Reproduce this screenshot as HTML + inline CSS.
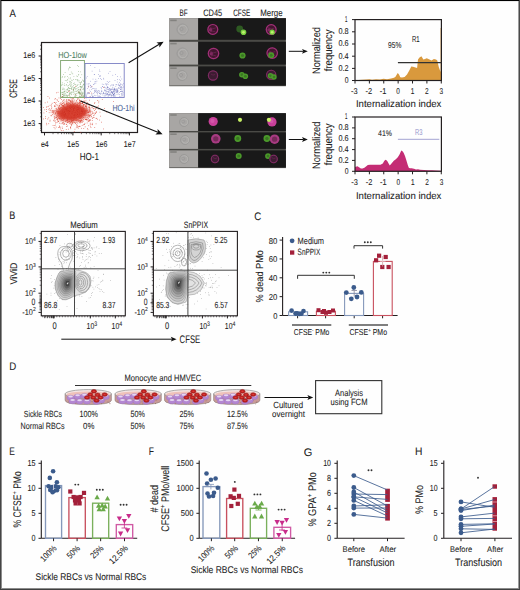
<!DOCTYPE html>
<html><head><meta charset="utf-8"><title>Figure</title>
<style>
html,body{margin:0;padding:0;background:#fefefe;}
body{width:520px;height:590px;overflow:hidden;}
svg{display:block;font-family:"Liberation Sans", sans-serif;text-rendering:geometricPrecision;}
text{stroke-width:0.07px;}
</style></head><body>
<svg width="520" height="590" viewBox="0 0 520 590">
<rect width="520" height="590" fill="#fefefe"/>
<text x="9.6" y="17.2" font-size="11" text-anchor="start" fill="#222" stroke="#222" textLength="6.4" lengthAdjust="spacingAndGlyphs">A</text>
<rect x="41.5" y="42.5" width="96" height="90" fill="none" stroke="#231f20" stroke-width="1.2"/>
<line x1="38.6" y1="56" x2="41.5" y2="56" stroke="#231f20" stroke-width="1"/>
<line x1="38.6" y1="78.5" x2="41.5" y2="78.5" stroke="#231f20" stroke-width="1"/>
<line x1="38.6" y1="101" x2="41.5" y2="101" stroke="#231f20" stroke-width="1"/>
<line x1="38.6" y1="123.6" x2="41.5" y2="123.6" stroke="#231f20" stroke-width="1"/>
<line x1="40.0" y1="71.76" x2="41.5" y2="71.76" stroke="#231f20" stroke-width="0.6"/>
<line x1="40.0" y1="67.79" x2="41.5" y2="67.79" stroke="#231f20" stroke-width="0.6"/>
<line x1="40.0" y1="64.97" x2="41.5" y2="64.97" stroke="#231f20" stroke-width="0.6"/>
<line x1="40.0" y1="62.79" x2="41.5" y2="62.79" stroke="#231f20" stroke-width="0.6"/>
<line x1="40.0" y1="61.0" x2="41.5" y2="61.0" stroke="#231f20" stroke-width="0.6"/>
<line x1="40.0" y1="59.49" x2="41.5" y2="59.49" stroke="#231f20" stroke-width="0.6"/>
<line x1="40.0" y1="58.19" x2="41.5" y2="58.19" stroke="#231f20" stroke-width="0.6"/>
<line x1="40.0" y1="57.03" x2="41.5" y2="57.03" stroke="#231f20" stroke-width="0.6"/>
<line x1="40.0" y1="94.26" x2="41.5" y2="94.26" stroke="#231f20" stroke-width="0.6"/>
<line x1="40.0" y1="90.29" x2="41.5" y2="90.29" stroke="#231f20" stroke-width="0.6"/>
<line x1="40.0" y1="87.47" x2="41.5" y2="87.47" stroke="#231f20" stroke-width="0.6"/>
<line x1="40.0" y1="85.29" x2="41.5" y2="85.29" stroke="#231f20" stroke-width="0.6"/>
<line x1="40.0" y1="83.5" x2="41.5" y2="83.5" stroke="#231f20" stroke-width="0.6"/>
<line x1="40.0" y1="81.99" x2="41.5" y2="81.99" stroke="#231f20" stroke-width="0.6"/>
<line x1="40.0" y1="80.69" x2="41.5" y2="80.69" stroke="#231f20" stroke-width="0.6"/>
<line x1="40.0" y1="79.53" x2="41.5" y2="79.53" stroke="#231f20" stroke-width="0.6"/>
<line x1="40.0" y1="116.76" x2="41.5" y2="116.76" stroke="#231f20" stroke-width="0.6"/>
<line x1="40.0" y1="112.79" x2="41.5" y2="112.79" stroke="#231f20" stroke-width="0.6"/>
<line x1="40.0" y1="109.97" x2="41.5" y2="109.97" stroke="#231f20" stroke-width="0.6"/>
<line x1="40.0" y1="107.79" x2="41.5" y2="107.79" stroke="#231f20" stroke-width="0.6"/>
<line x1="40.0" y1="106.0" x2="41.5" y2="106.0" stroke="#231f20" stroke-width="0.6"/>
<line x1="40.0" y1="104.49" x2="41.5" y2="104.49" stroke="#231f20" stroke-width="0.6"/>
<line x1="40.0" y1="103.19" x2="41.5" y2="103.19" stroke="#231f20" stroke-width="0.6"/>
<line x1="40.0" y1="102.03" x2="41.5" y2="102.03" stroke="#231f20" stroke-width="0.6"/>
<line x1="40.0" y1="130.39" x2="41.5" y2="130.39" stroke="#231f20" stroke-width="0.6"/>
<line x1="40.0" y1="128.6" x2="41.5" y2="128.6" stroke="#231f20" stroke-width="0.6"/>
<line x1="40.0" y1="127.09" x2="41.5" y2="127.09" stroke="#231f20" stroke-width="0.6"/>
<line x1="40.0" y1="125.79" x2="41.5" y2="125.79" stroke="#231f20" stroke-width="0.6"/>
<line x1="40.0" y1="124.63" x2="41.5" y2="124.63" stroke="#231f20" stroke-width="0.6"/>
<line x1="40.0" y1="49.21" x2="41.5" y2="49.21" stroke="#231f20" stroke-width="0.6"/>
<line x1="40.0" y1="45.24" x2="41.5" y2="45.24" stroke="#231f20" stroke-width="0.6"/>
<line x1="44.5" y1="132.5" x2="44.5" y2="135.4" stroke="#231f20" stroke-width="1"/>
<line x1="72.9" y1="132.5" x2="72.9" y2="135.4" stroke="#231f20" stroke-width="1"/>
<line x1="101.2" y1="132.5" x2="101.2" y2="135.4" stroke="#231f20" stroke-width="1"/>
<line x1="129.4" y1="132.5" x2="129.4" y2="135.4" stroke="#231f20" stroke-width="1"/>
<line x1="53.02" y1="132.5" x2="53.02" y2="134.2" stroke="#231f20" stroke-width="0.6"/>
<line x1="58.0" y1="132.5" x2="58.0" y2="134.2" stroke="#231f20" stroke-width="0.6"/>
<line x1="61.54" y1="132.5" x2="61.54" y2="134.2" stroke="#231f20" stroke-width="0.6"/>
<line x1="64.28" y1="132.5" x2="64.28" y2="134.2" stroke="#231f20" stroke-width="0.6"/>
<line x1="66.52" y1="132.5" x2="66.52" y2="134.2" stroke="#231f20" stroke-width="0.6"/>
<line x1="68.42" y1="132.5" x2="68.42" y2="134.2" stroke="#231f20" stroke-width="0.6"/>
<line x1="70.06" y1="132.5" x2="70.06" y2="134.2" stroke="#231f20" stroke-width="0.6"/>
<line x1="71.51" y1="132.5" x2="71.51" y2="134.2" stroke="#231f20" stroke-width="0.6"/>
<line x1="81.42" y1="132.5" x2="81.42" y2="134.2" stroke="#231f20" stroke-width="0.6"/>
<line x1="86.4" y1="132.5" x2="86.4" y2="134.2" stroke="#231f20" stroke-width="0.6"/>
<line x1="89.94" y1="132.5" x2="89.94" y2="134.2" stroke="#231f20" stroke-width="0.6"/>
<line x1="92.68" y1="132.5" x2="92.68" y2="134.2" stroke="#231f20" stroke-width="0.6"/>
<line x1="94.92" y1="132.5" x2="94.92" y2="134.2" stroke="#231f20" stroke-width="0.6"/>
<line x1="96.82" y1="132.5" x2="96.82" y2="134.2" stroke="#231f20" stroke-width="0.6"/>
<line x1="98.46" y1="132.5" x2="98.46" y2="134.2" stroke="#231f20" stroke-width="0.6"/>
<line x1="99.91" y1="132.5" x2="99.91" y2="134.2" stroke="#231f20" stroke-width="0.6"/>
<line x1="109.72" y1="132.5" x2="109.72" y2="134.2" stroke="#231f20" stroke-width="0.6"/>
<line x1="114.7" y1="132.5" x2="114.7" y2="134.2" stroke="#231f20" stroke-width="0.6"/>
<line x1="118.24" y1="132.5" x2="118.24" y2="134.2" stroke="#231f20" stroke-width="0.6"/>
<line x1="120.98" y1="132.5" x2="120.98" y2="134.2" stroke="#231f20" stroke-width="0.6"/>
<line x1="123.22" y1="132.5" x2="123.22" y2="134.2" stroke="#231f20" stroke-width="0.6"/>
<line x1="125.12" y1="132.5" x2="125.12" y2="134.2" stroke="#231f20" stroke-width="0.6"/>
<line x1="126.76" y1="132.5" x2="126.76" y2="134.2" stroke="#231f20" stroke-width="0.6"/>
<line x1="128.21" y1="132.5" x2="128.21" y2="134.2" stroke="#231f20" stroke-width="0.6"/>
<text x="35.3" y="58.4" font-size="8.51" text-anchor="end" fill="#222" stroke="#222" textLength="12.0" lengthAdjust="spacingAndGlyphs">1e6</text>
<text x="35.3" y="80.9" font-size="8.51" text-anchor="end" fill="#222" stroke="#222" textLength="12.0" lengthAdjust="spacingAndGlyphs">1e5</text>
<text x="35.3" y="103.4" font-size="8.51" text-anchor="end" fill="#222" stroke="#222" textLength="12.0" lengthAdjust="spacingAndGlyphs">1e4</text>
<text x="35.3" y="126.0" font-size="8.51" text-anchor="end" fill="#222" stroke="#222" textLength="12.0" lengthAdjust="spacingAndGlyphs">1e3</text>
<text x="44.8" y="146.9" font-size="8.51" text-anchor="middle" fill="#222" stroke="#222" textLength="7.8" lengthAdjust="spacingAndGlyphs">e4</text>
<text x="73.2" y="146.9" font-size="8.51" text-anchor="middle" fill="#222" stroke="#222" textLength="11.7" lengthAdjust="spacingAndGlyphs">1e5</text>
<text x="101.5" y="146.9" font-size="8.51" text-anchor="middle" fill="#222" stroke="#222" textLength="11.7" lengthAdjust="spacingAndGlyphs">1e6</text>
<text x="129.70000000000002" y="146.9" font-size="8.51" text-anchor="middle" fill="#222" stroke="#222" textLength="11.7" lengthAdjust="spacingAndGlyphs">1e7</text>
<text x="79.8" y="159.9" font-size="10.18" text-anchor="start" fill="#222" stroke="#222" textLength="19.2" lengthAdjust="spacingAndGlyphs">HO-1</text>
<text x="16.8" y="97.8" font-size="10.81" text-anchor="start" fill="#222" stroke="#222" textLength="18.6" lengthAdjust="spacingAndGlyphs" transform="rotate(-90 16.8 97.8)">CFSE</text>
<defs><filter id="bl1" x="-50%" y="-50%" width="200%" height="200%"><feGaussianBlur stdDeviation="1.6"/></filter><filter id="bl05"><feGaussianBlur stdDeviation="0.45"/></filter></defs>
<polygon points="52,113 60,105 71,100.5 82,103.5 92,111 86,118.5 73,123.5 60,121" fill="#e88a7c" opacity="0.5" filter="url(#bl1)"/>
<polygon points="56,113.5 63,107 71,103.5 80,105.5 88.5,111 84,116.5 73,120.5 62,119" fill="#d4382c" filter="url(#bl1)"/>
<polygon points="60,113 66,108 72,106 79,107.5 85,111.5 81,115.5 72,118.5 64,117.5" fill="#cc2e22" filter="url(#bl1)"/>
<g fill="#d84434">
<rect x="68.6" y="109.0" width=".7" height=".7"/>
<rect x="63.2" y="110.7" width=".7" height=".7"/>
<rect x="82.6" y="114.5" width=".7" height=".7"/>
<rect x="77.9" y="113.8" width=".7" height=".7"/>
<rect x="56.2" y="117.1" width=".7" height=".7"/>
<rect x="76.8" y="115.0" width=".7" height=".7"/>
<rect x="58.7" y="107.6" width=".7" height=".7"/>
<rect x="74.9" y="111.7" width=".7" height=".7"/>
<rect x="76.9" y="108.1" width=".7" height=".7"/>
<rect x="62.1" y="128.3" width=".7" height=".7"/>
<rect x="77.3" y="119.2" width=".7" height=".7"/>
<rect x="66.1" y="107.6" width=".7" height=".7"/>
<rect x="81.5" y="114.4" width=".7" height=".7"/>
<rect x="67.8" y="106.3" width=".7" height=".7"/>
<rect x="67.1" y="119.3" width=".7" height=".7"/>
<rect x="78.4" y="97.8" width=".7" height=".7"/>
<rect x="72.5" y="119.8" width=".7" height=".7"/>
<rect x="52.9" y="110.1" width=".7" height=".7"/>
<rect x="79.5" y="111.4" width=".7" height=".7"/>
<rect x="58.1" y="117.0" width=".7" height=".7"/>
<rect x="78.4" y="117.7" width=".7" height=".7"/>
<rect x="73.8" y="99.7" width=".7" height=".7"/>
<rect x="77.8" y="108.3" width=".7" height=".7"/>
<rect x="67.7" y="104.4" width=".7" height=".7"/>
<rect x="91.3" y="92.7" width=".7" height=".7"/>
<rect x="58.2" y="113.4" width=".7" height=".7"/>
<rect x="85.7" y="115.5" width=".7" height=".7"/>
<rect x="77.4" y="105.0" width=".7" height=".7"/>
<rect x="61.4" y="117.9" width=".7" height=".7"/>
<rect x="82.5" y="112.9" width=".7" height=".7"/>
<rect x="95.9" y="117.9" width=".7" height=".7"/>
<rect x="76.9" y="115.3" width=".7" height=".7"/>
<rect x="57.1" y="119.7" width=".7" height=".7"/>
<rect x="80.0" y="101.1" width=".7" height=".7"/>
<rect x="70.3" y="118.1" width=".7" height=".7"/>
<rect x="80.3" y="110.6" width=".7" height=".7"/>
<rect x="75.1" y="115.9" width=".7" height=".7"/>
<rect x="73.1" y="118.9" width=".7" height=".7"/>
<rect x="87.6" y="112.3" width=".7" height=".7"/>
<rect x="63.6" y="117.7" width=".7" height=".7"/>
<rect x="85.9" y="109.3" width=".7" height=".7"/>
<rect x="69.8" y="109.2" width=".7" height=".7"/>
<rect x="85.3" y="105.8" width=".7" height=".7"/>
<rect x="84.0" y="104.4" width=".7" height=".7"/>
<rect x="88.9" y="120.2" width=".7" height=".7"/>
<rect x="75.3" y="112.9" width=".7" height=".7"/>
<rect x="73.4" y="115.5" width=".7" height=".7"/>
<rect x="80.6" y="112.0" width=".7" height=".7"/>
<rect x="79.3" y="115.4" width=".7" height=".7"/>
<rect x="91.1" y="113.9" width=".7" height=".7"/>
<rect x="71.8" y="120.8" width=".7" height=".7"/>
<rect x="68.8" y="114.3" width=".7" height=".7"/>
<rect x="89.5" y="96.6" width=".7" height=".7"/>
<rect x="78.0" y="114.3" width=".7" height=".7"/>
<rect x="67.9" y="115.9" width=".7" height=".7"/>
<rect x="74.7" y="108.9" width=".7" height=".7"/>
<rect x="63.7" y="111.1" width=".7" height=".7"/>
<rect x="69.9" y="111.6" width=".7" height=".7"/>
<rect x="46.1" y="109.1" width=".7" height=".7"/>
<rect x="71.0" y="121.1" width=".7" height=".7"/>
<rect x="80.1" y="120.9" width=".7" height=".7"/>
<rect x="55.8" y="109.9" width=".7" height=".7"/>
<rect x="88.4" y="86.5" width=".7" height=".7"/>
<rect x="82.3" y="103.3" width=".7" height=".7"/>
<rect x="78.5" y="103.0" width=".7" height=".7"/>
<rect x="69.8" y="113.8" width=".7" height=".7"/>
<rect x="79.6" y="112.8" width=".7" height=".7"/>
<rect x="71.2" y="121.2" width=".7" height=".7"/>
<rect x="113.2" y="101.1" width=".7" height=".7"/>
<rect x="80.7" y="110.4" width=".7" height=".7"/>
<rect x="73.3" y="116.2" width=".7" height=".7"/>
<rect x="49.1" y="97.7" width=".7" height=".7"/>
<rect x="77.8" y="106.2" width=".7" height=".7"/>
<rect x="62.2" y="103.2" width=".7" height=".7"/>
<rect x="94.1" y="103.1" width=".7" height=".7"/>
<rect x="72.0" y="105.2" width=".7" height=".7"/>
<rect x="79.3" y="121.5" width=".7" height=".7"/>
<rect x="86.8" y="110.3" width=".7" height=".7"/>
<rect x="53.3" y="120.4" width=".7" height=".7"/>
<rect x="71.1" y="108.4" width=".7" height=".7"/>
<rect x="94.5" y="102.3" width=".7" height=".7"/>
<rect x="82.8" y="120.9" width=".7" height=".7"/>
<rect x="85.8" y="110.9" width=".7" height=".7"/>
<rect x="73.7" y="113.2" width=".7" height=".7"/>
<rect x="85.5" y="110.4" width=".7" height=".7"/>
<rect x="50.2" y="109.7" width=".7" height=".7"/>
<rect x="76.8" y="106.2" width=".7" height=".7"/>
<rect x="71.9" y="117.0" width=".7" height=".7"/>
<rect x="72.7" y="120.0" width=".7" height=".7"/>
<rect x="94.4" y="127.3" width=".7" height=".7"/>
<rect x="65.6" y="117.3" width=".7" height=".7"/>
<rect x="54.2" y="105.5" width=".7" height=".7"/>
<rect x="53.5" y="111.9" width=".7" height=".7"/>
<rect x="70.2" y="111.8" width=".7" height=".7"/>
<rect x="66.4" y="113.4" width=".7" height=".7"/>
<rect x="80.0" y="121.5" width=".7" height=".7"/>
<rect x="70.1" y="104.4" width=".7" height=".7"/>
<rect x="66.7" y="118.4" width=".7" height=".7"/>
<rect x="87.1" y="119.5" width=".7" height=".7"/>
<rect x="72.1" y="116.8" width=".7" height=".7"/>
<rect x="73.6" y="104.9" width=".7" height=".7"/>
<rect x="85.8" y="106.6" width=".7" height=".7"/>
<rect x="63.4" y="107.4" width=".7" height=".7"/>
<rect x="57.4" y="111.3" width=".7" height=".7"/>
<rect x="65.9" y="100.3" width=".7" height=".7"/>
<rect x="78.9" y="110.3" width=".7" height=".7"/>
<rect x="76.4" y="107.6" width=".7" height=".7"/>
<rect x="79.4" y="116.5" width=".7" height=".7"/>
<rect x="78.3" y="114.0" width=".7" height=".7"/>
<rect x="78.8" y="92.2" width=".7" height=".7"/>
<rect x="80.5" y="119.9" width=".7" height=".7"/>
<rect x="69.2" y="109.2" width=".7" height=".7"/>
<rect x="63.2" y="116.1" width=".7" height=".7"/>
<rect x="89.9" y="111.3" width=".7" height=".7"/>
<rect x="58.4" y="111.2" width=".7" height=".7"/>
<rect x="74.8" y="117.0" width=".7" height=".7"/>
<rect x="71.7" y="110.8" width=".7" height=".7"/>
<rect x="85.4" y="113.0" width=".7" height=".7"/>
<rect x="63.9" y="107.0" width=".7" height=".7"/>
<rect x="97.3" y="118.8" width=".7" height=".7"/>
<rect x="81.3" y="116.6" width=".7" height=".7"/>
<rect x="88.0" y="114.6" width=".7" height=".7"/>
<rect x="71.4" y="115.1" width=".7" height=".7"/>
<rect x="76.9" y="105.3" width=".7" height=".7"/>
<rect x="84.6" y="122.9" width=".7" height=".7"/>
<rect x="58.7" y="108.0" width=".7" height=".7"/>
<rect x="66.0" y="102.7" width=".7" height=".7"/>
<rect x="92.1" y="118.2" width=".7" height=".7"/>
<rect x="60.7" y="103.9" width=".7" height=".7"/>
<rect x="99.3" y="119.7" width=".7" height=".7"/>
<rect x="63.7" y="113.6" width=".7" height=".7"/>
<rect x="51.5" y="107.5" width=".7" height=".7"/>
<rect x="61.1" y="110.8" width=".7" height=".7"/>
<rect x="76.4" y="114.3" width=".7" height=".7"/>
<rect x="78.1" y="113.3" width=".7" height=".7"/>
<rect x="72.7" y="104.2" width=".7" height=".7"/>
<rect x="66.1" y="112.0" width=".7" height=".7"/>
<rect x="71.0" y="112.9" width=".7" height=".7"/>
<rect x="70.0" y="100.0" width=".7" height=".7"/>
<rect x="76.0" y="118.3" width=".7" height=".7"/>
<rect x="76.1" y="110.9" width=".7" height=".7"/>
<rect x="43.6" y="112.6" width=".7" height=".7"/>
<rect x="63.2" y="116.4" width=".7" height=".7"/>
<rect x="61.7" y="96.2" width=".7" height=".7"/>
<rect x="66.3" y="99.0" width=".7" height=".7"/>
<rect x="64.7" y="115.1" width=".7" height=".7"/>
<rect x="76.7" y="113.1" width=".7" height=".7"/>
<rect x="71.7" y="117.7" width=".7" height=".7"/>
<rect x="87.7" y="117.8" width=".7" height=".7"/>
<rect x="81.7" y="105.5" width=".7" height=".7"/>
<rect x="67.6" y="122.2" width=".7" height=".7"/>
<rect x="77.7" y="117.4" width=".7" height=".7"/>
<rect x="70.0" y="127.3" width=".7" height=".7"/>
<rect x="68.7" y="117.2" width=".7" height=".7"/>
<rect x="81.3" y="112.0" width=".7" height=".7"/>
<rect x="77.4" y="122.7" width=".7" height=".7"/>
<rect x="79.4" y="112.1" width=".7" height=".7"/>
<rect x="80.1" y="115.2" width=".7" height=".7"/>
<rect x="68.3" y="118.5" width=".7" height=".7"/>
<rect x="62.0" y="108.2" width=".7" height=".7"/>
<rect x="72.0" y="103.2" width=".7" height=".7"/>
<rect x="61.8" y="117.4" width=".7" height=".7"/>
<rect x="77.4" y="111.7" width=".7" height=".7"/>
<rect x="69.8" y="103.5" width=".7" height=".7"/>
<rect x="88.4" y="103.6" width=".7" height=".7"/>
<rect x="70.2" y="101.1" width=".7" height=".7"/>
<rect x="79.4" y="117.6" width=".7" height=".7"/>
<rect x="81.5" y="95.3" width=".7" height=".7"/>
<rect x="54.7" y="105.6" width=".7" height=".7"/>
<rect x="66.0" y="103.6" width=".7" height=".7"/>
<rect x="81.5" y="118.7" width=".7" height=".7"/>
<rect x="86.3" y="119.0" width=".7" height=".7"/>
<rect x="59.5" y="109.0" width=".7" height=".7"/>
<rect x="70.8" y="112.1" width=".7" height=".7"/>
<rect x="76.7" y="102.5" width=".7" height=".7"/>
<rect x="60.2" y="111.9" width=".7" height=".7"/>
<rect x="71.1" y="104.8" width=".7" height=".7"/>
<rect x="78.7" y="114.1" width=".7" height=".7"/>
<rect x="71.2" y="108.0" width=".7" height=".7"/>
<rect x="57.3" y="112.4" width=".7" height=".7"/>
<rect x="57.7" y="113.2" width=".7" height=".7"/>
<rect x="73.4" y="103.7" width=".7" height=".7"/>
<rect x="78.9" y="117.8" width=".7" height=".7"/>
<rect x="71.7" y="106.9" width=".7" height=".7"/>
<rect x="70.6" y="111.6" width=".7" height=".7"/>
<rect x="61.2" y="99.1" width=".7" height=".7"/>
<rect x="68.5" y="107.6" width=".7" height=".7"/>
<rect x="61.4" y="111.3" width=".7" height=".7"/>
<rect x="79.8" y="108.1" width=".7" height=".7"/>
<rect x="94.1" y="110.1" width=".7" height=".7"/>
<rect x="82.5" y="112.7" width=".7" height=".7"/>
<rect x="60.7" y="114.3" width=".7" height=".7"/>
<rect x="77.7" y="126.0" width=".7" height=".7"/>
<rect x="75.1" y="119.7" width=".7" height=".7"/>
<rect x="79.7" y="110.5" width=".7" height=".7"/>
<rect x="76.8" y="105.5" width=".7" height=".7"/>
<rect x="83.2" y="105.9" width=".7" height=".7"/>
<rect x="68.6" y="112.2" width=".7" height=".7"/>
<rect x="83.0" y="112.2" width=".7" height=".7"/>
<rect x="64.3" y="113.5" width=".7" height=".7"/>
<rect x="60.4" y="128.6" width=".7" height=".7"/>
<rect x="87.8" y="112.1" width=".7" height=".7"/>
<rect x="74.6" y="109.4" width=".7" height=".7"/>
<rect x="82.1" y="107.4" width=".7" height=".7"/>
<rect x="65.4" y="116.3" width=".7" height=".7"/>
<rect x="84.7" y="111.9" width=".7" height=".7"/>
<rect x="71.3" y="115.0" width=".7" height=".7"/>
<rect x="86.5" y="118.8" width=".7" height=".7"/>
<rect x="67.1" y="125.7" width=".7" height=".7"/>
<rect x="62.3" y="111.6" width=".7" height=".7"/>
<rect x="55.4" y="122.7" width=".7" height=".7"/>
<rect x="85.0" y="104.7" width=".7" height=".7"/>
<rect x="89.6" y="107.6" width=".7" height=".7"/>
<rect x="71.4" y="110.1" width=".7" height=".7"/>
<rect x="70.8" y="105.5" width=".7" height=".7"/>
<rect x="70.9" y="114.9" width=".7" height=".7"/>
<rect x="76.4" y="110.6" width=".7" height=".7"/>
<rect x="63.4" y="113.0" width=".7" height=".7"/>
<rect x="83.5" y="110.9" width=".7" height=".7"/>
<rect x="67.5" y="107.8" width=".7" height=".7"/>
<rect x="63.1" y="109.9" width=".7" height=".7"/>
<rect x="80.5" y="131.9" width=".7" height=".7"/>
<rect x="65.3" y="112.1" width=".7" height=".7"/>
<rect x="98.5" y="100.8" width=".7" height=".7"/>
<rect x="74.3" y="115.9" width=".7" height=".7"/>
<rect x="69.7" y="114.2" width=".7" height=".7"/>
<rect x="72.5" y="116.6" width=".7" height=".7"/>
<rect x="72.0" y="102.2" width=".7" height=".7"/>
<rect x="62.1" y="115.8" width=".7" height=".7"/>
<rect x="65.8" y="115.8" width=".7" height=".7"/>
<rect x="79.6" y="111.0" width=".7" height=".7"/>
<rect x="58.6" y="111.8" width=".7" height=".7"/>
<rect x="76.3" y="108.8" width=".7" height=".7"/>
<rect x="58.8" y="118.1" width=".7" height=".7"/>
<rect x="89.7" y="108.7" width=".7" height=".7"/>
<rect x="73.4" y="111.1" width=".7" height=".7"/>
<rect x="85.5" y="105.4" width=".7" height=".7"/>
<rect x="71.8" y="111.9" width=".7" height=".7"/>
<rect x="55.1" y="120.6" width=".7" height=".7"/>
<rect x="83.2" y="110.8" width=".7" height=".7"/>
<rect x="76.3" y="114.2" width=".7" height=".7"/>
<rect x="57.8" y="110.7" width=".7" height=".7"/>
<rect x="56.7" y="99.1" width=".7" height=".7"/>
<rect x="60.4" y="114.0" width=".7" height=".7"/>
<rect x="88.1" y="114.6" width=".7" height=".7"/>
<rect x="64.2" y="105.6" width=".7" height=".7"/>
<rect x="77.0" y="115.3" width=".7" height=".7"/>
<rect x="62.4" y="105.0" width=".7" height=".7"/>
<rect x="52.4" y="110.1" width=".7" height=".7"/>
<rect x="66.8" y="114.8" width=".7" height=".7"/>
<rect x="70.9" y="111.5" width=".7" height=".7"/>
<rect x="92.9" y="108.5" width=".7" height=".7"/>
<rect x="80.0" y="107.5" width=".7" height=".7"/>
<rect x="72.7" y="116.5" width=".7" height=".7"/>
<rect x="70.9" y="113.9" width=".7" height=".7"/>
<rect x="57.8" y="112.1" width=".7" height=".7"/>
<rect x="65.6" y="114.2" width=".7" height=".7"/>
<rect x="72.6" y="114.5" width=".7" height=".7"/>
<rect x="66.8" y="117.3" width=".7" height=".7"/>
<rect x="69.4" y="108.4" width=".7" height=".7"/>
<rect x="61.8" y="111.8" width=".7" height=".7"/>
<rect x="80.1" y="111.0" width=".7" height=".7"/>
<rect x="74.9" y="108.1" width=".7" height=".7"/>
<rect x="65.9" y="112.1" width=".7" height=".7"/>
<rect x="73.6" y="118.1" width=".7" height=".7"/>
<rect x="81.1" y="119.6" width=".7" height=".7"/>
<rect x="77.9" y="127.8" width=".7" height=".7"/>
<rect x="73.9" y="113.5" width=".7" height=".7"/>
<rect x="97.0" y="100.2" width=".7" height=".7"/>
<rect x="68.4" y="91.3" width=".7" height=".7"/>
<rect x="79.7" y="109.8" width=".7" height=".7"/>
<rect x="71.9" y="109.6" width=".7" height=".7"/>
<rect x="67.3" y="107.0" width=".7" height=".7"/>
<rect x="66.0" y="115.8" width=".7" height=".7"/>
<rect x="69.4" y="120.7" width=".7" height=".7"/>
<rect x="76.7" y="111.1" width=".7" height=".7"/>
<rect x="78.3" y="111.1" width=".7" height=".7"/>
<rect x="79.0" y="102.9" width=".7" height=".7"/>
<rect x="82.2" y="114.1" width=".7" height=".7"/>
<rect x="57.1" y="121.7" width=".7" height=".7"/>
<rect x="75.0" y="110.6" width=".7" height=".7"/>
<rect x="57.3" y="117.8" width=".7" height=".7"/>
<rect x="72.3" y="110.3" width=".7" height=".7"/>
<rect x="82.1" y="108.5" width=".7" height=".7"/>
<rect x="71.7" y="99.2" width=".7" height=".7"/>
<rect x="68.0" y="116.1" width=".7" height=".7"/>
<rect x="70.2" y="127.0" width=".7" height=".7"/>
<rect x="68.9" y="116.4" width=".7" height=".7"/>
<rect x="87.9" y="112.2" width=".7" height=".7"/>
<rect x="75.1" y="111.3" width=".7" height=".7"/>
<rect x="73.1" y="118.8" width=".7" height=".7"/>
<rect x="94.7" y="108.0" width=".7" height=".7"/>
<rect x="56.2" y="116.7" width=".7" height=".7"/>
<rect x="77.4" y="110.3" width=".7" height=".7"/>
<rect x="77.0" y="102.7" width=".7" height=".7"/>
<rect x="61.6" y="106.7" width=".7" height=".7"/>
<rect x="68.2" y="117.2" width=".7" height=".7"/>
<rect x="72.8" y="109.6" width=".7" height=".7"/>
<rect x="72.1" y="115.5" width=".7" height=".7"/>
<rect x="83.8" y="113.6" width=".7" height=".7"/>
<rect x="59.8" y="126.9" width=".7" height=".7"/>
<rect x="71.4" y="116.0" width=".7" height=".7"/>
<rect x="81.2" y="116.0" width=".7" height=".7"/>
<rect x="69.4" y="105.7" width=".7" height=".7"/>
<rect x="55.7" y="102.2" width=".7" height=".7"/>
<rect x="71.8" y="100.4" width=".7" height=".7"/>
<rect x="69.5" y="109.4" width=".7" height=".7"/>
<rect x="58.8" y="108.3" width=".7" height=".7"/>
<rect x="71.5" y="108.0" width=".7" height=".7"/>
<rect x="72.1" y="116.5" width=".7" height=".7"/>
<rect x="60.2" y="108.0" width=".7" height=".7"/>
<rect x="48.4" y="123.4" width=".7" height=".7"/>
<rect x="65.1" y="111.8" width=".7" height=".7"/>
<rect x="79.0" y="111.7" width=".7" height=".7"/>
<rect x="54.7" y="113.8" width=".7" height=".7"/>
<rect x="83.3" y="100.8" width=".7" height=".7"/>
<rect x="79.1" y="116.2" width=".7" height=".7"/>
<rect x="84.4" y="110.7" width=".7" height=".7"/>
<rect x="80.3" y="109.5" width=".7" height=".7"/>
<rect x="70.4" y="128.4" width=".7" height=".7"/>
<rect x="76.2" y="111.1" width=".7" height=".7"/>
<rect x="61.1" y="107.3" width=".7" height=".7"/>
<rect x="78.4" y="117.0" width=".7" height=".7"/>
<rect x="71.6" y="120.1" width=".7" height=".7"/>
<rect x="68.3" y="108.7" width=".7" height=".7"/>
<rect x="67.8" y="106.5" width=".7" height=".7"/>
<rect x="69.6" y="115.7" width=".7" height=".7"/>
<rect x="75.4" y="104.7" width=".7" height=".7"/>
<rect x="57.0" y="119.3" width=".7" height=".7"/>
<rect x="69.3" y="110.0" width=".7" height=".7"/>
<rect x="79.6" y="119.9" width=".7" height=".7"/>
<rect x="67.3" y="119.2" width=".7" height=".7"/>
<rect x="65.9" y="116.9" width=".7" height=".7"/>
<rect x="65.5" y="116.8" width=".7" height=".7"/>
<rect x="71.1" y="108.0" width=".7" height=".7"/>
<rect x="92.4" y="112.5" width=".7" height=".7"/>
<rect x="46.2" y="122.9" width=".7" height=".7"/>
<rect x="66.5" y="112.9" width=".7" height=".7"/>
<rect x="84.0" y="112.7" width=".7" height=".7"/>
<rect x="89.7" y="119.0" width=".7" height=".7"/>
<rect x="64.3" y="117.2" width=".7" height=".7"/>
<rect x="76.7" y="115.9" width=".7" height=".7"/>
<rect x="85.5" y="119.0" width=".7" height=".7"/>
<rect x="80.4" y="97.3" width=".7" height=".7"/>
<rect x="73.6" y="115.0" width=".7" height=".7"/>
<rect x="67.1" y="112.3" width=".7" height=".7"/>
<rect x="80.4" y="109.3" width=".7" height=".7"/>
<rect x="82.9" y="107.3" width=".7" height=".7"/>
<rect x="74.4" y="105.4" width=".7" height=".7"/>
<rect x="56.8" y="118.6" width=".7" height=".7"/>
<rect x="74.9" y="108.6" width=".7" height=".7"/>
<rect x="57.3" y="111.0" width=".7" height=".7"/>
<rect x="77.1" y="115.2" width=".7" height=".7"/>
<rect x="68.8" y="99.4" width=".7" height=".7"/>
<rect x="72.2" y="109.4" width=".7" height=".7"/>
<rect x="74.5" y="109.4" width=".7" height=".7"/>
<rect x="62.3" y="107.6" width=".7" height=".7"/>
<rect x="54.6" y="118.0" width=".7" height=".7"/>
<rect x="59.6" y="116.0" width=".7" height=".7"/>
<rect x="62.4" y="114.1" width=".7" height=".7"/>
<rect x="61.0" y="112.5" width=".7" height=".7"/>
<rect x="73.4" y="101.6" width=".7" height=".7"/>
<rect x="66.2" y="113.0" width=".7" height=".7"/>
<rect x="83.0" y="119.3" width=".7" height=".7"/>
<rect x="80.6" y="115.5" width=".7" height=".7"/>
<rect x="69.3" y="111.9" width=".7" height=".7"/>
<rect x="69.3" y="95.6" width=".7" height=".7"/>
<rect x="68.8" y="111.9" width=".7" height=".7"/>
<rect x="62.7" y="111.9" width=".7" height=".7"/>
<rect x="103.1" y="87.2" width=".7" height=".7"/>
<rect x="70.0" y="101.0" width=".7" height=".7"/>
<rect x="81.3" y="127.9" width=".7" height=".7"/>
<rect x="79.8" y="109.1" width=".7" height=".7"/>
<rect x="77.2" y="98.5" width=".7" height=".7"/>
<rect x="80.1" y="114.2" width=".7" height=".7"/>
<rect x="81.6" y="107.4" width=".7" height=".7"/>
<rect x="74.1" y="108.9" width=".7" height=".7"/>
<rect x="50.7" y="111.8" width=".7" height=".7"/>
<rect x="58.9" y="111.7" width=".7" height=".7"/>
<rect x="77.9" y="112.9" width=".7" height=".7"/>
<rect x="83.8" y="123.9" width=".7" height=".7"/>
<rect x="84.8" y="126.5" width=".7" height=".7"/>
<rect x="80.8" y="116.9" width=".7" height=".7"/>
<rect x="66.1" y="107.7" width=".7" height=".7"/>
<rect x="44.8" y="102.5" width=".7" height=".7"/>
<rect x="95.7" y="123.5" width=".7" height=".7"/>
<rect x="65.5" y="107.6" width=".7" height=".7"/>
<rect x="91.7" y="111.3" width=".7" height=".7"/>
<rect x="61.7" y="119.9" width=".7" height=".7"/>
<rect x="66.5" y="113.3" width=".7" height=".7"/>
<rect x="76.9" y="105.4" width=".7" height=".7"/>
<rect x="54.5" y="98.8" width=".7" height=".7"/>
<rect x="60.0" y="107.4" width=".7" height=".7"/>
<rect x="80.3" y="113.1" width=".7" height=".7"/>
<rect x="64.5" y="107.7" width=".7" height=".7"/>
<rect x="51.9" y="111.0" width=".7" height=".7"/>
<rect x="70.2" y="110.3" width=".7" height=".7"/>
<rect x="80.9" y="112.1" width=".7" height=".7"/>
<rect x="79.0" y="115.5" width=".7" height=".7"/>
<rect x="63.4" y="108.6" width=".7" height=".7"/>
<rect x="64.3" y="107.2" width=".7" height=".7"/>
<rect x="86.8" y="122.6" width=".7" height=".7"/>
<rect x="89.6" y="119.7" width=".7" height=".7"/>
<rect x="83.5" y="104.4" width=".7" height=".7"/>
<rect x="65.9" y="114.7" width=".7" height=".7"/>
<rect x="59.1" y="108.6" width=".7" height=".7"/>
<rect x="65.7" y="106.9" width=".7" height=".7"/>
<rect x="86.3" y="108.2" width=".7" height=".7"/>
<rect x="89.8" y="115.2" width=".7" height=".7"/>
<rect x="66.2" y="114.5" width=".7" height=".7"/>
<rect x="87.4" y="115.7" width=".7" height=".7"/>
<rect x="79.7" y="110.1" width=".7" height=".7"/>
<rect x="76.1" y="119.8" width=".7" height=".7"/>
<rect x="58.4" y="111.6" width=".7" height=".7"/>
<rect x="67.4" y="119.5" width=".7" height=".7"/>
<rect x="91.0" y="115.8" width=".7" height=".7"/>
<rect x="75.1" y="102.7" width=".7" height=".7"/>
<rect x="71.5" y="101.4" width=".7" height=".7"/>
<rect x="71.5" y="105.4" width=".7" height=".7"/>
<rect x="72.7" y="114.8" width=".7" height=".7"/>
<rect x="59.2" y="125.6" width=".7" height=".7"/>
<rect x="65.8" y="101.1" width=".7" height=".7"/>
<rect x="70.2" y="107.4" width=".7" height=".7"/>
<rect x="76.4" y="100.8" width=".7" height=".7"/>
<rect x="70.7" y="120.6" width=".7" height=".7"/>
<rect x="78.5" y="111.1" width=".7" height=".7"/>
<rect x="71.3" y="119.0" width=".7" height=".7"/>
<rect x="71.1" y="97.6" width=".7" height=".7"/>
<rect x="71.8" y="106.7" width=".7" height=".7"/>
<rect x="62.1" y="105.3" width=".7" height=".7"/>
<rect x="58.6" y="97.6" width=".7" height=".7"/>
<rect x="62.4" y="94.3" width=".7" height=".7"/>
<rect x="57.9" y="115.7" width=".7" height=".7"/>
<rect x="64.6" y="109.8" width=".7" height=".7"/>
<rect x="101.1" y="121.8" width=".7" height=".7"/>
<rect x="73.4" y="113.1" width=".7" height=".7"/>
<rect x="89.1" y="120.6" width=".7" height=".7"/>
<rect x="76.3" y="112.5" width=".7" height=".7"/>
<rect x="67.2" y="104.0" width=".7" height=".7"/>
<rect x="66.9" y="102.7" width=".7" height=".7"/>
<rect x="53.9" y="125.3" width=".7" height=".7"/>
<rect x="80.5" y="100.5" width=".7" height=".7"/>
<rect x="89.5" y="116.9" width=".7" height=".7"/>
<rect x="80.0" y="116.0" width=".7" height=".7"/>
<rect x="73.9" y="113.0" width=".7" height=".7"/>
<rect x="82.0" y="103.0" width=".7" height=".7"/>
<rect x="63.6" y="106.2" width=".7" height=".7"/>
<rect x="75.5" y="113.6" width=".7" height=".7"/>
<rect x="72.3" y="107.9" width=".7" height=".7"/>
<rect x="83.5" y="113.0" width=".7" height=".7"/>
<rect x="68.9" y="121.3" width=".7" height=".7"/>
<rect x="66.4" y="115.9" width=".7" height=".7"/>
<rect x="84.4" y="101.4" width=".7" height=".7"/>
<rect x="81.6" y="113.2" width=".7" height=".7"/>
<rect x="56.9" y="116.0" width=".7" height=".7"/>
<rect x="61.8" y="110.4" width=".7" height=".7"/>
<rect x="74.7" y="110.0" width=".7" height=".7"/>
<rect x="74.5" y="108.7" width=".7" height=".7"/>
<rect x="75.2" y="85.9" width=".7" height=".7"/>
<rect x="83.0" y="112.2" width=".7" height=".7"/>
<rect x="55.1" y="112.6" width=".7" height=".7"/>
<rect x="55.8" y="126.7" width=".7" height=".7"/>
<rect x="70.5" y="126.4" width=".7" height=".7"/>
<rect x="70.6" y="116.1" width=".7" height=".7"/>
<rect x="88.4" y="120.6" width=".7" height=".7"/>
<rect x="86.6" y="117.1" width=".7" height=".7"/>
<rect x="66.6" y="102.0" width=".7" height=".7"/>
<rect x="59.8" y="117.5" width=".7" height=".7"/>
<rect x="75.1" y="110.4" width=".7" height=".7"/>
<rect x="73.6" y="111.1" width=".7" height=".7"/>
<rect x="86.4" y="105.5" width=".7" height=".7"/>
<rect x="57.7" y="120.6" width=".7" height=".7"/>
<rect x="73.1" y="118.6" width=".7" height=".7"/>
<rect x="72.4" y="98.3" width=".7" height=".7"/>
<rect x="67.1" y="116.3" width=".7" height=".7"/>
<rect x="82.2" y="121.6" width=".7" height=".7"/>
<rect x="79.8" y="120.9" width=".7" height=".7"/>
<rect x="73.8" y="104.2" width=".7" height=".7"/>
<rect x="79.4" y="116.8" width=".7" height=".7"/>
<rect x="76.6" y="119.5" width=".7" height=".7"/>
<rect x="66.7" y="100.9" width=".7" height=".7"/>
<rect x="75.1" y="114.9" width=".7" height=".7"/>
<rect x="63.2" y="111.2" width=".7" height=".7"/>
<rect x="69.1" y="115.4" width=".7" height=".7"/>
<rect x="87.2" y="110.5" width=".7" height=".7"/>
<rect x="83.9" y="117.6" width=".7" height=".7"/>
<rect x="88.8" y="110.9" width=".7" height=".7"/>
<rect x="70.9" y="105.6" width=".7" height=".7"/>
<rect x="80.0" y="116.0" width=".7" height=".7"/>
<rect x="70.1" y="113.0" width=".7" height=".7"/>
<rect x="58.5" y="118.3" width=".7" height=".7"/>
<rect x="60.7" y="104.2" width=".7" height=".7"/>
<rect x="80.1" y="118.3" width=".7" height=".7"/>
<rect x="59.1" y="117.6" width=".7" height=".7"/>
<rect x="49.7" y="104.9" width=".7" height=".7"/>
<rect x="66.0" y="114.1" width=".7" height=".7"/>
<rect x="68.6" y="99.8" width=".7" height=".7"/>
<rect x="85.6" y="100.5" width=".7" height=".7"/>
<rect x="65.4" y="106.9" width=".7" height=".7"/>
<rect x="66.8" y="119.8" width=".7" height=".7"/>
<rect x="76.8" y="97.3" width=".7" height=".7"/>
<rect x="67.1" y="108.7" width=".7" height=".7"/>
<rect x="62.7" y="115.1" width=".7" height=".7"/>
<rect x="56.3" y="92.5" width=".7" height=".7"/>
<rect x="77.7" y="120.0" width=".7" height=".7"/>
<rect x="73.7" y="106.1" width=".7" height=".7"/>
<rect x="90.2" y="114.8" width=".7" height=".7"/>
<rect x="80.8" y="120.9" width=".7" height=".7"/>
<rect x="82.7" y="109.4" width=".7" height=".7"/>
<rect x="48.9" y="108.1" width=".7" height=".7"/>
<rect x="58.5" y="111.3" width=".7" height=".7"/>
<rect x="77.5" y="105.6" width=".7" height=".7"/>
<rect x="77.7" y="126.0" width=".7" height=".7"/>
<rect x="59.4" y="118.4" width=".7" height=".7"/>
<rect x="91.7" y="124.0" width=".7" height=".7"/>
<rect x="69.7" y="121.5" width=".7" height=".7"/>
<rect x="81.9" y="112.5" width=".7" height=".7"/>
<rect x="59.1" y="116.4" width=".7" height=".7"/>
<rect x="75.9" y="127.4" width=".7" height=".7"/>
<rect x="82.8" y="109.3" width=".7" height=".7"/>
<rect x="75.3" y="122.6" width=".7" height=".7"/>
<rect x="89.9" y="123.9" width=".7" height=".7"/>
<rect x="76.9" y="104.1" width=".7" height=".7"/>
<rect x="60.0" y="113.5" width=".7" height=".7"/>
<rect x="59.1" y="122.8" width=".7" height=".7"/>
<rect x="79.3" y="102.0" width=".7" height=".7"/>
<rect x="64.2" y="113.0" width=".7" height=".7"/>
<rect x="79.1" y="104.3" width=".7" height=".7"/>
<rect x="76.4" y="108.2" width=".7" height=".7"/>
<rect x="66.8" y="115.2" width=".7" height=".7"/>
<rect x="96.0" y="112.3" width=".7" height=".7"/>
<rect x="70.6" y="116.4" width=".7" height=".7"/>
<rect x="68.5" y="118.5" width=".7" height=".7"/>
<rect x="64.3" y="104.4" width=".7" height=".7"/>
<rect x="88.8" y="106.9" width=".7" height=".7"/>
<rect x="88.7" y="115.9" width=".7" height=".7"/>
<rect x="90.0" y="125.8" width=".7" height=".7"/>
<rect x="70.9" y="111.2" width=".7" height=".7"/>
<rect x="95.3" y="113.1" width=".7" height=".7"/>
<rect x="78.7" y="115.1" width=".7" height=".7"/>
<rect x="73.7" y="122.3" width=".7" height=".7"/>
<rect x="68.9" y="114.8" width=".7" height=".7"/>
<rect x="87.6" y="129.4" width=".7" height=".7"/>
<rect x="59.1" y="105.4" width=".7" height=".7"/>
<rect x="62.1" y="100.9" width=".7" height=".7"/>
<rect x="79.5" y="125.8" width=".7" height=".7"/>
<rect x="56.7" y="110.1" width=".7" height=".7"/>
<rect x="53.8" y="116.7" width=".7" height=".7"/>
<rect x="72.8" y="117.2" width=".7" height=".7"/>
<rect x="68.7" y="112.1" width=".7" height=".7"/>
<rect x="66.8" y="112.7" width=".7" height=".7"/>
<rect x="43.0" y="107.3" width=".7" height=".7"/>
<rect x="90.2" y="112.5" width=".7" height=".7"/>
<rect x="60.0" y="113.5" width=".7" height=".7"/>
<rect x="61.0" y="119.0" width=".7" height=".7"/>
<rect x="75.6" y="111.4" width=".7" height=".7"/>
<rect x="63.2" y="105.5" width=".7" height=".7"/>
<rect x="57.7" y="91.9" width=".7" height=".7"/>
<rect x="59.0" y="126.9" width=".7" height=".7"/>
<rect x="61.1" y="111.5" width=".7" height=".7"/>
<rect x="67.8" y="99.0" width=".7" height=".7"/>
<rect x="62.0" y="122.1" width=".7" height=".7"/>
<rect x="64.8" y="117.1" width=".7" height=".7"/>
<rect x="75.9" y="121.8" width=".7" height=".7"/>
<rect x="61.3" y="115.6" width=".7" height=".7"/>
<rect x="75.7" y="107.6" width=".7" height=".7"/>
<rect x="60.1" y="111.8" width=".7" height=".7"/>
<rect x="46.2" y="111.3" width=".7" height=".7"/>
<rect x="62.5" y="103.2" width=".7" height=".7"/>
<rect x="65.9" y="124.0" width=".7" height=".7"/>
<rect x="61.0" y="104.1" width=".7" height=".7"/>
<rect x="86.7" y="114.4" width=".7" height=".7"/>
<rect x="84.1" y="114.5" width=".7" height=".7"/>
<rect x="78.2" y="112.2" width=".7" height=".7"/>
<rect x="83.5" y="108.1" width=".7" height=".7"/>
<rect x="89.4" y="105.0" width=".7" height=".7"/>
<rect x="62.1" y="106.4" width=".7" height=".7"/>
<rect x="67.8" y="104.4" width=".7" height=".7"/>
<rect x="63.7" y="102.9" width=".7" height=".7"/>
<rect x="72.3" y="109.2" width=".7" height=".7"/>
<rect x="73.1" y="113.5" width=".7" height=".7"/>
<rect x="64.0" y="104.4" width=".7" height=".7"/>
<rect x="79.4" y="102.5" width=".7" height=".7"/>
<rect x="65.2" y="110.2" width=".7" height=".7"/>
<rect x="65.4" y="121.2" width=".7" height=".7"/>
<rect x="58.1" y="101.1" width=".7" height=".7"/>
<rect x="83.6" y="114.6" width=".7" height=".7"/>
<rect x="79.3" y="100.4" width=".7" height=".7"/>
<rect x="81.0" y="108.8" width=".7" height=".7"/>
<rect x="81.4" y="112.5" width=".7" height=".7"/>
<rect x="88.9" y="110.7" width=".7" height=".7"/>
<rect x="68.2" y="113.5" width=".7" height=".7"/>
<rect x="68.0" y="108.7" width=".7" height=".7"/>
<rect x="94.8" y="112.4" width=".7" height=".7"/>
<rect x="89.9" y="122.8" width=".7" height=".7"/>
<rect x="88.3" y="118.4" width=".7" height=".7"/>
<rect x="69.9" y="105.1" width=".7" height=".7"/>
<rect x="71.4" y="108.2" width=".7" height=".7"/>
<rect x="87.6" y="115.2" width=".7" height=".7"/>
<rect x="71.2" y="108.0" width=".7" height=".7"/>
<rect x="61.7" y="105.2" width=".7" height=".7"/>
<rect x="50.6" y="115.4" width=".7" height=".7"/>
<rect x="71.5" y="110.6" width=".7" height=".7"/>
<rect x="85.7" y="112.8" width=".7" height=".7"/>
<rect x="73.6" y="109.8" width=".7" height=".7"/>
<rect x="87.0" y="128.3" width=".7" height=".7"/>
<rect x="68.7" y="112.2" width=".7" height=".7"/>
<rect x="63.6" y="117.8" width=".7" height=".7"/>
<rect x="88.4" y="125.4" width=".7" height=".7"/>
<rect x="63.1" y="118.5" width=".7" height=".7"/>
<rect x="65.2" y="107.5" width=".7" height=".7"/>
<rect x="96.7" y="106.4" width=".7" height=".7"/>
<rect x="64.8" y="110.0" width=".7" height=".7"/>
<rect x="95.8" y="118.0" width=".7" height=".7"/>
<rect x="61.9" y="123.3" width=".7" height=".7"/>
<rect x="89.7" y="110.4" width=".7" height=".7"/>
<rect x="65.4" y="108.9" width=".7" height=".7"/>
<rect x="55.7" y="122.1" width=".7" height=".7"/>
<rect x="55.8" y="104.4" width=".7" height=".7"/>
<rect x="74.7" y="107.4" width=".7" height=".7"/>
<rect x="54.4" y="117.9" width=".7" height=".7"/>
<rect x="80.0" y="100.5" width=".7" height=".7"/>
<rect x="89.3" y="115.0" width=".7" height=".7"/>
<rect x="61.2" y="108.7" width=".7" height=".7"/>
<rect x="82.2" y="103.2" width=".7" height=".7"/>
<rect x="63.6" y="99.8" width=".7" height=".7"/>
<rect x="46.7" y="106.4" width=".7" height=".7"/>
<rect x="76.8" y="121.5" width=".7" height=".7"/>
<rect x="78.3" y="110.2" width=".7" height=".7"/>
<rect x="62.0" y="113.4" width=".7" height=".7"/>
<rect x="71.5" y="122.0" width=".7" height=".7"/>
<rect x="74.7" y="105.6" width=".7" height=".7"/>
<rect x="73.5" y="105.1" width=".7" height=".7"/>
<rect x="54.2" y="105.9" width=".7" height=".7"/>
<rect x="80.7" y="107.2" width=".7" height=".7"/>
<rect x="75.7" y="117.8" width=".7" height=".7"/>
<rect x="78.2" y="120.5" width=".7" height=".7"/>
<rect x="64.0" y="117.9" width=".7" height=".7"/>
<rect x="74.7" y="114.3" width=".7" height=".7"/>
<rect x="81.2" y="111.9" width=".7" height=".7"/>
<rect x="82.6" y="117.3" width=".7" height=".7"/>
<rect x="60.7" y="107.0" width=".7" height=".7"/>
<rect x="70.1" y="111.9" width=".7" height=".7"/>
<rect x="100.3" y="115.8" width=".7" height=".7"/>
<rect x="61.3" y="109.0" width=".7" height=".7"/>
<rect x="73.8" y="105.8" width=".7" height=".7"/>
<rect x="87.3" y="108.6" width=".7" height=".7"/>
<rect x="71.9" y="114.6" width=".7" height=".7"/>
<rect x="73.8" y="115.6" width=".7" height=".7"/>
<rect x="74.7" y="113.0" width=".7" height=".7"/>
<rect x="74.9" y="110.8" width=".7" height=".7"/>
<rect x="64.2" y="108.5" width=".7" height=".7"/>
<rect x="71.1" y="124.2" width=".7" height=".7"/>
<rect x="56.9" y="100.4" width=".7" height=".7"/>
<rect x="67.4" y="106.8" width=".7" height=".7"/>
<rect x="117.4" y="105.7" width=".7" height=".7"/>
<rect x="72.5" y="113.7" width=".7" height=".7"/>
<rect x="71.7" y="117.6" width=".7" height=".7"/>
<rect x="74.4" y="109.5" width=".7" height=".7"/>
<rect x="75.4" y="102.8" width=".7" height=".7"/>
<rect x="55.3" y="98.1" width=".7" height=".7"/>
<rect x="73.1" y="89.5" width=".7" height=".7"/>
<rect x="68.5" y="107.5" width=".7" height=".7"/>
<rect x="58.6" y="106.5" width=".7" height=".7"/>
<rect x="71.7" y="116.9" width=".7" height=".7"/>
<rect x="66.3" y="112.4" width=".7" height=".7"/>
<rect x="72.4" y="115.3" width=".7" height=".7"/>
<rect x="70.0" y="105.9" width=".7" height=".7"/>
<rect x="93.2" y="115.1" width=".7" height=".7"/>
<rect x="76.1" y="125.7" width=".7" height=".7"/>
<rect x="82.4" y="120.0" width=".7" height=".7"/>
<rect x="89.9" y="119.9" width=".7" height=".7"/>
<rect x="79.3" y="104.9" width=".7" height=".7"/>
<rect x="79.6" y="102.3" width=".7" height=".7"/>
<rect x="68.3" y="109.6" width=".7" height=".7"/>
<rect x="72.6" y="114.0" width=".7" height=".7"/>
<rect x="90.6" y="127.2" width=".7" height=".7"/>
<rect x="71.0" y="118.1" width=".7" height=".7"/>
<rect x="76.2" y="116.0" width=".7" height=".7"/>
<rect x="80.6" y="121.6" width=".7" height=".7"/>
<rect x="63.5" y="123.8" width=".7" height=".7"/>
<rect x="91.9" y="122.9" width=".7" height=".7"/>
<rect x="66.9" y="106.3" width=".7" height=".7"/>
<rect x="64.3" y="112.7" width=".7" height=".7"/>
<rect x="71.7" y="116.0" width=".7" height=".7"/>
<rect x="106.1" y="111.7" width=".7" height=".7"/>
<rect x="78.4" y="114.9" width=".7" height=".7"/>
<rect x="74.6" y="110.7" width=".7" height=".7"/>
<rect x="74.7" y="111.8" width=".7" height=".7"/>
<rect x="75.0" y="106.9" width=".7" height=".7"/>
<rect x="72.4" y="112.3" width=".7" height=".7"/>
<rect x="78.3" y="121.3" width=".7" height=".7"/>
<rect x="77.7" y="109.8" width=".7" height=".7"/>
<rect x="67.3" y="110.6" width=".7" height=".7"/>
<rect x="69.6" y="105.9" width=".7" height=".7"/>
<rect x="75.6" y="113.2" width=".7" height=".7"/>
<rect x="63.4" y="107.6" width=".7" height=".7"/>
<rect x="54.1" y="102.3" width=".7" height=".7"/>
<rect x="76.7" y="104.7" width=".7" height=".7"/>
<rect x="73.0" y="114.1" width=".7" height=".7"/>
<rect x="71.1" y="108.8" width=".7" height=".7"/>
<rect x="75.2" y="107.0" width=".7" height=".7"/>
<rect x="82.4" y="101.9" width=".7" height=".7"/>
<rect x="86.4" y="106.2" width=".7" height=".7"/>
<rect x="77.2" y="108.6" width=".7" height=".7"/>
<rect x="79.0" y="122.4" width=".7" height=".7"/>
<rect x="58.1" y="121.2" width=".7" height=".7"/>
<rect x="83.5" y="112.2" width=".7" height=".7"/>
<rect x="61.2" y="114.4" width=".7" height=".7"/>
<rect x="84.2" y="94.6" width=".7" height=".7"/>
<rect x="65.5" y="120.5" width=".7" height=".7"/>
<rect x="60.4" y="118.8" width=".7" height=".7"/>
<rect x="88.8" y="108.8" width=".7" height=".7"/>
<rect x="60.4" y="111.4" width=".7" height=".7"/>
<rect x="70.1" y="111.7" width=".7" height=".7"/>
<rect x="74.9" y="116.0" width=".7" height=".7"/>
<rect x="71.9" y="123.1" width=".7" height=".7"/>
<rect x="76.2" y="112.5" width=".7" height=".7"/>
<rect x="92.2" y="113.4" width=".7" height=".7"/>
<rect x="61.8" y="108.6" width=".7" height=".7"/>
<rect x="70.7" y="109.3" width=".7" height=".7"/>
<rect x="79.4" y="113.4" width=".7" height=".7"/>
<rect x="60.8" y="112.3" width=".7" height=".7"/>
<rect x="71.1" y="115.0" width=".7" height=".7"/>
<rect x="47.0" y="101.7" width=".7" height=".7"/>
<rect x="79.5" y="118.2" width=".7" height=".7"/>
<rect x="71.9" y="108.4" width=".7" height=".7"/>
<rect x="60.0" y="118.4" width=".7" height=".7"/>
<rect x="78.2" y="105.8" width=".7" height=".7"/>
<rect x="54.1" y="120.7" width=".7" height=".7"/>
<rect x="72.8" y="120.6" width=".7" height=".7"/>
<rect x="47.4" y="118.7" width=".7" height=".7"/>
<rect x="79.0" y="99.5" width=".7" height=".7"/>
<rect x="89.1" y="115.8" width=".7" height=".7"/>
<rect x="93.4" y="108.3" width=".7" height=".7"/>
<rect x="72.0" y="118.3" width=".7" height=".7"/>
<rect x="66.4" y="111.3" width=".7" height=".7"/>
<rect x="61.7" y="114.9" width=".7" height=".7"/>
<rect x="77.2" y="112.4" width=".7" height=".7"/>
<rect x="91.6" y="106.8" width=".7" height=".7"/>
<rect x="79.2" y="100.4" width=".7" height=".7"/>
<rect x="73.9" y="110.9" width=".7" height=".7"/>
<rect x="66.8" y="105.2" width=".7" height=".7"/>
<rect x="51.2" y="108.4" width=".7" height=".7"/>
<rect x="66.8" y="108.9" width=".7" height=".7"/>
<rect x="83.8" y="109.6" width=".7" height=".7"/>
<rect x="67.3" y="120.1" width=".7" height=".7"/>
<rect x="81.3" y="117.5" width=".7" height=".7"/>
<rect x="70.1" y="122.6" width=".7" height=".7"/>
<rect x="66.7" y="111.3" width=".7" height=".7"/>
<rect x="75.6" y="114.2" width=".7" height=".7"/>
<rect x="69.3" y="118.9" width=".7" height=".7"/>
<rect x="82.2" y="116.0" width=".7" height=".7"/>
<rect x="79.0" y="105.0" width=".7" height=".7"/>
<rect x="79.1" y="126.3" width=".7" height=".7"/>
<rect x="60.4" y="113.8" width=".7" height=".7"/>
<rect x="63.9" y="107.6" width=".7" height=".7"/>
<rect x="75.2" y="123.2" width=".7" height=".7"/>
<rect x="62.6" y="117.3" width=".7" height=".7"/>
<rect x="80.8" y="112.4" width=".7" height=".7"/>
<rect x="55.7" y="108.2" width=".7" height=".7"/>
<rect x="65.9" y="129.3" width=".7" height=".7"/>
<rect x="67.4" y="121.9" width=".7" height=".7"/>
<rect x="83.2" y="104.6" width=".7" height=".7"/>
<rect x="80.7" y="114.3" width=".7" height=".7"/>
<rect x="57.6" y="115.6" width=".7" height=".7"/>
<rect x="95.8" y="108.1" width=".7" height=".7"/>
<rect x="76.9" y="116.5" width=".7" height=".7"/>
<rect x="63.4" y="119.2" width=".7" height=".7"/>
<rect x="79.8" y="101.7" width=".7" height=".7"/>
<rect x="70.9" y="102.1" width=".7" height=".7"/>
<rect x="72.7" y="105.2" width=".7" height=".7"/>
<rect x="78.7" y="109.5" width=".7" height=".7"/>
<rect x="72.6" y="111.6" width=".7" height=".7"/>
<rect x="73.2" y="104.1" width=".7" height=".7"/>
<rect x="58.0" y="107.7" width=".7" height=".7"/>
<rect x="76.1" y="100.1" width=".7" height=".7"/>
<rect x="64.7" y="108.3" width=".7" height=".7"/>
<rect x="69.9" y="104.2" width=".7" height=".7"/>
<rect x="62.6" y="116.8" width=".7" height=".7"/>
<rect x="65.7" y="115.5" width=".7" height=".7"/>
<rect x="55.7" y="112.0" width=".7" height=".7"/>
<rect x="75.2" y="116.7" width=".7" height=".7"/>
<rect x="79.6" y="118.2" width=".7" height=".7"/>
<rect x="83.6" y="108.0" width=".7" height=".7"/>
<rect x="82.0" y="102.5" width=".7" height=".7"/>
<rect x="78.2" y="111.0" width=".7" height=".7"/>
<rect x="76.7" y="112.2" width=".7" height=".7"/>
<rect x="61.8" y="109.2" width=".7" height=".7"/>
<rect x="86.4" y="107.0" width=".7" height=".7"/>
<rect x="54.0" y="110.7" width=".7" height=".7"/>
<rect x="68.3" y="106.5" width=".7" height=".7"/>
<rect x="64.0" y="118.3" width=".7" height=".7"/>
<rect x="63.8" y="101.6" width=".7" height=".7"/>
<rect x="79.5" y="115.4" width=".7" height=".7"/>
<rect x="62.1" y="116.5" width=".7" height=".7"/>
<rect x="88.9" y="109.6" width=".7" height=".7"/>
<rect x="59.6" y="115.1" width=".7" height=".7"/>
<rect x="80.7" y="111.9" width=".7" height=".7"/>
<rect x="78.3" y="119.3" width=".7" height=".7"/>
<rect x="89.6" y="110.5" width=".7" height=".7"/>
<rect x="67.4" y="111.8" width=".7" height=".7"/>
<rect x="91.6" y="85.9" width=".7" height=".7"/>
<rect x="79.6" y="107.9" width=".7" height=".7"/>
<rect x="76.4" y="116.1" width=".7" height=".7"/>
<rect x="75.6" y="117.6" width=".7" height=".7"/>
<rect x="63.2" y="106.1" width=".7" height=".7"/>
<rect x="53.7" y="127.2" width=".7" height=".7"/>
<rect x="49.6" y="120.8" width=".7" height=".7"/>
<rect x="66.9" y="120.6" width=".7" height=".7"/>
<rect x="80.1" y="112.1" width=".7" height=".7"/>
<rect x="67.1" y="106.5" width=".7" height=".7"/>
<rect x="59.9" y="112.1" width=".7" height=".7"/>
<rect x="70.6" y="120.6" width=".7" height=".7"/>
<rect x="58.2" y="107.6" width=".7" height=".7"/>
<rect x="76.0" y="114.4" width=".7" height=".7"/>
<rect x="72.3" y="109.2" width=".7" height=".7"/>
<rect x="44.4" y="109.5" width=".7" height=".7"/>
<rect x="58.9" y="104.9" width=".7" height=".7"/>
<rect x="73.4" y="112.4" width=".7" height=".7"/>
<rect x="69.0" y="103.3" width=".7" height=".7"/>
<rect x="75.6" y="116.1" width=".7" height=".7"/>
<rect x="88.7" y="119.6" width=".7" height=".7"/>
<rect x="57.9" y="114.9" width=".7" height=".7"/>
<rect x="90.8" y="116.3" width=".7" height=".7"/>
<rect x="51.1" y="104.5" width=".7" height=".7"/>
<rect x="72.0" y="114.8" width=".7" height=".7"/>
<rect x="88.9" y="107.0" width=".7" height=".7"/>
<rect x="63.9" y="123.8" width=".7" height=".7"/>
<rect x="48.8" y="112.4" width=".7" height=".7"/>
<rect x="72.4" y="118.0" width=".7" height=".7"/>
<rect x="60.9" y="130.1" width=".7" height=".7"/>
<rect x="55.2" y="113.0" width=".7" height=".7"/>
<rect x="72.2" y="115.7" width=".7" height=".7"/>
<rect x="84.2" y="110.6" width=".7" height=".7"/>
<rect x="67.7" y="110.9" width=".7" height=".7"/>
<rect x="62.8" y="110.8" width=".7" height=".7"/>
<rect x="92.0" y="124.4" width=".7" height=".7"/>
<rect x="67.8" y="115.6" width=".7" height=".7"/>
<rect x="74.8" y="116.6" width=".7" height=".7"/>
<rect x="65.0" y="104.5" width=".7" height=".7"/>
<rect x="80.3" y="119.8" width=".7" height=".7"/>
<rect x="78.3" y="114.6" width=".7" height=".7"/>
<rect x="45.3" y="118.3" width=".7" height=".7"/>
<rect x="73.9" y="108.7" width=".7" height=".7"/>
<rect x="62.8" y="119.7" width=".7" height=".7"/>
<rect x="65.2" y="111.9" width=".7" height=".7"/>
<rect x="67.2" y="112.9" width=".7" height=".7"/>
<rect x="88.1" y="104.5" width=".7" height=".7"/>
<rect x="67.2" y="115.3" width=".7" height=".7"/>
<rect x="66.9" y="109.4" width=".7" height=".7"/>
<rect x="53.3" y="111.0" width=".7" height=".7"/>
<rect x="69.9" y="122.2" width=".7" height=".7"/>
<rect x="61.6" y="117.8" width=".7" height=".7"/>
<rect x="67.1" y="114.6" width=".7" height=".7"/>
<rect x="80.2" y="122.5" width=".7" height=".7"/>
<rect x="66.0" y="120.0" width=".7" height=".7"/>
<rect x="60.6" y="120.6" width=".7" height=".7"/>
<rect x="71.0" y="114.1" width=".7" height=".7"/>
<rect x="69.4" y="116.0" width=".7" height=".7"/>
<rect x="68.9" y="121.5" width=".7" height=".7"/>
<rect x="85.8" y="106.4" width=".7" height=".7"/>
<rect x="86.0" y="104.0" width=".7" height=".7"/>
<rect x="94.2" y="114.6" width=".7" height=".7"/>
<rect x="67.4" y="107.2" width=".7" height=".7"/>
<rect x="60.1" y="116.6" width=".7" height=".7"/>
<rect x="80.0" y="104.7" width=".7" height=".7"/>
<rect x="67.8" y="109.2" width=".7" height=".7"/>
<rect x="87.7" y="120.8" width=".7" height=".7"/>
<rect x="76.1" y="112.7" width=".7" height=".7"/>
<rect x="75.3" y="115.4" width=".7" height=".7"/>
<rect x="69.0" y="117.6" width=".7" height=".7"/>
<rect x="65.9" y="107.4" width=".7" height=".7"/>
<rect x="78.6" y="105.4" width=".7" height=".7"/>
<rect x="70.5" y="107.5" width=".7" height=".7"/>
<rect x="71.6" y="112.3" width=".7" height=".7"/>
<rect x="80.3" y="103.0" width=".7" height=".7"/>
<rect x="71.4" y="113.7" width=".7" height=".7"/>
<rect x="82.7" y="114.1" width=".7" height=".7"/>
<rect x="84.9" y="118.8" width=".7" height=".7"/>
<rect x="77.2" y="124.9" width=".7" height=".7"/>
<rect x="66.9" y="103.1" width=".7" height=".7"/>
<rect x="71.7" y="100.7" width=".7" height=".7"/>
<rect x="71.2" y="114.6" width=".7" height=".7"/>
<rect x="92.8" y="105.8" width=".7" height=".7"/>
<rect x="70.7" y="100.7" width=".7" height=".7"/>
<rect x="64.8" y="107.3" width=".7" height=".7"/>
<rect x="55.8" y="117.0" width=".7" height=".7"/>
<rect x="76.5" y="110.6" width=".7" height=".7"/>
<rect x="72.2" y="110.2" width=".7" height=".7"/>
<rect x="70.7" y="123.9" width=".7" height=".7"/>
<rect x="85.3" y="110.4" width=".7" height=".7"/>
<rect x="65.1" y="110.8" width=".7" height=".7"/>
<rect x="63.5" y="115.4" width=".7" height=".7"/>
<rect x="70.1" y="115.0" width=".7" height=".7"/>
<rect x="68.2" y="103.4" width=".7" height=".7"/>
<rect x="55.8" y="111.0" width=".7" height=".7"/>
<rect x="80.1" y="109.8" width=".7" height=".7"/>
<rect x="66.0" y="123.9" width=".7" height=".7"/>
<rect x="58.2" y="127.1" width=".7" height=".7"/>
<rect x="56.7" y="109.0" width=".7" height=".7"/>
<rect x="78.8" y="119.8" width=".7" height=".7"/>
<rect x="74.9" y="94.2" width=".7" height=".7"/>
<rect x="77.9" y="115.3" width=".7" height=".7"/>
<rect x="67.9" y="115.1" width=".7" height=".7"/>
<rect x="79.6" y="126.0" width=".7" height=".7"/>
<rect x="67.6" y="112.9" width=".7" height=".7"/>
<rect x="67.2" y="118.0" width=".7" height=".7"/>
<rect x="74.0" y="112.6" width=".7" height=".7"/>
<rect x="87.8" y="111.5" width=".7" height=".7"/>
<rect x="85.0" y="116.8" width=".7" height=".7"/>
<rect x="85.5" y="119.0" width=".7" height=".7"/>
<rect x="66.4" y="113.6" width=".7" height=".7"/>
<rect x="70.8" y="111.8" width=".7" height=".7"/>
<rect x="47.6" y="96.0" width=".7" height=".7"/>
<rect x="67.8" y="108.3" width=".7" height=".7"/>
<rect x="72.1" y="115.3" width=".7" height=".7"/>
<rect x="78.7" y="105.3" width=".7" height=".7"/>
<rect x="77.3" y="119.9" width=".7" height=".7"/>
<rect x="84.3" y="100.7" width=".7" height=".7"/>
<rect x="84.0" y="98.3" width=".7" height=".7"/>
<rect x="69.2" y="115.4" width=".7" height=".7"/>
<rect x="75.8" y="107.3" width=".7" height=".7"/>
<rect x="52.7" y="125.1" width=".7" height=".7"/>
<rect x="72.2" y="113.7" width=".7" height=".7"/>
<rect x="59.8" y="108.6" width=".7" height=".7"/>
<rect x="101.9" y="99.2" width=".7" height=".7"/>
<rect x="60.8" y="112.2" width=".7" height=".7"/>
<rect x="76.4" y="116.2" width=".7" height=".7"/>
<rect x="68.6" y="106.7" width=".7" height=".7"/>
<rect x="48.4" y="117.5" width=".7" height=".7"/>
<rect x="74.3" y="112.9" width=".7" height=".7"/>
<rect x="71.8" y="111.3" width=".7" height=".7"/>
<rect x="82.1" y="102.1" width=".7" height=".7"/>
<rect x="74.3" y="105.9" width=".7" height=".7"/>
<rect x="56.4" y="111.1" width=".7" height=".7"/>
<rect x="66.6" y="117.5" width=".7" height=".7"/>
<rect x="63.1" y="102.3" width=".7" height=".7"/>
<rect x="67.4" y="121.9" width=".7" height=".7"/>
<rect x="63.9" y="109.8" width=".7" height=".7"/>
<rect x="73.3" y="114.4" width=".7" height=".7"/>
<rect x="104.3" y="108.3" width=".7" height=".7"/>
<rect x="89.1" y="99.8" width=".7" height=".7"/>
<rect x="84.8" y="110.0" width=".7" height=".7"/>
<rect x="62.8" y="100.3" width=".7" height=".7"/>
<rect x="68.4" y="119.5" width=".7" height=".7"/>
<rect x="82.4" y="110.0" width=".7" height=".7"/>
<rect x="54.7" y="128.5" width=".7" height=".7"/>
<rect x="78.1" y="112.7" width=".7" height=".7"/>
<rect x="67.5" y="106.1" width=".7" height=".7"/>
<rect x="58.3" y="121.0" width=".7" height=".7"/>
<rect x="61.9" y="115.7" width=".7" height=".7"/>
<rect x="63.2" y="109.6" width=".7" height=".7"/>
<rect x="86.6" y="104.4" width=".7" height=".7"/>
<rect x="86.4" y="119.7" width=".7" height=".7"/>
<rect x="71.9" y="114.7" width=".7" height=".7"/>
<rect x="53.0" y="112.8" width=".7" height=".7"/>
<rect x="73.8" y="119.7" width=".7" height=".7"/>
<rect x="80.6" y="116.7" width=".7" height=".7"/>
<rect x="67.1" y="114.0" width=".7" height=".7"/>
<rect x="54.4" y="116.4" width=".7" height=".7"/>
<rect x="57.7" y="109.0" width=".7" height=".7"/>
<rect x="95.9" y="111.1" width=".7" height=".7"/>
<rect x="86.3" y="118.8" width=".7" height=".7"/>
<rect x="67.5" y="114.3" width=".7" height=".7"/>
<rect x="73.3" y="106.9" width=".7" height=".7"/>
<rect x="72.5" y="110.0" width=".7" height=".7"/>
<rect x="72.8" y="117.8" width=".7" height=".7"/>
<rect x="74.9" y="119.8" width=".7" height=".7"/>
<rect x="69.4" y="105.9" width=".7" height=".7"/>
<rect x="82.1" y="106.6" width=".7" height=".7"/>
<rect x="98.4" y="102.5" width=".7" height=".7"/>
<rect x="79.7" y="120.6" width=".7" height=".7"/>
<rect x="63.2" y="120.6" width=".7" height=".7"/>
<rect x="82.4" y="118.4" width=".7" height=".7"/>
<rect x="70.2" y="97.5" width=".7" height=".7"/>
<rect x="71.5" y="110.2" width=".7" height=".7"/>
<rect x="46.2" y="106.8" width=".7" height=".7"/>
<rect x="88.4" y="120.9" width=".7" height=".7"/>
<rect x="68.7" y="107.9" width=".7" height=".7"/>
<rect x="82.4" y="101.3" width=".7" height=".7"/>
<rect x="73.5" y="112.8" width=".7" height=".7"/>
<rect x="85.1" y="118.9" width=".7" height=".7"/>
<rect x="66.3" y="126.0" width=".7" height=".7"/>
<rect x="68.1" y="114.3" width=".7" height=".7"/>
<rect x="80.4" y="106.7" width=".7" height=".7"/>
<rect x="74.4" y="111.5" width=".7" height=".7"/>
<rect x="69.0" y="114.9" width=".7" height=".7"/>
<rect x="52.7" y="111.9" width=".7" height=".7"/>
<rect x="83.4" y="128.0" width=".7" height=".7"/>
<rect x="67.9" y="106.6" width=".7" height=".7"/>
<rect x="66.5" y="112.5" width=".7" height=".7"/>
<rect x="86.4" y="102.7" width=".7" height=".7"/>
<rect x="79.5" y="114.5" width=".7" height=".7"/>
<rect x="76.2" y="124.4" width=".7" height=".7"/>
<rect x="78.9" y="119.9" width=".7" height=".7"/>
<rect x="59.8" y="113.6" width=".7" height=".7"/>
<rect x="65.2" y="115.6" width=".7" height=".7"/>
<rect x="70.5" y="113.7" width=".7" height=".7"/>
<rect x="45.0" y="116.4" width=".7" height=".7"/>
<rect x="77.1" y="112.9" width=".7" height=".7"/>
<rect x="69.4" y="123.1" width=".7" height=".7"/>
<rect x="71.1" y="119.8" width=".7" height=".7"/>
<rect x="48.5" y="109.4" width=".7" height=".7"/>
<rect x="48.1" y="105.9" width=".7" height=".7"/>
<rect x="83.4" y="104.6" width=".7" height=".7"/>
<rect x="63.0" y="105.7" width=".7" height=".7"/>
<rect x="80.6" y="93.5" width=".7" height=".7"/>
<rect x="85.3" y="108.6" width=".7" height=".7"/>
<rect x="66.6" y="121.6" width=".7" height=".7"/>
<rect x="62.8" y="105.4" width=".7" height=".7"/>
<rect x="62.8" y="110.1" width=".7" height=".7"/>
<rect x="80.0" y="114.0" width=".7" height=".7"/>
<rect x="57.7" y="113.1" width=".7" height=".7"/>
<rect x="72.3" y="116.4" width=".7" height=".7"/>
<rect x="69.0" y="114.6" width=".7" height=".7"/>
<rect x="56.4" y="115.0" width=".7" height=".7"/>
<rect x="64.7" y="109.9" width=".7" height=".7"/>
<rect x="73.7" y="113.9" width=".7" height=".7"/>
<rect x="69.2" y="100.1" width=".7" height=".7"/>
<rect x="80.0" y="109.9" width=".7" height=".7"/>
<rect x="83.1" y="108.2" width=".7" height=".7"/>
<rect x="61.8" y="120.1" width=".7" height=".7"/>
<rect x="54.8" y="117.3" width=".7" height=".7"/>
<rect x="81.7" y="107.5" width=".7" height=".7"/>
<rect x="71.9" y="113.3" width=".7" height=".7"/>
<rect x="75.8" y="116.1" width=".7" height=".7"/>
<rect x="63.9" y="115.7" width=".7" height=".7"/>
<rect x="56.9" y="104.8" width=".7" height=".7"/>
<rect x="68.2" y="108.8" width=".7" height=".7"/>
<rect x="67.1" y="109.7" width=".7" height=".7"/>
<rect x="79.1" y="100.6" width=".7" height=".7"/>
<rect x="69.2" y="114.7" width=".7" height=".7"/>
<rect x="87.2" y="102.4" width=".7" height=".7"/>
<rect x="77.8" y="110.1" width=".7" height=".7"/>
<rect x="64.7" y="120.8" width=".7" height=".7"/>
<rect x="66.1" y="104.2" width=".7" height=".7"/>
<rect x="81.2" y="114.2" width=".7" height=".7"/>
<rect x="84.8" y="114.4" width=".7" height=".7"/>
<rect x="62.6" y="107.8" width=".7" height=".7"/>
<rect x="70.5" y="112.2" width=".7" height=".7"/>
<rect x="82.9" y="108.5" width=".7" height=".7"/>
<rect x="53.8" y="102.0" width=".7" height=".7"/>
<rect x="70.0" y="114.3" width=".7" height=".7"/>
<rect x="74.9" y="114.8" width=".7" height=".7"/>
<rect x="78.2" y="102.8" width=".7" height=".7"/>
<rect x="59.7" y="110.1" width=".7" height=".7"/>
<rect x="58.9" y="109.0" width=".7" height=".7"/>
<rect x="71.4" y="104.7" width=".7" height=".7"/>
<rect x="68.1" y="102.1" width=".7" height=".7"/>
<rect x="73.3" y="106.9" width=".7" height=".7"/>
<rect x="60.4" y="114.2" width=".7" height=".7"/>
<rect x="49.6" y="109.9" width=".7" height=".7"/>
<rect x="72.9" y="112.6" width=".7" height=".7"/>
<rect x="74.2" y="103.1" width=".7" height=".7"/>
<rect x="78.8" y="111.7" width=".7" height=".7"/>
<rect x="72.2" y="109.4" width=".7" height=".7"/>
<rect x="88.5" y="116.1" width=".7" height=".7"/>
<rect x="66.3" y="110.7" width=".7" height=".7"/>
<rect x="80.4" y="109.9" width=".7" height=".7"/>
<rect x="69.4" y="90.6" width=".7" height=".7"/>
<rect x="73.2" y="113.2" width=".7" height=".7"/>
<rect x="73.2" y="107.6" width=".7" height=".7"/>
<rect x="63.0" y="105.4" width=".7" height=".7"/>
<rect x="75.3" y="105.7" width=".7" height=".7"/>
<rect x="62.8" y="123.6" width=".7" height=".7"/>
<rect x="91.8" y="117.5" width=".7" height=".7"/>
<rect x="56.5" y="118.9" width=".7" height=".7"/>
<rect x="83.4" y="114.8" width=".7" height=".7"/>
<rect x="91.8" y="107.5" width=".7" height=".7"/>
<rect x="73.2" y="116.5" width=".7" height=".7"/>
<rect x="71.2" y="118.4" width=".7" height=".7"/>
<rect x="73.2" y="98.4" width=".7" height=".7"/>
<rect x="62.8" y="130.4" width=".7" height=".7"/>
<rect x="74.6" y="119.6" width=".7" height=".7"/>
<rect x="80.1" y="106.5" width=".7" height=".7"/>
<rect x="72.2" y="100.8" width=".7" height=".7"/>
<rect x="70.3" y="117.3" width=".7" height=".7"/>
<rect x="84.0" y="124.2" width=".7" height=".7"/>
<rect x="63.5" y="108.2" width=".7" height=".7"/>
<rect x="54.7" y="106.1" width=".7" height=".7"/>
<rect x="55.3" y="124.7" width=".7" height=".7"/>
<rect x="75.9" y="109.1" width=".7" height=".7"/>
<rect x="92.2" y="97.3" width=".7" height=".7"/>
<rect x="103.0" y="128.6" width=".7" height=".7"/>
<rect x="92.9" y="112.8" width=".7" height=".7"/>
<rect x="81.1" y="120.0" width=".7" height=".7"/>
<rect x="69.3" y="108.2" width=".7" height=".7"/>
<rect x="60.7" y="123.4" width=".7" height=".7"/>
<rect x="67.9" y="99.9" width=".7" height=".7"/>
<rect x="74.6" y="128.8" width=".7" height=".7"/>
<rect x="71.0" y="110.5" width=".7" height=".7"/>
<rect x="65.1" y="111.9" width=".7" height=".7"/>
<rect x="117.6" y="115.6" width=".7" height=".7"/>
<rect x="64.1" y="123.3" width=".7" height=".7"/>
<rect x="80.0" y="116.8" width=".7" height=".7"/>
<rect x="81.8" y="125.0" width=".7" height=".7"/>
<rect x="81.3" y="119.9" width=".7" height=".7"/>
<rect x="67.4" y="112.0" width=".7" height=".7"/>
<rect x="84.1" y="107.7" width=".7" height=".7"/>
<rect x="77.4" y="127.3" width=".7" height=".7"/>
<rect x="83.4" y="105.5" width=".7" height=".7"/>
<rect x="71.5" y="115.6" width=".7" height=".7"/>
<rect x="82.9" y="113.9" width=".7" height=".7"/>
<rect x="61.8" y="116.2" width=".7" height=".7"/>
<rect x="63.7" y="99.2" width=".7" height=".7"/>
<rect x="60.5" y="109.9" width=".7" height=".7"/>
<rect x="62.1" y="96.1" width=".7" height=".7"/>
<rect x="61.4" y="116.9" width=".7" height=".7"/>
<rect x="49.7" y="119.8" width=".7" height=".7"/>
<rect x="64.9" y="115.9" width=".7" height=".7"/>
<rect x="73.5" y="112.0" width=".7" height=".7"/>
<rect x="55.1" y="103.4" width=".7" height=".7"/>
<rect x="71.6" y="120.2" width=".7" height=".7"/>
<rect x="74.4" y="116.5" width=".7" height=".7"/>
<rect x="81.2" y="103.2" width=".7" height=".7"/>
<rect x="74.5" y="111.0" width=".7" height=".7"/>
<rect x="60.5" y="102.5" width=".7" height=".7"/>
<rect x="61.8" y="126.7" width=".7" height=".7"/>
<rect x="87.7" y="112.1" width=".7" height=".7"/>
<rect x="73.3" y="120.4" width=".7" height=".7"/>
<rect x="71.6" y="106.1" width=".7" height=".7"/>
<rect x="51.6" y="109.9" width=".7" height=".7"/>
<rect x="68.3" y="107.3" width=".7" height=".7"/>
<rect x="63.8" y="106.6" width=".7" height=".7"/>
<rect x="57.0" y="113.6" width=".7" height=".7"/>
<rect x="61.3" y="111.1" width=".7" height=".7"/>
<rect x="88.5" y="106.9" width=".7" height=".7"/>
<rect x="60.5" y="110.9" width=".7" height=".7"/>
<rect x="74.7" y="107.9" width=".7" height=".7"/>
<rect x="51.2" y="115.4" width=".7" height=".7"/>
<rect x="81.4" y="100.8" width=".7" height=".7"/>
<rect x="73.9" y="110.7" width=".7" height=".7"/>
<rect x="75.2" y="107.6" width=".7" height=".7"/>
<rect x="76.1" y="115.8" width=".7" height=".7"/>
<rect x="79.1" y="115.4" width=".7" height=".7"/>
<rect x="65.8" y="113.2" width=".7" height=".7"/>
<rect x="46.4" y="124.5" width=".7" height=".7"/>
<rect x="68.5" y="105.8" width=".7" height=".7"/>
<rect x="72.5" y="106.6" width=".7" height=".7"/>
<rect x="68.1" y="106.8" width=".7" height=".7"/>
<rect x="65.1" y="111.4" width=".7" height=".7"/>
<rect x="69.9" y="113.2" width=".7" height=".7"/>
<rect x="75.8" y="119.4" width=".7" height=".7"/>
<rect x="77.6" y="113.3" width=".7" height=".7"/>
<rect x="67.0" y="118.3" width=".7" height=".7"/>
<rect x="74.1" y="109.7" width=".7" height=".7"/>
<rect x="59.7" y="103.0" width=".7" height=".7"/>
<rect x="77.5" y="99.3" width=".7" height=".7"/>
<rect x="70.0" y="113.3" width=".7" height=".7"/>
<rect x="63.5" y="114.0" width=".7" height=".7"/>
<rect x="53.8" y="119.5" width=".7" height=".7"/>
<rect x="75.3" y="106.8" width=".7" height=".7"/>
<rect x="62.6" y="117.2" width=".7" height=".7"/>
<rect x="95.3" y="109.3" width=".7" height=".7"/>
<rect x="62.2" y="118.4" width=".7" height=".7"/>
<rect x="70.3" y="114.0" width=".7" height=".7"/>
<rect x="54.7" y="110.2" width=".7" height=".7"/>
<rect x="85.0" y="106.1" width=".7" height=".7"/>
<rect x="84.6" y="113.3" width=".7" height=".7"/>
<rect x="80.3" y="103.7" width=".7" height=".7"/>
<rect x="52.3" y="114.1" width=".7" height=".7"/>
<rect x="61.7" y="114.6" width=".7" height=".7"/>
<rect x="60.2" y="98.3" width=".7" height=".7"/>
<rect x="69.8" y="113.0" width=".7" height=".7"/>
<rect x="66.9" y="105.1" width=".7" height=".7"/>
<rect x="79.8" y="116.5" width=".7" height=".7"/>
<rect x="87.5" y="117.2" width=".7" height=".7"/>
<rect x="75.3" y="113.5" width=".7" height=".7"/>
<rect x="93.3" y="116.9" width=".7" height=".7"/>
<rect x="69.4" y="105.3" width=".7" height=".7"/>
<rect x="85.7" y="115.1" width=".7" height=".7"/>
<rect x="99.6" y="111.8" width=".7" height=".7"/>
<rect x="75.7" y="109.6" width=".7" height=".7"/>
<rect x="66.2" y="118.3" width=".7" height=".7"/>
<rect x="70.2" y="119.3" width=".7" height=".7"/>
<rect x="69.2" y="116.2" width=".7" height=".7"/>
<rect x="79.6" y="106.1" width=".7" height=".7"/>
<rect x="84.1" y="114.6" width=".7" height=".7"/>
<rect x="83.4" y="104.0" width=".7" height=".7"/>
<rect x="76.5" y="108.4" width=".7" height=".7"/>
<rect x="57.9" y="109.9" width=".7" height=".7"/>
<rect x="61.3" y="113.5" width=".7" height=".7"/>
<rect x="64.2" y="109.1" width=".7" height=".7"/>
<rect x="88.7" y="106.1" width=".7" height=".7"/>
<rect x="79.8" y="113.6" width=".7" height=".7"/>
<rect x="62.5" y="110.7" width=".7" height=".7"/>
<rect x="68.1" y="128.8" width=".7" height=".7"/>
<rect x="68.1" y="121.1" width=".7" height=".7"/>
<rect x="76.1" y="104.4" width=".7" height=".7"/>
<rect x="43.1" y="118.6" width=".7" height=".7"/>
<rect x="81.5" y="114.3" width=".7" height=".7"/>
<rect x="70.1" y="110.5" width=".7" height=".7"/>
<rect x="64.2" y="108.6" width=".7" height=".7"/>
<rect x="82.8" y="108.4" width=".7" height=".7"/>
<rect x="75.5" y="105.3" width=".7" height=".7"/>
<rect x="69.1" y="118.3" width=".7" height=".7"/>
<rect x="74.8" y="109.1" width=".7" height=".7"/>
<rect x="77.6" y="110.0" width=".7" height=".7"/>
<rect x="79.9" y="89.2" width=".7" height=".7"/>
<rect x="60.0" y="116.5" width=".7" height=".7"/>
<rect x="71.0" y="125.0" width=".7" height=".7"/>
<rect x="93.7" y="117.1" width=".7" height=".7"/>
<rect x="89.5" y="115.0" width=".7" height=".7"/>
<rect x="70.1" y="116.2" width=".7" height=".7"/>
<rect x="63.9" y="110.0" width=".7" height=".7"/>
<rect x="79.2" y="109.2" width=".7" height=".7"/>
<rect x="75.0" y="109.1" width=".7" height=".7"/>
<rect x="69.0" y="113.5" width=".7" height=".7"/>
<rect x="62.1" y="117.9" width=".7" height=".7"/>
<rect x="74.0" y="119.4" width=".7" height=".7"/>
<rect x="69.8" y="102.0" width=".7" height=".7"/>
<rect x="70.0" y="109.3" width=".7" height=".7"/>
<rect x="74.3" y="109.3" width=".7" height=".7"/>
<rect x="89.0" y="107.7" width=".7" height=".7"/>
<rect x="69.8" y="117.4" width=".7" height=".7"/>
<rect x="72.0" y="105.0" width=".7" height=".7"/>
<rect x="62.3" y="107.7" width=".7" height=".7"/>
<rect x="76.4" y="113.7" width=".7" height=".7"/>
<rect x="78.1" y="106.4" width=".7" height=".7"/>
<rect x="74.2" y="111.3" width=".7" height=".7"/>
<rect x="51.8" y="102.9" width=".7" height=".7"/>
<rect x="69.3" y="109.5" width=".7" height=".7"/>
<rect x="66.8" y="117.7" width=".7" height=".7"/>
<rect x="72.3" y="121.9" width=".7" height=".7"/>
<rect x="70.3" y="115.4" width=".7" height=".7"/>
<rect x="68.0" y="111.0" width=".7" height=".7"/>
<rect x="56.1" y="108.6" width=".7" height=".7"/>
<rect x="89.6" y="114.4" width=".7" height=".7"/>
<rect x="83.2" y="117.0" width=".7" height=".7"/>
<rect x="80.4" y="117.8" width=".7" height=".7"/>
<rect x="67.3" y="107.1" width=".7" height=".7"/>
<rect x="82.9" y="124.5" width=".7" height=".7"/>
<rect x="63.0" y="122.0" width=".7" height=".7"/>
<rect x="76.0" y="115.4" width=".7" height=".7"/>
<rect x="75.4" y="109.9" width=".7" height=".7"/>
<rect x="60.2" y="112.2" width=".7" height=".7"/>
<rect x="81.6" y="122.1" width=".7" height=".7"/>
<rect x="62.9" y="111.8" width=".7" height=".7"/>
<rect x="75.1" y="117.8" width=".7" height=".7"/>
<rect x="73.9" y="131.2" width=".7" height=".7"/>
<rect x="52.0" y="111.9" width=".7" height=".7"/>
<rect x="94.7" y="113.4" width=".7" height=".7"/>
<rect x="51.3" y="105.8" width=".7" height=".7"/>
<rect x="74.1" y="121.9" width=".7" height=".7"/>
<rect x="76.2" y="115.9" width=".7" height=".7"/>
<rect x="59.6" y="111.1" width=".7" height=".7"/>
<rect x="75.1" y="110.4" width=".7" height=".7"/>
<rect x="65.9" y="109.9" width=".7" height=".7"/>
<rect x="70.7" y="108.7" width=".7" height=".7"/>
<rect x="72.3" y="120.1" width=".7" height=".7"/>
<rect x="74.7" y="111.8" width=".7" height=".7"/>
<rect x="77.4" y="104.0" width=".7" height=".7"/>
<rect x="75.9" y="105.8" width=".7" height=".7"/>
<rect x="73.2" y="111.6" width=".7" height=".7"/>
<rect x="66.6" y="114.2" width=".7" height=".7"/>
<rect x="72.5" y="121.8" width=".7" height=".7"/>
<rect x="69.6" y="108.9" width=".7" height=".7"/>
<rect x="75.4" y="118.3" width=".7" height=".7"/>
<rect x="59.4" y="126.3" width=".7" height=".7"/>
<rect x="88.8" y="111.8" width=".7" height=".7"/>
<rect x="78.0" y="91.6" width=".7" height=".7"/>
<rect x="72.1" y="103.5" width=".7" height=".7"/>
<rect x="76.2" y="120.0" width=".7" height=".7"/>
<rect x="91.9" y="120.3" width=".7" height=".7"/>
<rect x="68.7" y="114.9" width=".7" height=".7"/>
<rect x="85.9" y="110.1" width=".7" height=".7"/>
<rect x="88.7" y="92.3" width=".7" height=".7"/>
<rect x="85.0" y="106.4" width=".7" height=".7"/>
<rect x="80.5" y="102.6" width=".7" height=".7"/>
<rect x="84.0" y="97.2" width=".7" height=".7"/>
<rect x="77.5" y="108.3" width=".7" height=".7"/>
<rect x="83.4" y="110.2" width=".7" height=".7"/>
<rect x="97.9" y="108.7" width=".7" height=".7"/>
<rect x="71.8" y="123.5" width=".7" height=".7"/>
<rect x="72.7" y="116.0" width=".7" height=".7"/>
<rect x="66.1" y="103.3" width=".7" height=".7"/>
<rect x="59.1" y="118.6" width=".7" height=".7"/>
<rect x="98.2" y="105.6" width=".7" height=".7"/>
<rect x="68.6" y="113.4" width=".7" height=".7"/>
<rect x="61.6" y="102.7" width=".7" height=".7"/>
<rect x="85.7" y="97.6" width=".7" height=".7"/>
<rect x="83.0" y="112.2" width=".7" height=".7"/>
<rect x="76.6" y="112.3" width=".7" height=".7"/>
<rect x="58.9" y="105.6" width=".7" height=".7"/>
</g>
<g fill="#6a9a58">
<rect x="68.7" y="94.5" width="0.6" height="0.6"/>
<rect x="80.4" y="86.1" width="0.6" height="0.6"/>
<rect x="75.2" y="95.7" width="0.6" height="0.6"/>
<rect x="67.2" y="92.0" width="0.6" height="0.6"/>
<rect x="77.1" y="80.5" width="0.6" height="0.6"/>
<rect x="79.6" y="90.7" width="0.6" height="0.6"/>
<rect x="63.8" y="95.6" width="0.6" height="0.6"/>
<rect x="79.9" y="93.8" width="0.6" height="0.6"/>
<rect x="65.2" y="92.9" width="0.6" height="0.6"/>
<rect x="69.3" y="67.1" width="0.6" height="0.6"/>
<rect x="66.2" y="84.3" width="0.6" height="0.6"/>
<rect x="81.6" y="86.5" width="0.6" height="0.6"/>
<rect x="70.1" y="67.0" width="0.6" height="0.6"/>
<rect x="72.7" y="96.9" width="0.6" height="0.6"/>
<rect x="83.7" y="88.6" width="0.6" height="0.6"/>
<rect x="64.7" y="76.0" width="0.6" height="0.6"/>
<rect x="73.1" y="89.5" width="0.6" height="0.6"/>
<rect x="82.7" y="97.0" width="0.6" height="0.6"/>
<rect x="71.5" y="93.7" width="0.6" height="0.6"/>
<rect x="69.1" y="88.5" width="0.6" height="0.6"/>
<rect x="63.3" y="74.4" width="0.6" height="0.6"/>
<rect x="72.8" y="89.2" width="0.6" height="0.6"/>
<rect x="69.7" y="74.1" width="0.6" height="0.6"/>
<rect x="76.3" y="86.0" width="0.6" height="0.6"/>
<rect x="62.7" y="87.7" width="0.6" height="0.6"/>
<rect x="83.0" y="87.9" width="0.6" height="0.6"/>
<rect x="69.3" y="88.0" width="0.6" height="0.6"/>
<rect x="69.6" y="82.6" width="0.6" height="0.6"/>
<rect x="73.0" y="85.3" width="0.6" height="0.6"/>
<rect x="72.5" y="73.6" width="0.6" height="0.6"/>
<rect x="69.4" y="92.9" width="0.6" height="0.6"/>
<rect x="80.2" y="96.4" width="0.6" height="0.6"/>
<rect x="76.7" y="84.8" width="0.6" height="0.6"/>
<rect x="78.3" y="92.4" width="0.6" height="0.6"/>
<rect x="81.5" y="94.4" width="0.6" height="0.6"/>
<rect x="61.8" y="77.2" width="0.6" height="0.6"/>
<rect x="68.5" y="77.7" width="0.6" height="0.6"/>
<rect x="81.5" y="74.5" width="0.6" height="0.6"/>
<rect x="64.3" y="83.6" width="0.6" height="0.6"/>
<rect x="62.1" y="88.8" width="0.6" height="0.6"/>
<rect x="70.0" y="96.7" width="0.6" height="0.6"/>
<rect x="67.5" y="79.8" width="0.6" height="0.6"/>
<rect x="78.5" y="93.2" width="0.6" height="0.6"/>
<rect x="70.7" y="82.5" width="0.6" height="0.6"/>
<rect x="83.5" y="84.1" width="0.6" height="0.6"/>
<rect x="76.6" y="79.5" width="0.6" height="0.6"/>
<rect x="69.8" y="78.6" width="0.6" height="0.6"/>
<rect x="76.9" y="92.7" width="0.6" height="0.6"/>
<rect x="67.4" y="88.7" width="0.6" height="0.6"/>
<rect x="80.0" y="83.6" width="0.6" height="0.6"/>
<rect x="79.3" y="93.2" width="0.6" height="0.6"/>
<rect x="72.9" y="91.6" width="0.6" height="0.6"/>
<rect x="81.2" y="86.7" width="0.6" height="0.6"/>
<rect x="64.9" y="80.3" width="0.6" height="0.6"/>
<rect x="68.2" y="87.5" width="0.6" height="0.6"/>
<rect x="69.8" y="93.7" width="0.6" height="0.6"/>
<rect x="83.2" y="89.5" width="0.6" height="0.6"/>
<rect x="68.1" y="95.2" width="0.6" height="0.6"/>
<rect x="82.7" y="93.6" width="0.6" height="0.6"/>
<rect x="71.1" y="87.0" width="0.6" height="0.6"/>
<rect x="63.5" y="96.2" width="0.6" height="0.6"/>
<rect x="69.9" y="85.0" width="0.6" height="0.6"/>
<rect x="83.2" y="96.1" width="0.6" height="0.6"/>
<rect x="81.9" y="88.9" width="0.6" height="0.6"/>
<rect x="71.4" y="88.1" width="0.6" height="0.6"/>
<rect x="78.9" y="82.4" width="0.6" height="0.6"/>
<rect x="68.2" y="85.3" width="0.6" height="0.6"/>
<rect x="71.8" y="80.5" width="0.6" height="0.6"/>
<rect x="73.9" y="87.4" width="0.6" height="0.6"/>
<rect x="67.3" y="79.4" width="0.6" height="0.6"/>
<rect x="69.3" y="84.2" width="0.6" height="0.6"/>
<rect x="67.6" y="89.7" width="0.6" height="0.6"/>
<rect x="75.5" y="95.7" width="0.6" height="0.6"/>
<rect x="62.0" y="76.4" width="0.6" height="0.6"/>
<rect x="80.0" y="86.8" width="0.6" height="0.6"/>
<rect x="82.6" y="92.5" width="0.6" height="0.6"/>
<rect x="67.1" y="96.8" width="0.6" height="0.6"/>
<rect x="73.6" y="92.4" width="0.6" height="0.6"/>
<rect x="78.3" y="91.6" width="0.6" height="0.6"/>
<rect x="79.6" y="85.9" width="0.6" height="0.6"/>
<rect x="63.6" y="91.0" width="0.6" height="0.6"/>
<rect x="83.2" y="80.8" width="0.6" height="0.6"/>
<rect x="75.6" y="89.6" width="0.6" height="0.6"/>
<rect x="70.1" y="77.6" width="0.6" height="0.6"/>
<rect x="82.6" y="96.5" width="0.6" height="0.6"/>
<rect x="70.0" y="86.0" width="0.6" height="0.6"/>
<rect x="79.5" y="92.5" width="0.6" height="0.6"/>
<rect x="81.0" y="90.8" width="0.6" height="0.6"/>
<rect x="73.2" y="79.3" width="0.6" height="0.6"/>
<rect x="81.7" y="94.6" width="0.6" height="0.6"/>
<rect x="64.1" y="94.7" width="0.6" height="0.6"/>
<rect x="70.5" y="93.2" width="0.6" height="0.6"/>
<rect x="72.5" y="86.4" width="0.6" height="0.6"/>
<rect x="74.3" y="82.7" width="0.6" height="0.6"/>
<rect x="70.3" y="88.4" width="0.6" height="0.6"/>
<rect x="80.4" y="92.7" width="0.6" height="0.6"/>
<rect x="79.1" y="93.4" width="0.6" height="0.6"/>
<rect x="76.4" y="91.2" width="0.6" height="0.6"/>
<rect x="78.3" y="71.3" width="0.6" height="0.6"/>
<rect x="81.7" y="96.9" width="0.6" height="0.6"/>
<rect x="78.1" y="89.5" width="0.6" height="0.6"/>
<rect x="81.2" y="81.3" width="0.6" height="0.6"/>
<rect x="64.0" y="91.7" width="0.6" height="0.6"/>
<rect x="75.1" y="79.1" width="0.6" height="0.6"/>
<rect x="67.3" y="82.1" width="0.6" height="0.6"/>
<rect x="80.0" y="90.3" width="0.6" height="0.6"/>
<rect x="67.3" y="95.0" width="0.6" height="0.6"/>
<rect x="63.2" y="88.7" width="0.6" height="0.6"/>
<rect x="76.5" y="75.7" width="0.6" height="0.6"/>
<rect x="69.3" y="93.6" width="0.6" height="0.6"/>
<rect x="77.1" y="76.4" width="0.6" height="0.6"/>
<rect x="68.5" y="87.0" width="0.6" height="0.6"/>
<rect x="61.1" y="92.5" width="0.6" height="0.6"/>
<rect x="67.3" y="92.2" width="0.6" height="0.6"/>
<rect x="62.4" y="82.6" width="0.6" height="0.6"/>
<rect x="79.6" y="91.9" width="0.6" height="0.6"/>
<rect x="61.9" y="94.3" width="0.6" height="0.6"/>
<rect x="66.2" y="91.9" width="0.6" height="0.6"/>
<rect x="75.5" y="91.2" width="0.6" height="0.6"/>
<rect x="74.1" y="87.9" width="0.6" height="0.6"/>
<rect x="66.0" y="94.8" width="0.6" height="0.6"/>
<rect x="80.3" y="89.1" width="0.6" height="0.6"/>
<rect x="79.6" y="94.1" width="0.6" height="0.6"/>
<rect x="78.9" y="96.3" width="0.6" height="0.6"/>
<rect x="61.7" y="84.4" width="0.6" height="0.6"/>
<rect x="62.5" y="96.6" width="0.6" height="0.6"/>
<rect x="75.5" y="94.5" width="0.6" height="0.6"/>
<rect x="70.2" y="81.3" width="0.6" height="0.6"/>
<rect x="72.8" y="89.7" width="0.6" height="0.6"/>
<rect x="81.0" y="92.5" width="0.6" height="0.6"/>
<rect x="83.9" y="86.8" width="0.6" height="0.6"/>
<rect x="68.6" y="68.1" width="0.6" height="0.6"/>
<rect x="83.7" y="84.7" width="0.6" height="0.6"/>
<rect x="64.1" y="91.1" width="0.6" height="0.6"/>
<rect x="71.4" y="89.3" width="0.6" height="0.6"/>
<rect x="71.5" y="79.8" width="0.6" height="0.6"/>
<rect x="68.9" y="92.5" width="0.6" height="0.6"/>
<rect x="67.5" y="85.7" width="0.6" height="0.6"/>
<rect x="65.5" y="95.7" width="0.6" height="0.6"/>
<rect x="71.1" y="82.6" width="0.6" height="0.6"/>
<rect x="65.5" y="94.7" width="0.6" height="0.6"/>
<rect x="67.1" y="89.4" width="0.6" height="0.6"/>
<rect x="73.9" y="87.3" width="0.6" height="0.6"/>
<rect x="78.2" y="66.2" width="0.6" height="0.6"/>
<rect x="82.8" y="80.2" width="0.6" height="0.6"/>
<rect x="77.5" y="87.7" width="0.6" height="0.6"/>
<rect x="62.4" y="96.5" width="0.6" height="0.6"/>
<rect x="80.9" y="95.1" width="0.6" height="0.6"/>
<rect x="77.6" y="90.6" width="0.6" height="0.6"/>
<rect x="69.2" y="90.1" width="0.6" height="0.6"/>
<rect x="64.8" y="72.0" width="0.6" height="0.6"/>
<rect x="68.0" y="69.6" width="0.6" height="0.6"/>
<rect x="62.0" y="91.9" width="0.6" height="0.6"/>
<rect x="81.7" y="87.0" width="0.6" height="0.6"/>
<rect x="79.5" y="91.6" width="0.6" height="0.6"/>
<rect x="63.5" y="95.4" width="0.6" height="0.6"/>
<rect x="64.5" y="94.7" width="0.6" height="0.6"/>
<rect x="83.8" y="83.7" width="0.6" height="0.6"/>
<rect x="82.0" y="93.2" width="0.6" height="0.6"/>
<rect x="79.9" y="83.9" width="0.6" height="0.6"/>
<rect x="64.0" y="85.0" width="0.6" height="0.6"/>
<rect x="72.7" y="87.2" width="0.6" height="0.6"/>
<rect x="65.8" y="97.0" width="0.6" height="0.6"/>
<rect x="81.9" y="94.5" width="0.6" height="0.6"/>
<rect x="77.3" y="65.3" width="0.6" height="0.6"/>
<rect x="71.0" y="85.7" width="0.6" height="0.6"/>
<rect x="77.8" y="80.6" width="0.6" height="0.6"/>
<rect x="80.4" y="82.4" width="0.6" height="0.6"/>
<rect x="64.1" y="88.7" width="0.6" height="0.6"/>
<rect x="74.5" y="96.3" width="0.6" height="0.6"/>
<rect x="69.7" y="74.4" width="0.6" height="0.6"/>
<rect x="79.1" y="95.7" width="0.6" height="0.6"/>
<rect x="71.7" y="72.8" width="0.6" height="0.6"/>
<rect x="73.3" y="90.2" width="0.6" height="0.6"/>
<rect x="62.6" y="89.5" width="0.6" height="0.6"/>
<rect x="81.4" y="82.0" width="0.6" height="0.6"/>
<rect x="72.1" y="91.8" width="0.6" height="0.6"/>
<rect x="66.6" y="90.7" width="0.6" height="0.6"/>
<rect x="81.8" y="92.8" width="0.6" height="0.6"/>
<rect x="74.6" y="93.2" width="0.6" height="0.6"/>
<rect x="63.9" y="92.9" width="0.6" height="0.6"/>
<rect x="74.5" y="84.4" width="0.6" height="0.6"/>
<rect x="75.6" y="93.6" width="0.6" height="0.6"/>
<rect x="62.6" y="84.6" width="0.6" height="0.6"/>
<rect x="77.7" y="84.2" width="0.6" height="0.6"/>
<rect x="70.2" y="92.5" width="0.6" height="0.6"/>
<rect x="76.5" y="95.0" width="0.6" height="0.6"/>
<rect x="75.9" y="88.3" width="0.6" height="0.6"/>
<rect x="76.9" y="90.5" width="0.6" height="0.6"/>
<rect x="81.9" y="95.8" width="0.6" height="0.6"/>
<rect x="74.8" y="88.8" width="0.6" height="0.6"/>
<rect x="83.7" y="93.6" width="0.6" height="0.6"/>
<rect x="66.3" y="80.5" width="0.6" height="0.6"/>
<rect x="79.9" y="83.8" width="0.6" height="0.6"/>
<rect x="75.6" y="96.8" width="0.6" height="0.6"/>
<rect x="63.2" y="93.7" width="0.6" height="0.6"/>
<rect x="83.5" y="95.9" width="0.6" height="0.6"/>
<rect x="62.1" y="93.8" width="0.6" height="0.6"/>
<rect x="66.5" y="89.3" width="0.6" height="0.6"/>
<rect x="76.5" y="93.4" width="0.6" height="0.6"/>
<rect x="82.4" y="79.7" width="0.6" height="0.6"/>
<rect x="67.0" y="76.4" width="0.6" height="0.6"/>
<rect x="64.5" y="76.9" width="0.6" height="0.6"/>
<rect x="63.4" y="94.7" width="0.6" height="0.6"/>
<rect x="83.4" y="95.1" width="0.6" height="0.6"/>
<rect x="79.6" y="89.5" width="0.6" height="0.6"/>
<rect x="64.7" y="91.3" width="0.6" height="0.6"/>
<rect x="79.1" y="96.6" width="0.6" height="0.6"/>
<rect x="81.5" y="96.3" width="0.6" height="0.6"/>
<rect x="80.6" y="96.6" width="0.6" height="0.6"/>
<rect x="73.8" y="90.9" width="0.6" height="0.6"/>
<rect x="75.3" y="84.2" width="0.6" height="0.6"/>
<rect x="74.7" y="95.5" width="0.6" height="0.6"/>
<rect x="62.2" y="92.4" width="0.6" height="0.6"/>
<rect x="73.5" y="93.9" width="0.6" height="0.6"/>
<rect x="61.2" y="85.3" width="0.6" height="0.6"/>
<rect x="78.1" y="74.7" width="0.6" height="0.6"/>
<rect x="79.7" y="93.6" width="0.6" height="0.6"/>
<rect x="71.5" y="84.5" width="0.6" height="0.6"/>
<rect x="65.8" y="84.9" width="0.6" height="0.6"/>
<rect x="70.9" y="71.7" width="0.6" height="0.6"/>
<rect x="73.6" y="76.0" width="0.6" height="0.6"/>
<rect x="69.1" y="80.9" width="0.6" height="0.6"/>
<rect x="80.5" y="86.2" width="0.6" height="0.6"/>
<rect x="80.5" y="87.8" width="0.6" height="0.6"/>
<rect x="68.0" y="90.2" width="0.6" height="0.6"/>
<rect x="78.5" y="87.2" width="0.6" height="0.6"/>
<rect x="83.5" y="83.9" width="0.6" height="0.6"/>
<rect x="78.7" y="92.3" width="0.6" height="0.6"/>
<rect x="63.6" y="96.8" width="0.6" height="0.6"/>
<rect x="76.9" y="85.2" width="0.6" height="0.6"/>
<rect x="71.5" y="88.5" width="0.6" height="0.6"/>
<rect x="70.4" y="83.7" width="0.6" height="0.6"/>
<rect x="82.1" y="85.9" width="0.6" height="0.6"/>
<rect x="77.9" y="89.4" width="0.6" height="0.6"/>
<rect x="80.3" y="71.6" width="0.6" height="0.6"/>
<rect x="77.5" y="79.2" width="0.6" height="0.6"/>
<rect x="80.5" y="93.5" width="0.6" height="0.6"/>
<rect x="70.9" y="91.6" width="0.6" height="0.6"/>
<rect x="82.7" y="91.8" width="0.6" height="0.6"/>
<rect x="71.2" y="94.5" width="0.6" height="0.6"/>
<rect x="67.9" y="88.2" width="0.6" height="0.6"/>
<rect x="69.0" y="94.6" width="0.6" height="0.6"/>
<rect x="71.2" y="92.2" width="0.6" height="0.6"/>
<rect x="83.6" y="81.2" width="0.6" height="0.6"/>
<rect x="78.5" y="74.1" width="0.6" height="0.6"/>
<rect x="80.2" y="77.0" width="0.6" height="0.6"/>
<rect x="67.3" y="96.3" width="0.6" height="0.6"/>
<rect x="66.7" y="94.9" width="0.6" height="0.6"/>
<rect x="66.3" y="95.7" width="0.6" height="0.6"/>
<rect x="81.4" y="87.6" width="0.6" height="0.6"/>
<rect x="78.7" y="91.9" width="0.6" height="0.6"/>
<rect x="78.8" y="80.6" width="0.6" height="0.6"/>
<rect x="73.2" y="83.4" width="0.6" height="0.6"/>
<rect x="63.4" y="92.2" width="0.6" height="0.6"/>
<rect x="75.4" y="87.7" width="0.6" height="0.6"/>
<rect x="69.4" y="66.7" width="0.6" height="0.6"/>
<rect x="64.7" y="89.8" width="0.6" height="0.6"/>
<rect x="73.2" y="88.2" width="0.6" height="0.6"/>
<rect x="82.6" y="84.9" width="0.6" height="0.6"/>
</g>
<g fill="#6266b8">
<rect x="99.0" y="95.9" width="0.6" height="0.6"/>
<rect x="111.5" y="91.5" width="0.6" height="0.6"/>
<rect x="111.4" y="91.8" width="0.6" height="0.6"/>
<rect x="119.5" y="86.6" width="0.6" height="0.6"/>
<rect x="117.4" y="91.3" width="0.6" height="0.6"/>
<rect x="112.5" y="88.9" width="0.6" height="0.6"/>
<rect x="111.7" y="85.4" width="0.6" height="0.6"/>
<rect x="111.6" y="89.5" width="0.6" height="0.6"/>
<rect x="111.7" y="84.3" width="0.6" height="0.6"/>
<rect x="95.2" y="96.9" width="0.6" height="0.6"/>
<rect x="113.7" y="90.0" width="0.6" height="0.6"/>
<rect x="95.6" y="88.7" width="0.6" height="0.6"/>
<rect x="121.8" y="89.7" width="0.6" height="0.6"/>
<rect x="107.9" y="87.2" width="0.6" height="0.6"/>
<rect x="104.1" y="89.8" width="0.6" height="0.6"/>
<rect x="88.4" y="86.6" width="0.6" height="0.6"/>
<rect x="113.1" y="91.3" width="0.6" height="0.6"/>
<rect x="99.4" y="93.0" width="0.6" height="0.6"/>
<rect x="114.7" y="80.4" width="0.6" height="0.6"/>
<rect x="111.4" y="95.6" width="0.6" height="0.6"/>
<rect x="92.6" y="88.1" width="0.6" height="0.6"/>
<rect x="115.5" y="85.9" width="0.6" height="0.6"/>
<rect x="102.5" y="86.2" width="0.6" height="0.6"/>
<rect x="111.6" y="89.2" width="0.6" height="0.6"/>
<rect x="120.5" y="83.5" width="0.6" height="0.6"/>
<rect x="94.4" y="92.3" width="0.6" height="0.6"/>
<rect x="119.7" y="85.3" width="0.6" height="0.6"/>
<rect x="110.8" y="96.7" width="0.6" height="0.6"/>
<rect x="113.0" y="94.2" width="0.6" height="0.6"/>
<rect x="91.8" y="70.8" width="0.6" height="0.6"/>
<rect x="107.0" y="86.5" width="0.6" height="0.6"/>
<rect x="110.5" y="93.9" width="0.6" height="0.6"/>
<rect x="100.2" y="75.8" width="0.6" height="0.6"/>
<rect x="106.8" y="86.8" width="0.6" height="0.6"/>
<rect x="94.3" y="94.9" width="0.6" height="0.6"/>
<rect x="112.5" y="92.3" width="0.6" height="0.6"/>
<rect x="121.6" y="91.5" width="0.6" height="0.6"/>
<rect x="104.7" y="95.8" width="0.6" height="0.6"/>
<rect x="91.1" y="94.7" width="0.6" height="0.6"/>
<rect x="106.8" y="87.8" width="0.6" height="0.6"/>
<rect x="90.1" y="85.2" width="0.6" height="0.6"/>
<rect x="96.6" y="80.8" width="0.6" height="0.6"/>
<rect x="120.1" y="91.4" width="0.6" height="0.6"/>
<rect x="94.1" y="88.6" width="0.6" height="0.6"/>
<rect x="107.0" y="93.5" width="0.6" height="0.6"/>
<rect x="109.7" y="71.2" width="0.6" height="0.6"/>
<rect x="114.5" y="96.6" width="0.6" height="0.6"/>
<rect x="116.9" y="91.0" width="0.6" height="0.6"/>
<rect x="112.2" y="92.0" width="0.6" height="0.6"/>
<rect x="102.2" y="86.2" width="0.6" height="0.6"/>
<rect x="117.2" y="90.6" width="0.6" height="0.6"/>
<rect x="90.4" y="91.4" width="0.6" height="0.6"/>
<rect x="107.7" y="91.3" width="0.6" height="0.6"/>
<rect x="94.5" y="90.9" width="0.6" height="0.6"/>
<rect x="113.3" y="94.4" width="0.6" height="0.6"/>
<rect x="103.4" y="91.9" width="0.6" height="0.6"/>
<rect x="120.2" y="89.0" width="0.6" height="0.6"/>
<rect x="88.6" y="93.3" width="0.6" height="0.6"/>
<rect x="123.4" y="83.5" width="0.6" height="0.6"/>
<rect x="121.6" y="86.9" width="0.6" height="0.6"/>
<rect x="114.1" y="89.5" width="0.6" height="0.6"/>
<rect x="120.9" y="87.5" width="0.6" height="0.6"/>
<rect x="111.2" y="94.8" width="0.6" height="0.6"/>
<rect x="93.9" y="74.2" width="0.6" height="0.6"/>
<rect x="116.8" y="92.6" width="0.6" height="0.6"/>
<rect x="120.2" y="76.6" width="0.6" height="0.6"/>
<rect x="114.8" y="94.9" width="0.6" height="0.6"/>
<rect x="97.8" y="90.6" width="0.6" height="0.6"/>
<rect x="114.9" y="96.7" width="0.6" height="0.6"/>
<rect x="99.4" y="69.7" width="0.6" height="0.6"/>
<rect x="86.4" y="96.1" width="0.6" height="0.6"/>
<rect x="107.2" y="87.1" width="0.6" height="0.6"/>
<rect x="86.9" y="76.0" width="0.6" height="0.6"/>
<rect x="114.1" y="88.2" width="0.6" height="0.6"/>
<rect x="104.5" y="94.8" width="0.6" height="0.6"/>
<rect x="104.0" y="87.4" width="0.6" height="0.6"/>
<rect x="91.4" y="86.6" width="0.6" height="0.6"/>
<rect x="96.1" y="90.5" width="0.6" height="0.6"/>
<rect x="99.6" y="71.4" width="0.6" height="0.6"/>
<rect x="115.6" y="89.5" width="0.6" height="0.6"/>
<rect x="94.4" y="74.1" width="0.6" height="0.6"/>
<rect x="103.3" y="93.4" width="0.6" height="0.6"/>
<rect x="87.3" y="92.5" width="0.6" height="0.6"/>
<rect x="108.4" y="91.8" width="0.6" height="0.6"/>
<rect x="93.1" y="96.9" width="0.6" height="0.6"/>
<rect x="102.7" y="94.8" width="0.6" height="0.6"/>
<rect x="111.1" y="92.1" width="0.6" height="0.6"/>
<rect x="94.6" y="81.6" width="0.6" height="0.6"/>
<rect x="113.2" y="95.4" width="0.6" height="0.6"/>
<rect x="122.7" y="92.2" width="0.6" height="0.6"/>
<rect x="108.5" y="89.1" width="0.6" height="0.6"/>
<rect x="116.9" y="81.7" width="0.6" height="0.6"/>
<rect x="121.6" y="94.5" width="0.6" height="0.6"/>
<rect x="108.9" y="94.7" width="0.6" height="0.6"/>
<rect x="98.7" y="95.6" width="0.6" height="0.6"/>
<rect x="110.7" y="89.3" width="0.6" height="0.6"/>
<rect x="116.6" y="91.5" width="0.6" height="0.6"/>
<rect x="121.6" y="91.0" width="0.6" height="0.6"/>
<rect x="95.5" y="81.0" width="0.6" height="0.6"/>
<rect x="114.6" y="90.5" width="0.6" height="0.6"/>
<rect x="94.9" y="90.1" width="0.6" height="0.6"/>
<rect x="91.5" y="86.7" width="0.6" height="0.6"/>
<rect x="118.5" y="83.7" width="0.6" height="0.6"/>
<rect x="88.1" y="83.7" width="0.6" height="0.6"/>
<rect x="112.4" y="93.4" width="0.6" height="0.6"/>
<rect x="107.7" y="84.3" width="0.6" height="0.6"/>
<rect x="114.1" y="95.5" width="0.6" height="0.6"/>
<rect x="117.8" y="84.6" width="0.6" height="0.6"/>
<rect x="117.3" y="90.2" width="0.6" height="0.6"/>
<rect x="120.9" y="93.5" width="0.6" height="0.6"/>
<rect x="113.2" y="92.6" width="0.6" height="0.6"/>
<rect x="86.6" y="93.9" width="0.6" height="0.6"/>
<rect x="110.6" y="94.2" width="0.6" height="0.6"/>
<rect x="121.8" y="87.7" width="0.6" height="0.6"/>
<rect x="106.7" y="83.4" width="0.6" height="0.6"/>
<rect x="115.9" y="92.4" width="0.6" height="0.6"/>
<rect x="107.2" y="87.1" width="0.6" height="0.6"/>
<rect x="90.3" y="96.3" width="0.6" height="0.6"/>
<rect x="122.2" y="84.8" width="0.6" height="0.6"/>
<rect x="119.3" y="84.9" width="0.6" height="0.6"/>
<rect x="116.5" y="90.4" width="0.6" height="0.6"/>
<rect x="88.8" y="83.5" width="0.6" height="0.6"/>
<rect x="106.5" y="93.6" width="0.6" height="0.6"/>
<rect x="95.5" y="78.9" width="0.6" height="0.6"/>
<rect x="112.6" y="94.8" width="0.6" height="0.6"/>
<rect x="105.4" y="94.8" width="0.6" height="0.6"/>
<rect x="109.5" y="90.7" width="0.6" height="0.6"/>
<rect x="103.5" y="78.8" width="0.6" height="0.6"/>
<rect x="106.1" y="84.7" width="0.6" height="0.6"/>
<rect x="86.4" y="77.7" width="0.6" height="0.6"/>
<rect x="113.6" y="89.5" width="0.6" height="0.6"/>
<rect x="92.7" y="78.8" width="0.6" height="0.6"/>
<rect x="94.6" y="67.3" width="0.6" height="0.6"/>
<rect x="119.4" y="92.1" width="0.6" height="0.6"/>
<rect x="121.6" y="84.1" width="0.6" height="0.6"/>
<rect x="116.1" y="89.3" width="0.6" height="0.6"/>
<rect x="113.2" y="84.8" width="0.6" height="0.6"/>
<rect x="120.0" y="91.2" width="0.6" height="0.6"/>
<rect x="94.2" y="90.2" width="0.6" height="0.6"/>
<rect x="113.2" y="94.1" width="0.6" height="0.6"/>
<rect x="87.3" y="88.3" width="0.6" height="0.6"/>
<rect x="117.4" y="89.6" width="0.6" height="0.6"/>
<rect x="107.5" y="94.5" width="0.6" height="0.6"/>
<rect x="120.6" y="89.1" width="0.6" height="0.6"/>
<rect x="99.2" y="93.1" width="0.6" height="0.6"/>
<rect x="104.8" y="93.1" width="0.6" height="0.6"/>
<rect x="86.7" y="83.7" width="0.6" height="0.6"/>
<rect x="110.1" y="88.9" width="0.6" height="0.6"/>
<rect x="99.7" y="75.4" width="0.6" height="0.6"/>
<rect x="109.2" y="93.9" width="0.6" height="0.6"/>
<rect x="109.5" y="81.0" width="0.6" height="0.6"/>
<rect x="106.9" y="81.0" width="0.6" height="0.6"/>
<rect x="93.3" y="95.9" width="0.6" height="0.6"/>
<rect x="106.1" y="90.7" width="0.6" height="0.6"/>
<rect x="108.2" y="72.9" width="0.6" height="0.6"/>
<rect x="120.4" y="84.4" width="0.6" height="0.6"/>
<rect x="107.8" y="96.3" width="0.6" height="0.6"/>
<rect x="113.2" y="84.7" width="0.6" height="0.6"/>
<rect x="96.1" y="92.5" width="0.6" height="0.6"/>
<rect x="112.6" y="91.2" width="0.6" height="0.6"/>
<rect x="92.4" y="96.6" width="0.6" height="0.6"/>
<rect x="111.4" y="91.4" width="0.6" height="0.6"/>
<rect x="112.3" y="86.9" width="0.6" height="0.6"/>
<rect x="113.4" y="90.9" width="0.6" height="0.6"/>
<rect x="90.2" y="65.4" width="0.6" height="0.6"/>
<rect x="104.6" y="93.2" width="0.6" height="0.6"/>
<rect x="105.3" y="87.6" width="0.6" height="0.6"/>
<rect x="108.9" y="94.8" width="0.6" height="0.6"/>
<rect x="103.7" y="96.8" width="0.6" height="0.6"/>
<rect x="114.4" y="93.1" width="0.6" height="0.6"/>
<rect x="89.4" y="93.1" width="0.6" height="0.6"/>
<rect x="104.3" y="86.7" width="0.6" height="0.6"/>
<rect x="95.7" y="91.6" width="0.6" height="0.6"/>
<rect x="101.1" y="88.5" width="0.6" height="0.6"/>
<rect x="93.0" y="84.3" width="0.6" height="0.6"/>
<rect x="120.1" y="88.8" width="0.6" height="0.6"/>
<rect x="87.9" y="85.7" width="0.6" height="0.6"/>
<rect x="120.9" y="86.2" width="0.6" height="0.6"/>
<rect x="94.5" y="83.4" width="0.6" height="0.6"/>
<rect x="115.7" y="84.1" width="0.6" height="0.6"/>
<rect x="89.5" y="89.7" width="0.6" height="0.6"/>
<rect x="109.6" y="89.1" width="0.6" height="0.6"/>
<rect x="115.3" y="74.4" width="0.6" height="0.6"/>
<rect x="112.4" y="92.8" width="0.6" height="0.6"/>
<rect x="110.5" y="90.5" width="0.6" height="0.6"/>
<rect x="110.5" y="92.9" width="0.6" height="0.6"/>
<rect x="90.0" y="80.9" width="0.6" height="0.6"/>
<rect x="108.5" y="88.8" width="0.6" height="0.6"/>
<rect x="95.6" y="82.8" width="0.6" height="0.6"/>
<rect x="116.0" y="90.8" width="0.6" height="0.6"/>
<rect x="112.8" y="93.8" width="0.6" height="0.6"/>
<rect x="113.1" y="94.3" width="0.6" height="0.6"/>
<rect x="109.7" y="90.5" width="0.6" height="0.6"/>
<rect x="103.0" y="93.2" width="0.6" height="0.6"/>
<rect x="97.5" y="91.9" width="0.6" height="0.6"/>
<rect x="109.2" y="88.3" width="0.6" height="0.6"/>
<rect x="91.8" y="93.7" width="0.6" height="0.6"/>
<rect x="121.5" y="78.7" width="0.6" height="0.6"/>
<rect x="113.7" y="87.7" width="0.6" height="0.6"/>
<rect x="97.7" y="96.2" width="0.6" height="0.6"/>
<rect x="109.7" y="89.7" width="0.6" height="0.6"/>
<rect x="87.8" y="93.4" width="0.6" height="0.6"/>
<rect x="108.0" y="90.8" width="0.6" height="0.6"/>
<rect x="120.5" y="86.6" width="0.6" height="0.6"/>
<rect x="106.6" y="91.7" width="0.6" height="0.6"/>
<rect x="104.8" y="90.8" width="0.6" height="0.6"/>
<rect x="105.4" y="90.5" width="0.6" height="0.6"/>
<rect x="112.5" y="74.9" width="0.6" height="0.6"/>
<rect x="109.8" y="92.2" width="0.6" height="0.6"/>
<rect x="100.3" y="93.9" width="0.6" height="0.6"/>
<rect x="106.7" y="91.3" width="0.6" height="0.6"/>
<rect x="110.7" y="95.0" width="0.6" height="0.6"/>
<rect x="118.0" y="84.8" width="0.6" height="0.6"/>
<rect x="114.5" y="94.0" width="0.6" height="0.6"/>
<rect x="106.7" y="94.1" width="0.6" height="0.6"/>
<rect x="120.3" y="80.5" width="0.6" height="0.6"/>
<rect x="108.1" y="94.5" width="0.6" height="0.6"/>
<rect x="109.6" y="88.2" width="0.6" height="0.6"/>
<rect x="111.7" y="92.1" width="0.6" height="0.6"/>
<rect x="122.3" y="91.2" width="0.6" height="0.6"/>
<rect x="110.0" y="85.6" width="0.6" height="0.6"/>
<rect x="97.1" y="93.2" width="0.6" height="0.6"/>
<rect x="122.6" y="93.8" width="0.6" height="0.6"/>
<rect x="114.5" y="91.9" width="0.6" height="0.6"/>
<rect x="113.1" y="89.6" width="0.6" height="0.6"/>
<rect x="121.7" y="93.4" width="0.6" height="0.6"/>
<rect x="117.5" y="92.0" width="0.6" height="0.6"/>
<rect x="114.4" y="92.9" width="0.6" height="0.6"/>
<rect x="114.5" y="93.2" width="0.6" height="0.6"/>
<rect x="105.7" y="93.7" width="0.6" height="0.6"/>
<rect x="114.1" y="88.9" width="0.6" height="0.6"/>
<rect x="92.4" y="95.7" width="0.6" height="0.6"/>
<rect x="104.7" y="89.9" width="0.6" height="0.6"/>
<rect x="95.0" y="91.3" width="0.6" height="0.6"/>
<rect x="115.4" y="90.6" width="0.6" height="0.6"/>
<rect x="95.6" y="95.4" width="0.6" height="0.6"/>
<rect x="97.3" y="94.7" width="0.6" height="0.6"/>
<rect x="121.4" y="88.7" width="0.6" height="0.6"/>
<rect x="107.4" y="89.0" width="0.6" height="0.6"/>
<rect x="103.2" y="92.5" width="0.6" height="0.6"/>
<rect x="100.9" y="92.8" width="0.6" height="0.6"/>
<rect x="121.5" y="90.8" width="0.6" height="0.6"/>
<rect x="122.0" y="95.6" width="0.6" height="0.6"/>
<rect x="98.5" y="96.9" width="0.6" height="0.6"/>
<rect x="117.4" y="79.0" width="0.6" height="0.6"/>
<rect x="91.5" y="89.4" width="0.6" height="0.6"/>
<rect x="115.8" y="88.2" width="0.6" height="0.6"/>
<rect x="92.4" y="96.6" width="0.6" height="0.6"/>
<rect x="105.6" y="92.6" width="0.6" height="0.6"/>
<rect x="116.4" y="84.5" width="0.6" height="0.6"/>
<rect x="118.0" y="87.0" width="0.6" height="0.6"/>
<rect x="86.4" y="95.5" width="0.6" height="0.6"/>
<rect x="98.1" y="78.1" width="0.6" height="0.6"/>
<rect x="119.5" y="85.0" width="0.6" height="0.6"/>
<rect x="95.8" y="88.6" width="0.6" height="0.6"/>
<rect x="117.1" y="88.7" width="0.6" height="0.6"/>
<rect x="90.1" y="86.9" width="0.6" height="0.6"/>
<rect x="101.2" y="79.1" width="0.6" height="0.6"/>
<rect x="101.0" y="91.1" width="0.6" height="0.6"/>
<rect x="120.0" y="87.3" width="0.6" height="0.6"/>
<rect x="119.1" y="79.5" width="0.6" height="0.6"/>
<rect x="112.9" y="96.3" width="0.6" height="0.6"/>
<rect x="99.2" y="90.9" width="0.6" height="0.6"/>
<rect x="100.1" y="78.0" width="0.6" height="0.6"/>
<rect x="114.0" y="89.2" width="0.6" height="0.6"/>
<rect x="105.9" y="84.5" width="0.6" height="0.6"/>
<rect x="123.1" y="86.7" width="0.6" height="0.6"/>
<rect x="117.4" y="76.3" width="0.6" height="0.6"/>
<rect x="114.8" y="89.5" width="0.6" height="0.6"/>
<rect x="120.7" y="96.3" width="0.6" height="0.6"/>
<rect x="101.5" y="90.3" width="0.6" height="0.6"/>
<rect x="118.2" y="93.7" width="0.6" height="0.6"/>
<rect x="104.6" y="89.7" width="0.6" height="0.6"/>
<rect x="98.6" y="92.3" width="0.6" height="0.6"/>
<rect x="100.0" y="92.9" width="0.6" height="0.6"/>
<rect x="98.6" y="90.4" width="0.6" height="0.6"/>
<rect x="112.0" y="92.8" width="0.6" height="0.6"/>
<rect x="98.1" y="74.1" width="0.6" height="0.6"/>
<rect x="114.0" y="91.2" width="0.6" height="0.6"/>
<rect x="88.5" y="92.1" width="0.6" height="0.6"/>
<rect x="111.7" y="88.3" width="0.6" height="0.6"/>
<rect x="103.1" y="77.9" width="0.6" height="0.6"/>
<rect x="119.3" y="94.3" width="0.6" height="0.6"/>
<rect x="109.4" y="93.8" width="0.6" height="0.6"/>
<rect x="118.2" y="88.2" width="0.6" height="0.6"/>
<rect x="119.3" y="95.9" width="0.6" height="0.6"/>
<rect x="106.0" y="94.7" width="0.6" height="0.6"/>
<rect x="89.9" y="84.9" width="0.6" height="0.6"/>
<rect x="100.8" y="87.1" width="0.6" height="0.6"/>
<rect x="105.2" y="83.6" width="0.6" height="0.6"/>
<rect x="112.7" y="95.3" width="0.6" height="0.6"/>
<rect x="93.7" y="83.9" width="0.6" height="0.6"/>
<rect x="107.7" y="93.9" width="0.6" height="0.6"/>
<rect x="121.5" y="94.8" width="0.6" height="0.6"/>
<rect x="108.6" y="91.9" width="0.6" height="0.6"/>
<rect x="107.9" y="95.2" width="0.6" height="0.6"/>
<rect x="101.9" y="93.6" width="0.6" height="0.6"/>
<rect x="101.9" y="83.8" width="0.6" height="0.6"/>
<rect x="116.7" y="94.0" width="0.6" height="0.6"/>
<rect x="99.2" y="76.3" width="0.6" height="0.6"/>
<rect x="115.7" y="91.8" width="0.6" height="0.6"/>
<rect x="100.1" y="96.3" width="0.6" height="0.6"/>
<rect x="108.0" y="82.1" width="0.6" height="0.6"/>
<rect x="93.5" y="93.3" width="0.6" height="0.6"/>
<rect x="117.9" y="90.7" width="0.6" height="0.6"/>
<rect x="106.2" y="88.7" width="0.6" height="0.6"/>
<rect x="101.6" y="91.0" width="0.6" height="0.6"/>
<rect x="103.5" y="84.4" width="0.6" height="0.6"/>
<rect x="92.8" y="88.3" width="0.6" height="0.6"/>
<rect x="119.5" y="88.3" width="0.6" height="0.6"/>
<rect x="114.1" y="88.7" width="0.6" height="0.6"/>
<rect x="107.1" y="93.4" width="0.6" height="0.6"/>
<rect x="86.9" y="92.9" width="0.6" height="0.6"/>
<rect x="97.0" y="90.9" width="0.6" height="0.6"/>
<rect x="119.3" y="82.1" width="0.6" height="0.6"/>
</g>
<rect x="60.6" y="60.5" width="23.8" height="37" fill="none" stroke="#7da36c" stroke-width="0.9"/>
<rect x="85.0" y="63.5" width="39.2" height="34" fill="none" stroke="#7b7fc4" stroke-width="0.9"/>
<text x="58.3" y="57.8" font-size="8.74" text-anchor="start" fill="#4e7e64" stroke="#4e7e64" textLength="28.6" lengthAdjust="spacingAndGlyphs">HO-1low</text>
<text x="112.4" y="111.3" font-size="8.74" text-anchor="start" fill="#4d6a9c" stroke="#4d6a9c" textLength="22.2" lengthAdjust="spacingAndGlyphs">HO-1hi</text>
<line x1="128.6" y1="62.7" x2="159.23" y2="44.32" stroke="#111" stroke-width="1.1"/>
<polygon points="163.60,41.70 159.43,47.58 159.23,44.32 156.45,42.61" fill="#111"/>
<line x1="80.6" y1="101.0" x2="157.87" y2="132.29" stroke="#111" stroke-width="1.1"/>
<polygon points="162.60,134.20 155.39,134.41 157.87,132.29 157.57,129.04" fill="#111"/>
<defs>
<radialGradient id="gm" cx="50%" cy="50%" r="50%"><stop offset="0" stop-color="#b0306c" stop-opacity="0.55"/><stop offset="0.7" stop-color="#c8388a" stop-opacity="0.8"/><stop offset="1" stop-color="#c8388a" stop-opacity="0"/></radialGradient>
<radialGradient id="gmb" cx="50%" cy="50%" r="50%"><stop offset="0" stop-color="#e048a0"/><stop offset="0.75" stop-color="#d03c92"/><stop offset="1" stop-color="#d03c92" stop-opacity="0"/></radialGradient>
<radialGradient id="gg" cx="50%" cy="50%" r="50%"><stop offset="0" stop-color="#b8f060"/><stop offset="0.6" stop-color="#6cc030"/><stop offset="1" stop-color="#4a9020" stop-opacity="0"/></radialGradient>
<radialGradient id="ggd" cx="50%" cy="50%" r="50%"><stop offset="0" stop-color="#4a8a28" stop-opacity="0.8"/><stop offset="1" stop-color="#3a7020" stop-opacity="0"/></radialGradient>
<radialGradient id="bf" cx="50%" cy="50%" r="50%"><stop offset="0" stop-color="#b4b4b2"/><stop offset="0.75" stop-color="#b8b8b6"/><stop offset="0.85" stop-color="#8a8a88"/><stop offset="1" stop-color="#a9a9a6" stop-opacity="0"/></radialGradient>
<radialGradient id="gray1" cx="50%" cy="50%" r="50%"><stop offset="0" stop-color="#1a1a1a"/><stop offset="0.35" stop-color="#3a3a3a"/><stop offset="0.7" stop-color="#7a7a7a"/><stop offset="1" stop-color="#b0b0b0" stop-opacity="0.3"/></radialGradient>
</defs>
<defs><filter id="soft" x="-50%" y="-50%" width="200%" height="200%"><feGaussianBlur stdDeviation="0.5"/></filter><filter id="soft2" x="-50%" y="-50%" width="200%" height="200%"><feGaussianBlur stdDeviation="0.9"/></filter></defs>
<rect x="169.2" y="18.2" width="116.69999999999999" height="68.0" fill="#4a4a46"/>
<rect x="169.2" y="18.2" width="29.0" height="21.599999999999998" fill="#a8a6a4"/>
<rect x="198.2" y="18.2" width="87.69999999999999" height="21.599999999999998" fill="#191919"/>
<rect x="169.2" y="41.8" width="29.0" height="22.799999999999997" fill="#a8a6a4"/>
<rect x="198.2" y="41.8" width="87.69999999999999" height="22.799999999999997" fill="#191919"/>
<rect x="169.2" y="66.4" width="29.0" height="19.099999999999994" fill="#a8a6a4"/>
<rect x="198.2" y="66.4" width="87.69999999999999" height="19.099999999999994" fill="#191919"/>
<rect x="170.2" y="19.6" width="6.5" height="1.6" fill="#6a6a68" opacity="0.6"/><rect x="170.2" y="42.8" width="6.5" height="1.6" fill="#6a6a68" opacity="0.6"/><rect x="170.2" y="67.4" width="6.5" height="1.6" fill="#6a6a68" opacity="0.6"/><g filter="url(#soft)"><circle cx="182.5" cy="29.5" r="5.5" fill="none" stroke="#929290" stroke-width="0.6"/><circle cx="183.0" cy="29.5" r="4.3" fill="none" stroke="#bcbcba" stroke-width="0.6"/><circle cx="181.5" cy="29.0" r="1.6" fill="none" stroke="#909090" stroke-width="0.5"/></g><circle cx="212.8" cy="29.4" r="5.6" fill="#43192f" filter="url(#soft)"/><circle cx="212.8" cy="29.4" r="4.90" fill="none" stroke="#a03078" stroke-width="1.2" filter="url(#soft)"/><circle cx="210.60000000000002" cy="29.7" r="1.7" fill="#9a3074" opacity="0.7" filter="url(#soft)"/><path d="M209.8 27.4 q3 2.5 6 0.5 M210.3 31.9 q2.5 -1.5 5 0" fill="none" stroke="#7a2860" stroke-width="0.6" filter="url(#soft)"/><circle cx="239.7" cy="29" r="3.4" fill="#2e5a22" filter="url(#soft)"/><circle cx="243.5" cy="32.3" r="2.8" fill="#7ad040" filter="url(#soft)"/><circle cx="243.5" cy="32.3" r="1.40" fill="#c0f070" filter="url(#soft)"/><circle cx="271.2" cy="29.6" r="5.6" fill="#43192f" filter="url(#soft)"/><circle cx="271.2" cy="29.6" r="4.90" fill="none" stroke="#a03078" stroke-width="1.2" filter="url(#soft)"/><circle cx="269.0" cy="29.900000000000002" r="1.7" fill="#9a3074" opacity="0.7" filter="url(#soft)"/><path d="M268.2 27.6 q3 2.5 6 0.5 M268.7 32.1 q2.5 -1.5 5 0" fill="none" stroke="#7a2860" stroke-width="0.6" filter="url(#soft)"/><circle cx="272.2" cy="32.2" r="2.6" fill="#7ad040" filter="url(#soft)"/><circle cx="272.2" cy="32.2" r="1.30" fill="#c0f070" filter="url(#soft)"/><g filter="url(#soft)"><circle cx="182.5" cy="53.5" r="5.5" fill="none" stroke="#929290" stroke-width="0.6"/><circle cx="183.0" cy="53.5" r="4.3" fill="none" stroke="#bcbcba" stroke-width="0.6"/><circle cx="181.5" cy="53.0" r="1.6" fill="none" stroke="#909090" stroke-width="0.5"/></g><circle cx="213.5" cy="53.5" r="5.9" fill="#43192f" filter="url(#soft)"/><circle cx="213.5" cy="53.5" r="5.20" fill="none" stroke="#a03078" stroke-width="1.2" filter="url(#soft)"/><circle cx="211.3" cy="53.8" r="1.7" fill="#9a3074" opacity="0.7" filter="url(#soft)"/><path d="M210.5 51.5 q3 2.5 6 0.5 M211.0 56.0 q2.5 -1.5 5 0" fill="none" stroke="#7a2860" stroke-width="0.6" filter="url(#soft)"/><circle cx="242.5" cy="55.5" r="3.1" fill="#4c9a2c" filter="url(#soft)"/><circle cx="242.5" cy="55.5" r="1.55" fill="#3a7622" filter="url(#soft)"/><circle cx="272.2" cy="53.1" r="5.9" fill="#43192f" filter="url(#soft)"/><circle cx="272.2" cy="53.1" r="5.20" fill="none" stroke="#a03078" stroke-width="1.2" filter="url(#soft)"/><circle cx="270.0" cy="53.4" r="1.7" fill="#9a3074" opacity="0.7" filter="url(#soft)"/><path d="M269.2 51.1 q3 2.5 6 0.5 M269.7 55.6 q2.5 -1.5 5 0" fill="none" stroke="#7a2860" stroke-width="0.6" filter="url(#soft)"/><circle cx="271.2" cy="55.3" r="3.0" fill="#4c9a2c" filter="url(#soft)"/><circle cx="271.2" cy="55.3" r="1.50" fill="#3a7622" filter="url(#soft)"/><g filter="url(#soft)"><circle cx="182" cy="75.5" r="5" fill="none" stroke="#929290" stroke-width="0.6"/><circle cx="182.5" cy="75.5" r="3.8" fill="none" stroke="#bcbcba" stroke-width="0.6"/><circle cx="181" cy="75.0" r="1.6" fill="none" stroke="#909090" stroke-width="0.5"/></g><circle cx="213" cy="75.5" r="5.3" fill="#3c1a30" filter="url(#soft)"/><circle cx="213" cy="75.5" r="4.60" fill="none" stroke="#7e2c62" stroke-width="1.1" filter="url(#soft)"/><path d="M211 74.0 q2 2 4 0.5" fill="none" stroke="#6a2452" stroke-width="0.7"/><circle cx="241.9" cy="74.7" r="2.8" fill="#4c9a2c" filter="url(#soft)"/><circle cx="241.9" cy="74.7" r="1.40" fill="#3a7622" filter="url(#soft)"/><circle cx="245.3" cy="76.3" r="2.8" fill="#4c9a2c" filter="url(#soft)"/><circle cx="245.3" cy="76.3" r="1.40" fill="#3a7622" filter="url(#soft)"/><circle cx="271.2" cy="74.8" r="5.3" fill="#3c1a30" filter="url(#soft)"/><circle cx="271.2" cy="74.8" r="4.60" fill="none" stroke="#7e2c62" stroke-width="1.1" filter="url(#soft)"/><path d="M269.2 73.3 q2 2 4 0.5" fill="none" stroke="#6a2452" stroke-width="0.7"/><circle cx="270.5" cy="75.8" r="2.7" fill="#4c9a2c" filter="url(#soft)"/><circle cx="270.5" cy="75.8" r="1.35" fill="#3a7622" filter="url(#soft)"/><circle cx="274" cy="77" r="2.7" fill="#4c9a2c" filter="url(#soft)"/><circle cx="274" cy="77" r="1.35" fill="#3a7622" filter="url(#soft)"/>
<rect x="169.2" y="113.2" width="116.69999999999999" height="54.900000000000006" fill="#4a4a46"/>
<rect x="169.2" y="113.2" width="29.0" height="17.799999999999997" fill="#a8a6a4"/>
<rect x="198.2" y="113.2" width="87.69999999999999" height="17.799999999999997" fill="#191919"/>
<rect x="169.2" y="132.4" width="29.0" height="16.5" fill="#a8a6a4"/>
<rect x="198.2" y="132.4" width="87.69999999999999" height="16.5" fill="#191919"/>
<rect x="169.2" y="150.4" width="29.0" height="17.0" fill="#a8a6a4"/>
<rect x="198.2" y="150.4" width="87.69999999999999" height="17.0" fill="#191919"/>
<rect x="170.2" y="114.2" width="6.5" height="1.6" fill="#6a6a68" opacity="0.6"/><rect x="170.2" y="133.4" width="6.5" height="1.6" fill="#6a6a68" opacity="0.6"/><rect x="170.2" y="151.2" width="6.5" height="1.6" fill="#6a6a68" opacity="0.6"/><g filter="url(#soft)"><circle cx="184" cy="122" r="4.5" fill="none" stroke="#929290" stroke-width="0.6"/><circle cx="184.5" cy="122" r="3.3" fill="none" stroke="#bcbcba" stroke-width="0.6"/><circle cx="183" cy="121.5" r="1.6" fill="none" stroke="#909090" stroke-width="0.5"/></g><circle cx="213.2" cy="121.5" r="4.6" fill="#c8409a" filter="url(#soft)"/><circle cx="212.39999999999998" cy="120.9" r="2.07" fill="#d860b0" opacity="0.7" filter="url(#soft)"/><circle cx="240" cy="119.8" r="2.1" fill="#c8f060" filter="url(#soft)"/><circle cx="240" cy="119.8" r="1.05" fill="#c0f070" filter="url(#soft)"/><circle cx="272" cy="121.9" r="4.6" fill="#c8409a" filter="url(#soft)"/><circle cx="271.2" cy="121.30000000000001" r="2.07" fill="#d860b0" opacity="0.7" filter="url(#soft)"/><circle cx="268.9" cy="119.8" r="2.1" fill="#c8f060" filter="url(#soft)"/><circle cx="268.9" cy="119.8" r="1.05" fill="#c0f070" filter="url(#soft)"/><g filter="url(#soft)"><circle cx="185" cy="140" r="4.5" fill="none" stroke="#929290" stroke-width="0.6"/><circle cx="185.5" cy="140" r="3.3" fill="none" stroke="#bcbcba" stroke-width="0.6"/><circle cx="184" cy="139.5" r="1.6" fill="none" stroke="#909090" stroke-width="0.5"/></g><circle cx="215.8" cy="138.8" r="4.8" fill="#a83a82" filter="url(#soft)"/><circle cx="215.8" cy="138.8" r="2.64" fill="#6a2650" opacity="0.8" filter="url(#soft)"/><circle cx="237.8" cy="138.5" r="3.4" fill="#4c9a2c" filter="url(#soft)"/><circle cx="237.8" cy="138.5" r="1.70" fill="#3a7622" filter="url(#soft)"/><circle cx="266.9" cy="138.5" r="3.4" fill="#4c9a2c" filter="url(#soft)"/><circle cx="266.9" cy="138.5" r="1.70" fill="#3a7622" filter="url(#soft)"/><circle cx="274.6" cy="139.2" r="4.8" fill="#a83a82" filter="url(#soft)"/><circle cx="274.6" cy="139.2" r="2.64" fill="#6a2650" opacity="0.8" filter="url(#soft)"/><g filter="url(#soft)"><circle cx="184" cy="159" r="4.5" fill="none" stroke="#929290" stroke-width="0.6"/><circle cx="184.5" cy="159" r="3.3" fill="none" stroke="#bcbcba" stroke-width="0.6"/><circle cx="183" cy="158.5" r="1.6" fill="none" stroke="#909090" stroke-width="0.5"/></g><circle cx="215" cy="159" r="4.4" fill="#3c1a30" filter="url(#soft)"/><circle cx="215" cy="159" r="3.70" fill="none" stroke="#7e2c62" stroke-width="1.1" filter="url(#soft)"/><path d="M213 157.5 q2 2 4 0.5" fill="none" stroke="#6a2452" stroke-width="0.7"/><circle cx="238.7" cy="156.1" r="3.0" fill="#4c9a2c" filter="url(#soft)"/><circle cx="238.7" cy="156.1" r="1.50" fill="#3a7622" filter="url(#soft)"/><circle cx="268" cy="156.1" r="2.9" fill="#4c9a2c" filter="url(#soft)"/><circle cx="268" cy="156.1" r="1.45" fill="#3a7622" filter="url(#soft)"/><circle cx="273.6" cy="159" r="4.4" fill="#3c1a30" filter="url(#soft)"/><circle cx="273.6" cy="159" r="3.70" fill="none" stroke="#7e2c62" stroke-width="1.1" filter="url(#soft)"/><path d="M271.6 157.5 q2 2 4 0.5" fill="none" stroke="#6a2452" stroke-width="0.7"/>
<text x="179.5" y="15.7" font-size="9.33" text-anchor="start" fill="#222" stroke="#222" textLength="8.1" lengthAdjust="spacingAndGlyphs">BF</text>
<text x="203.2" y="15.7" font-size="9.33" text-anchor="start" fill="#222" stroke="#222" textLength="19.0" lengthAdjust="spacingAndGlyphs">CD45</text>
<text x="233.2" y="15.7" font-size="9.33" text-anchor="start" fill="#222" stroke="#222" textLength="17.0" lengthAdjust="spacingAndGlyphs">CFSE</text>
<text x="260.2" y="15.7" font-size="9.33" text-anchor="start" fill="#222" stroke="#222" textLength="22.4" lengthAdjust="spacingAndGlyphs">Merge</text>
<polygon fill="#d9993d" points="355,80.2 362,79.8 366,79.6 369.5,79.2 372,79.7 376,79.3 380,79.6 383.5,78.8 387,79.3 391,78.6 394,77.8 395.5,76.7 397.7,72.9 399,74.5 400.3,77.2 402,77.4 404.6,77 407,74.5 409,71 411.3,66.6 413,66.8 414.7,67.3 417.1,68 418,59.4 419.5,57.5 421.4,56.3 423.4,59.4 425,59 426.7,58.3 429,59.3 431.5,60.4 433.9,58.9 436,59.5 437.3,60.4 438.75,67 440.2,71 440.6,72 440.6,28 441.3,28 441.3,80.5 355,80.5"/>
<rect x="355.0" y="19.6" width="86.39999999999998" height="60.9" fill="none" stroke="#231f20" stroke-width="1.2"/>
<line x1="352.0" y1="19.6" x2="355.0" y2="19.6" stroke="#231f20" stroke-width="1"/>
<text x="347.40000000000003" y="21.9" font-size="8.51" text-anchor="end" fill="#222" stroke="#222" textLength="2.4" lengthAdjust="spacingAndGlyphs">1</text>
<line x1="352.0" y1="31.8" x2="355.0" y2="31.8" stroke="#231f20" stroke-width="1"/>
<text x="348.6" y="34.1" font-size="8.51" text-anchor="end" fill="#222" stroke="#222" textLength="10.2" lengthAdjust="spacingAndGlyphs">0.8</text>
<line x1="352.0" y1="44.0" x2="355.0" y2="44.0" stroke="#231f20" stroke-width="1"/>
<text x="348.6" y="46.3" font-size="8.51" text-anchor="end" fill="#222" stroke="#222" textLength="10.2" lengthAdjust="spacingAndGlyphs">0.6</text>
<line x1="352.0" y1="56.2" x2="355.0" y2="56.2" stroke="#231f20" stroke-width="1"/>
<text x="348.6" y="58.5" font-size="8.51" text-anchor="end" fill="#222" stroke="#222" textLength="10.2" lengthAdjust="spacingAndGlyphs">0.4</text>
<line x1="352.0" y1="68.4" x2="355.0" y2="68.4" stroke="#231f20" stroke-width="1"/>
<text x="348.6" y="70.7" font-size="8.51" text-anchor="end" fill="#222" stroke="#222" textLength="10.2" lengthAdjust="spacingAndGlyphs">0.2</text>
<line x1="352.0" y1="80.5" x2="355.0" y2="80.5" stroke="#231f20" stroke-width="1"/>
<text x="348.6" y="82.8" font-size="8.51" text-anchor="end" fill="#222" stroke="#222" textLength="3.8" lengthAdjust="spacingAndGlyphs">0</text>
<line x1="355.0" y1="80.5" x2="355.0" y2="83.5" stroke="#231f20" stroke-width="1"/>
<line x1="369.38" y1="80.5" x2="369.38" y2="83.5" stroke="#231f20" stroke-width="1"/>
<line x1="383.76" y1="80.5" x2="383.76" y2="83.5" stroke="#231f20" stroke-width="1"/>
<line x1="398.14" y1="80.5" x2="398.14" y2="83.5" stroke="#231f20" stroke-width="1"/>
<line x1="412.52" y1="80.5" x2="412.52" y2="83.5" stroke="#231f20" stroke-width="1"/>
<line x1="426.9" y1="80.5" x2="426.9" y2="83.5" stroke="#231f20" stroke-width="1"/>
<line x1="441.28" y1="80.5" x2="441.28" y2="83.5" stroke="#231f20" stroke-width="1"/>
<line x1="397.9" y1="62.6" x2="441.4" y2="62.6" stroke="#333" stroke-width="1.1"/>
<text x="388" y="47.8" font-size="8.51" text-anchor="start" fill="#222" stroke="#222" textLength="13.4" lengthAdjust="spacingAndGlyphs">95%</text>
<text x="412" y="41.8" font-size="8.51" text-anchor="start" fill="#222" stroke="#222" textLength="7.6" lengthAdjust="spacingAndGlyphs">R1</text>
<text x="354.4" y="94.4" font-size="8.51" text-anchor="middle" fill="#222" stroke="#222" textLength="6.6" lengthAdjust="spacingAndGlyphs">-3</text>
<text x="368.78" y="94.4" font-size="8.51" text-anchor="middle" fill="#222" stroke="#222" textLength="6.6" lengthAdjust="spacingAndGlyphs">-2</text>
<text x="383.16" y="94.4" font-size="8.51" text-anchor="middle" fill="#222" stroke="#222" textLength="6.6" lengthAdjust="spacingAndGlyphs">-1</text>
<text x="398.14" y="94.4" font-size="8.51" text-anchor="middle" fill="#222" stroke="#222" textLength="3.6" lengthAdjust="spacingAndGlyphs">0</text>
<text x="412.52" y="94.4" font-size="8.51" text-anchor="middle" fill="#222" stroke="#222" textLength="3.6" lengthAdjust="spacingAndGlyphs">1</text>
<text x="426.9" y="94.4" font-size="8.51" text-anchor="middle" fill="#222" stroke="#222" textLength="3.6" lengthAdjust="spacingAndGlyphs">2</text>
<text x="441.28" y="94.4" font-size="8.51" text-anchor="middle" fill="#222" stroke="#222" textLength="3.6" lengthAdjust="spacingAndGlyphs">3</text>
<text x="355.9" y="107.1" font-size="9.86" text-anchor="start" fill="#222" stroke="#222" textLength="85.5" lengthAdjust="spacingAndGlyphs">Internalization index</text>
<text x="319.9" y="74.0" font-size="10.8" text-anchor="start" fill="#222" stroke="#222" textLength="47.0" lengthAdjust="spacingAndGlyphs" transform="rotate(-90 319.9 74.0)">Normalized</text>
<text x="332.0" y="71.2" font-size="10.8" text-anchor="start" fill="#222" stroke="#222" textLength="41.8" lengthAdjust="spacingAndGlyphs" transform="rotate(-90 332.0 71.2)">frequency</text>
<line x1="288.8" y1="51.3" x2="303.3" y2="51.3" stroke="#111" stroke-width="1.0"/>
<polygon points="307.80,51.30 302.00,53.70 303.30,51.30 302.00,48.90" fill="#111"/>
<polygon fill="#c42c74" points="355,167.1 357.5,166.3 359,167.2 360.9,168.6 362.5,168.4 364.4,167.7 366,166.4 367.8,165.1 370,164.8 375,164.8 380.5,164.8 382.8,163.6 384.2,161 385.4,159.8 386.5,160.2 387.4,161.3 388.6,163.6 389.8,165.4 391.5,163.6 393.8,160.8 395.8,159.2 397.8,157.3 399.5,154.5 401.3,150.6 402.5,151.2 403.6,152.7 405,156 406.5,160.8 407.7,164.8 408.8,167.7 410,168.2 411.7,168.3 414,168.8 416,169.4 418,169.2 420,169.8 424,170.1 428,170.3 432,170.2 436,170.5 441,170.7 441,171.3 355,171.3"/>
<rect x="355.0" y="117.0" width="86.39999999999998" height="54.30000000000001" fill="none" stroke="#231f20" stroke-width="1.2"/>
<line x1="352.0" y1="117" x2="355.0" y2="117" stroke="#231f20" stroke-width="1"/>
<text x="347.40000000000003" y="119.3" font-size="8.51" text-anchor="end" fill="#222" stroke="#222" textLength="2.4" lengthAdjust="spacingAndGlyphs">1</text>
<line x1="352.0" y1="127.9" x2="355.0" y2="127.9" stroke="#231f20" stroke-width="1"/>
<text x="348.6" y="130.2" font-size="8.51" text-anchor="end" fill="#222" stroke="#222" textLength="10.2" lengthAdjust="spacingAndGlyphs">0.8</text>
<line x1="352.0" y1="138.7" x2="355.0" y2="138.7" stroke="#231f20" stroke-width="1"/>
<text x="348.6" y="141.0" font-size="8.51" text-anchor="end" fill="#222" stroke="#222" textLength="10.2" lengthAdjust="spacingAndGlyphs">0.6</text>
<line x1="352.0" y1="149.6" x2="355.0" y2="149.6" stroke="#231f20" stroke-width="1"/>
<text x="348.6" y="151.9" font-size="8.51" text-anchor="end" fill="#222" stroke="#222" textLength="10.2" lengthAdjust="spacingAndGlyphs">0.4</text>
<line x1="352.0" y1="160.4" x2="355.0" y2="160.4" stroke="#231f20" stroke-width="1"/>
<text x="348.6" y="162.7" font-size="8.51" text-anchor="end" fill="#222" stroke="#222" textLength="10.2" lengthAdjust="spacingAndGlyphs">0.2</text>
<line x1="352.0" y1="171.3" x2="355.0" y2="171.3" stroke="#231f20" stroke-width="1"/>
<text x="348.6" y="173.6" font-size="8.51" text-anchor="end" fill="#222" stroke="#222" textLength="3.8" lengthAdjust="spacingAndGlyphs">0</text>
<line x1="355.0" y1="171.3" x2="355.0" y2="174.3" stroke="#231f20" stroke-width="1"/>
<line x1="369.38" y1="171.3" x2="369.38" y2="174.3" stroke="#231f20" stroke-width="1"/>
<line x1="383.76" y1="171.3" x2="383.76" y2="174.3" stroke="#231f20" stroke-width="1"/>
<line x1="398.14" y1="171.3" x2="398.14" y2="174.3" stroke="#231f20" stroke-width="1"/>
<line x1="412.52" y1="171.3" x2="412.52" y2="174.3" stroke="#231f20" stroke-width="1"/>
<line x1="426.9" y1="171.3" x2="426.9" y2="174.3" stroke="#231f20" stroke-width="1"/>
<line x1="441.28" y1="171.3" x2="441.28" y2="174.3" stroke="#231f20" stroke-width="1"/>
<line x1="397.9" y1="139.3" x2="439.3" y2="139.3" stroke="#a3a3d3" stroke-width="1.0"/>
<text x="378" y="136.2" font-size="8.18" text-anchor="start" fill="#222" stroke="#222" textLength="14.0" lengthAdjust="spacingAndGlyphs">41%</text>
<text x="415" y="134.9" font-size="8.51" text-anchor="start" fill="#9c9cd0" stroke="#9c9cd0" textLength="7.4" lengthAdjust="spacingAndGlyphs">R3</text>
<text x="354.6" y="185.4" font-size="8.51" text-anchor="middle" fill="#222" stroke="#222" textLength="6.6" lengthAdjust="spacingAndGlyphs">-3</text>
<text x="368.98" y="185.4" font-size="8.51" text-anchor="middle" fill="#222" stroke="#222" textLength="6.6" lengthAdjust="spacingAndGlyphs">-2</text>
<text x="383.36" y="185.4" font-size="8.51" text-anchor="middle" fill="#222" stroke="#222" textLength="6.6" lengthAdjust="spacingAndGlyphs">-1</text>
<text x="398.34" y="185.4" font-size="8.51" text-anchor="middle" fill="#222" stroke="#222" textLength="3.6" lengthAdjust="spacingAndGlyphs">0</text>
<text x="412.72" y="185.4" font-size="8.51" text-anchor="middle" fill="#222" stroke="#222" textLength="3.6" lengthAdjust="spacingAndGlyphs">1</text>
<text x="427.1" y="185.4" font-size="8.51" text-anchor="middle" fill="#222" stroke="#222" textLength="3.6" lengthAdjust="spacingAndGlyphs">2</text>
<text x="441.48" y="185.4" font-size="8.51" text-anchor="middle" fill="#222" stroke="#222" textLength="3.6" lengthAdjust="spacingAndGlyphs">3</text>
<text x="355.9" y="198.5" font-size="9.86" text-anchor="start" fill="#222" stroke="#222" textLength="85.5" lengthAdjust="spacingAndGlyphs">Internalization index</text>
<text x="319.9" y="169.0" font-size="10.8" text-anchor="start" fill="#222" stroke="#222" textLength="47.6" lengthAdjust="spacingAndGlyphs" transform="rotate(-90 319.9 169.0)">Normalized</text>
<text x="332.0" y="165.2" font-size="10.8" text-anchor="start" fill="#222" stroke="#222" textLength="41.8" lengthAdjust="spacingAndGlyphs" transform="rotate(-90 332.0 165.2)">frequency</text>
<line x1="288.8" y1="139.5" x2="303.3" y2="139.5" stroke="#111" stroke-width="1.0"/>
<polygon points="307.80,139.50 302.00,141.90 303.30,139.50 302.00,137.10" fill="#111"/>
<text x="9.2" y="219.2" font-size="11" text-anchor="start" fill="#222" stroke="#222" textLength="6.0" lengthAdjust="spacingAndGlyphs">B</text>
<text x="70.2" y="227.8" font-size="9.33" text-anchor="start" fill="#222" stroke="#222" textLength="27.6" lengthAdjust="spacingAndGlyphs">Medium</text>
<text x="183.8" y="227.8" font-size="9.33" text-anchor="start" fill="#222" stroke="#222" textLength="24.2" lengthAdjust="spacingAndGlyphs">SnPPIX</text>
<defs>
<radialGradient id="fc1" cx="0.58" cy="0.42" r="0.62"><stop offset="0" stop-color="#262626"/><stop offset="0.22" stop-color="#383838"/><stop offset="0.5" stop-color="#707070"/><stop offset="0.8" stop-color="#a4a4a4"/><stop offset="1" stop-color="#c0c0c0"/></radialGradient>
<radialGradient id="fc2" cx="0.4" cy="0.5" r="0.6"><stop offset="0" stop-color="#9a9a9a"/><stop offset="0.6" stop-color="#bdbdbd"/><stop offset="1" stop-color="#d6d6d6"/></radialGradient>
</defs>
<g fill="#8a8a8a">
<rect x="63.0" y="293.5" width="0.6" height="0.6"/>
<rect x="61.3" y="290.9" width="0.6" height="0.6"/>
<rect x="76.0" y="286.1" width="0.6" height="0.6"/>
<rect x="57.1" y="277.4" width="0.6" height="0.6"/>
<rect x="61.8" y="281.5" width="0.6" height="0.6"/>
<rect x="75.3" y="272.9" width="0.6" height="0.6"/>
<rect x="65.2" y="283.8" width="0.6" height="0.6"/>
<rect x="66.5" y="275.3" width="0.6" height="0.6"/>
<rect x="78.1" y="282.9" width="0.6" height="0.6"/>
<rect x="59.4" y="282.6" width="0.6" height="0.6"/>
<rect x="76.8" y="288.5" width="0.6" height="0.6"/>
<rect x="76.9" y="288.0" width="0.6" height="0.6"/>
<rect x="62.6" y="270.6" width="0.6" height="0.6"/>
<rect x="58.6" y="282.9" width="0.6" height="0.6"/>
<rect x="51.8" y="281.2" width="0.6" height="0.6"/>
<rect x="59.0" y="293.8" width="0.6" height="0.6"/>
<rect x="48.6" y="303.4" width="0.6" height="0.6"/>
<rect x="73.0" y="279.4" width="0.6" height="0.6"/>
<rect x="67.3" y="297.6" width="0.6" height="0.6"/>
<rect x="72.8" y="280.8" width="0.6" height="0.6"/>
<rect x="61.5" y="270.6" width="0.6" height="0.6"/>
<rect x="69.2" y="291.1" width="0.6" height="0.6"/>
<rect x="65.9" y="283.7" width="0.6" height="0.6"/>
<rect x="59.3" y="284.7" width="0.6" height="0.6"/>
<rect x="71.1" y="272.4" width="0.6" height="0.6"/>
<rect x="72.7" y="281.2" width="0.6" height="0.6"/>
<rect x="71.1" y="283.7" width="0.6" height="0.6"/>
<rect x="69.7" y="285.7" width="0.6" height="0.6"/>
<rect x="73.3" y="277.3" width="0.6" height="0.6"/>
<rect x="65.8" y="273.4" width="0.6" height="0.6"/>
<rect x="67.2" y="293.2" width="0.6" height="0.6"/>
<rect x="64.2" y="292.6" width="0.6" height="0.6"/>
<rect x="62.5" y="286.9" width="0.6" height="0.6"/>
<rect x="77.4" y="286.4" width="0.6" height="0.6"/>
<rect x="70.3" y="295.5" width="0.6" height="0.6"/>
<rect x="72.2" y="292.0" width="0.6" height="0.6"/>
<rect x="64.1" y="277.2" width="0.6" height="0.6"/>
<rect x="73.5" y="274.8" width="0.6" height="0.6"/>
<rect x="77.1" y="279.0" width="0.6" height="0.6"/>
<rect x="69.2" y="290.7" width="0.6" height="0.6"/>
<rect x="57.2" y="300.5" width="0.6" height="0.6"/>
<rect x="66.7" y="281.9" width="0.6" height="0.6"/>
<rect x="57.7" y="269.1" width="0.6" height="0.6"/>
<rect x="51.3" y="275.2" width="0.6" height="0.6"/>
<rect x="71.6" y="279.6" width="0.6" height="0.6"/>
<rect x="76.9" y="275.4" width="0.6" height="0.6"/>
<rect x="53.5" y="287.8" width="0.6" height="0.6"/>
<rect x="64.4" y="271.3" width="0.6" height="0.6"/>
<rect x="79.1" y="286.1" width="0.6" height="0.6"/>
<rect x="54.4" y="279.4" width="0.6" height="0.6"/>
<rect x="58.6" y="293.7" width="0.6" height="0.6"/>
<rect x="62.1" y="278.3" width="0.6" height="0.6"/>
<rect x="69.3" y="297.4" width="0.6" height="0.6"/>
<rect x="78.7" y="283.7" width="0.6" height="0.6"/>
<rect x="64.0" y="278.4" width="0.6" height="0.6"/>
<rect x="75.2" y="274.4" width="0.6" height="0.6"/>
<rect x="66.2" y="289.6" width="0.6" height="0.6"/>
<rect x="60.9" y="262.7" width="0.6" height="0.6"/>
<rect x="61.9" y="276.4" width="0.6" height="0.6"/>
<rect x="58.1" y="278.6" width="0.6" height="0.6"/>
<rect x="73.7" y="270.8" width="0.6" height="0.6"/>
<rect x="56.0" y="282.4" width="0.6" height="0.6"/>
<rect x="74.6" y="276.5" width="0.6" height="0.6"/>
<rect x="71.5" y="292.6" width="0.6" height="0.6"/>
<rect x="60.2" y="281.7" width="0.6" height="0.6"/>
<rect x="74.0" y="285.3" width="0.6" height="0.6"/>
<rect x="61.2" y="282.3" width="0.6" height="0.6"/>
<rect x="64.2" y="284.1" width="0.6" height="0.6"/>
<rect x="69.0" y="284.7" width="0.6" height="0.6"/>
<rect x="61.2" y="283.4" width="0.6" height="0.6"/>
<rect x="69.1" y="281.7" width="0.6" height="0.6"/>
<rect x="80.6" y="279.3" width="0.6" height="0.6"/>
<rect x="46.6" y="293.8" width="0.6" height="0.6"/>
<rect x="62.3" y="286.4" width="0.6" height="0.6"/>
<rect x="64.2" y="291.6" width="0.6" height="0.6"/>
<rect x="61.6" y="288.2" width="0.6" height="0.6"/>
<rect x="80.0" y="288.6" width="0.6" height="0.6"/>
<rect x="59.1" y="298.2" width="0.6" height="0.6"/>
<rect x="76.1" y="283.3" width="0.6" height="0.6"/>
<rect x="53.9" y="285.5" width="0.6" height="0.6"/>
<rect x="65.6" y="287.4" width="0.6" height="0.6"/>
<rect x="67.6" y="297.0" width="0.6" height="0.6"/>
<rect x="67.9" y="280.0" width="0.6" height="0.6"/>
<rect x="62.8" y="286.0" width="0.6" height="0.6"/>
<rect x="70.8" y="272.6" width="0.6" height="0.6"/>
<rect x="57.5" y="291.4" width="0.6" height="0.6"/>
<rect x="64.4" y="292.5" width="0.6" height="0.6"/>
<rect x="64.7" y="277.7" width="0.6" height="0.6"/>
<rect x="70.4" y="285.7" width="0.6" height="0.6"/>
<rect x="90.2" y="297.1" width="0.6" height="0.6"/>
<rect x="65.5" y="285.6" width="0.6" height="0.6"/>
<rect x="71.1" y="287.8" width="0.6" height="0.6"/>
<rect x="72.8" y="282.7" width="0.6" height="0.6"/>
<rect x="62.9" y="269.6" width="0.6" height="0.6"/>
<rect x="63.4" y="292.5" width="0.6" height="0.6"/>
<rect x="68.0" y="286.0" width="0.6" height="0.6"/>
<rect x="54.6" y="265.3" width="0.6" height="0.6"/>
<rect x="71.6" y="276.4" width="0.6" height="0.6"/>
<rect x="61.2" y="265.9" width="0.6" height="0.6"/>
<rect x="79.1" y="295.7" width="0.6" height="0.6"/>
<rect x="50.6" y="278.4" width="0.6" height="0.6"/>
<rect x="64.1" y="287.0" width="0.6" height="0.6"/>
<rect x="73.9" y="282.7" width="0.6" height="0.6"/>
<rect x="65.2" y="288.1" width="0.6" height="0.6"/>
<rect x="51.0" y="282.0" width="0.6" height="0.6"/>
<rect x="65.9" y="285.8" width="0.6" height="0.6"/>
<rect x="57.1" y="277.3" width="0.6" height="0.6"/>
<rect x="55.8" y="281.8" width="0.6" height="0.6"/>
<rect x="56.9" y="304.7" width="0.6" height="0.6"/>
<rect x="60.4" y="294.2" width="0.6" height="0.6"/>
<rect x="60.6" y="279.5" width="0.6" height="0.6"/>
<rect x="74.0" y="280.7" width="0.6" height="0.6"/>
<rect x="85.3" y="287.2" width="0.6" height="0.6"/>
<rect x="50.7" y="294.9" width="0.6" height="0.6"/>
<rect x="58.7" y="283.3" width="0.6" height="0.6"/>
<rect x="59.0" y="278.9" width="0.6" height="0.6"/>
<rect x="62.6" y="289.5" width="0.6" height="0.6"/>
<rect x="57.9" y="279.8" width="0.6" height="0.6"/>
<rect x="86.1" y="301.0" width="0.6" height="0.6"/>
<rect x="76.3" y="283.2" width="0.6" height="0.6"/>
<rect x="60.9" y="283.8" width="0.6" height="0.6"/>
<rect x="54.3" y="293.0" width="0.6" height="0.6"/>
<rect x="59.4" y="264.2" width="0.6" height="0.6"/>
<rect x="75.2" y="296.3" width="0.6" height="0.6"/>
<rect x="74.1" y="288.8" width="0.6" height="0.6"/>
<rect x="70.4" y="296.8" width="0.6" height="0.6"/>
<rect x="77.9" y="269.5" width="0.6" height="0.6"/>
<rect x="71.2" y="282.4" width="0.6" height="0.6"/>
<rect x="80.6" y="280.6" width="0.6" height="0.6"/>
<rect x="62.7" y="268.6" width="0.6" height="0.6"/>
<rect x="66.6" y="285.9" width="0.6" height="0.6"/>
<rect x="78.8" y="281.5" width="0.6" height="0.6"/>
<rect x="74.5" y="301.9" width="0.6" height="0.6"/>
<rect x="55.6" y="292.5" width="0.6" height="0.6"/>
<rect x="65.9" y="268.3" width="0.6" height="0.6"/>
<rect x="58.9" y="283.5" width="0.6" height="0.6"/>
<rect x="56.1" y="289.0" width="0.6" height="0.6"/>
<rect x="59.1" y="292.7" width="0.6" height="0.6"/>
<rect x="62.9" y="294.0" width="0.6" height="0.6"/>
<rect x="76.1" y="291.3" width="0.6" height="0.6"/>
<rect x="76.7" y="308.3" width="0.6" height="0.6"/>
<rect x="74.9" y="268.7" width="0.6" height="0.6"/>
<rect x="62.2" y="291.7" width="0.6" height="0.6"/>
<rect x="75.4" y="278.1" width="0.6" height="0.6"/>
<rect x="70.8" y="283.9" width="0.6" height="0.6"/>
<rect x="63.9" y="279.2" width="0.6" height="0.6"/>
<rect x="66.5" y="294.3" width="0.6" height="0.6"/>
<rect x="50.7" y="292.8" width="0.6" height="0.6"/>
<rect x="68.2" y="268.9" width="0.6" height="0.6"/>
<rect x="68.8" y="281.9" width="0.6" height="0.6"/>
<rect x="57.8" y="288.3" width="0.6" height="0.6"/>
<rect x="63.6" y="293.8" width="0.6" height="0.6"/>
<rect x="78.5" y="287.2" width="0.6" height="0.6"/>
<rect x="70.0" y="274.9" width="0.6" height="0.6"/>
<rect x="66.0" y="293.7" width="0.6" height="0.6"/>
<rect x="83.8" y="267.4" width="0.6" height="0.6"/>
<rect x="68.6" y="283.0" width="0.6" height="0.6"/>
<rect x="85.9" y="286.5" width="0.6" height="0.6"/>
<rect x="85.3" y="264.8" width="0.6" height="0.6"/>
<rect x="62.7" y="285.5" width="0.6" height="0.6"/>
<rect x="66.0" y="268.6" width="0.6" height="0.6"/>
<rect x="76.0" y="280.6" width="0.6" height="0.6"/>
<rect x="81.6" y="296.4" width="0.6" height="0.6"/>
<rect x="70.7" y="278.5" width="0.6" height="0.6"/>
<rect x="65.0" y="285.0" width="0.6" height="0.6"/>
<rect x="91.1" y="293.0" width="0.6" height="0.6"/>
<rect x="57.1" y="288.2" width="0.6" height="0.6"/>
<rect x="77.3" y="279.9" width="0.6" height="0.6"/>
<rect x="68.4" y="280.0" width="0.6" height="0.6"/>
<rect x="83.4" y="289.9" width="0.6" height="0.6"/>
<rect x="88.6" y="277.7" width="0.6" height="0.6"/>
<rect x="80.3" y="277.2" width="0.6" height="0.6"/>
<rect x="89.4" y="284.8" width="0.6" height="0.6"/>
<rect x="66.7" y="292.7" width="0.6" height="0.6"/>
<rect x="97.7" y="270.3" width="0.6" height="0.6"/>
<rect x="98.7" y="288.4" width="0.6" height="0.6"/>
<rect x="79.4" y="265.9" width="0.6" height="0.6"/>
<rect x="67.1" y="276.4" width="0.6" height="0.6"/>
<rect x="88.3" y="283.2" width="0.6" height="0.6"/>
<rect x="82.2" y="285.2" width="0.6" height="0.6"/>
<rect x="84.9" y="281.6" width="0.6" height="0.6"/>
<rect x="93.8" y="266.0" width="0.6" height="0.6"/>
<rect x="70.6" y="281.0" width="0.6" height="0.6"/>
<rect x="71.3" y="294.8" width="0.6" height="0.6"/>
<rect x="75.6" y="268.6" width="0.6" height="0.6"/>
<rect x="74.7" y="280.4" width="0.6" height="0.6"/>
<rect x="71.7" y="278.7" width="0.6" height="0.6"/>
<rect x="74.8" y="289.9" width="0.6" height="0.6"/>
<rect x="78.6" y="286.9" width="0.6" height="0.6"/>
<rect x="79.4" y="294.1" width="0.6" height="0.6"/>
<rect x="80.8" y="286.6" width="0.6" height="0.6"/>
<rect x="91.4" y="295.2" width="0.6" height="0.6"/>
<rect x="92.9" y="278.1" width="0.6" height="0.6"/>
<rect x="66.7" y="306.3" width="0.6" height="0.6"/>
<rect x="66.2" y="278.5" width="0.6" height="0.6"/>
<rect x="65.8" y="286.5" width="0.6" height="0.6"/>
<rect x="80.0" y="265.1" width="0.6" height="0.6"/>
<rect x="91.7" y="280.0" width="0.6" height="0.6"/>
<rect x="92.0" y="292.3" width="0.6" height="0.6"/>
<rect x="80.6" y="292.7" width="0.6" height="0.6"/>
<rect x="72.3" y="284.6" width="0.6" height="0.6"/>
<rect x="78.6" y="285.5" width="0.6" height="0.6"/>
<rect x="86.0" y="285.8" width="0.6" height="0.6"/>
<rect x="76.0" y="289.7" width="0.6" height="0.6"/>
<rect x="76.7" y="291.0" width="0.6" height="0.6"/>
<rect x="71.8" y="274.7" width="0.6" height="0.6"/>
<rect x="103.3" y="273.8" width="0.6" height="0.6"/>
<rect x="88.7" y="297.7" width="0.6" height="0.6"/>
<rect x="87.7" y="287.8" width="0.6" height="0.6"/>
<rect x="79.4" y="283.9" width="0.6" height="0.6"/>
<rect x="72.1" y="288.6" width="0.6" height="0.6"/>
<rect x="87.6" y="273.6" width="0.6" height="0.6"/>
<rect x="58.9" y="309.4" width="0.6" height="0.6"/>
<rect x="78.8" y="275.7" width="0.6" height="0.6"/>
<rect x="69.8" y="290.8" width="0.6" height="0.6"/>
<rect x="93.6" y="276.8" width="0.6" height="0.6"/>
<rect x="77.0" y="289.0" width="0.6" height="0.6"/>
<rect x="75.5" y="287.0" width="0.6" height="0.6"/>
<rect x="84.6" y="290.3" width="0.6" height="0.6"/>
<rect x="90.8" y="285.5" width="0.6" height="0.6"/>
<rect x="74.4" y="273.5" width="0.6" height="0.6"/>
<rect x="79.8" y="276.3" width="0.6" height="0.6"/>
<rect x="76.2" y="282.7" width="0.6" height="0.6"/>
<rect x="79.5" y="291.8" width="0.6" height="0.6"/>
<rect x="83.7" y="285.1" width="0.6" height="0.6"/>
<rect x="96.8" y="284.8" width="0.6" height="0.6"/>
<rect x="98.6" y="284.2" width="0.6" height="0.6"/>
<rect x="84.4" y="276.2" width="0.6" height="0.6"/>
<rect x="81.4" y="277.0" width="0.6" height="0.6"/>
<rect x="94.7" y="251.8" width="0.6" height="0.6"/>
<rect x="94.7" y="253.9" width="0.6" height="0.6"/>
<rect x="75.4" y="234.1" width="0.6" height="0.6"/>
<rect x="82.6" y="246.5" width="0.6" height="0.6"/>
<rect x="79.9" y="252.6" width="0.6" height="0.6"/>
<rect x="84.4" y="248.5" width="0.6" height="0.6"/>
<rect x="86.0" y="245.6" width="0.6" height="0.6"/>
<rect x="76.2" y="247.0" width="0.6" height="0.6"/>
<rect x="91.9" y="254.8" width="0.6" height="0.6"/>
<rect x="80.7" y="253.4" width="0.6" height="0.6"/>
<rect x="88.6" y="243.1" width="0.6" height="0.6"/>
<rect x="98.7" y="248.0" width="0.6" height="0.6"/>
<rect x="74.9" y="251.1" width="0.6" height="0.6"/>
<rect x="85.1" y="259.8" width="0.6" height="0.6"/>
<rect x="93.8" y="247.6" width="0.6" height="0.6"/>
<rect x="79.3" y="248.3" width="0.6" height="0.6"/>
<rect x="81.0" y="243.7" width="0.6" height="0.6"/>
<rect x="82.7" y="259.2" width="0.6" height="0.6"/>
<rect x="90.9" y="248.3" width="0.6" height="0.6"/>
<rect x="73.6" y="255.1" width="0.6" height="0.6"/>
<rect x="93.4" y="240.6" width="0.6" height="0.6"/>
<rect x="87.8" y="262.7" width="0.6" height="0.6"/>
<rect x="92.4" y="255.0" width="0.6" height="0.6"/>
<rect x="83.1" y="246.3" width="0.6" height="0.6"/>
<rect x="86.2" y="259.1" width="0.6" height="0.6"/>
<rect x="89.4" y="256.3" width="0.6" height="0.6"/>
<rect x="82.7" y="248.9" width="0.6" height="0.6"/>
<rect x="94.9" y="251.2" width="0.6" height="0.6"/>
<rect x="91.0" y="247.2" width="0.6" height="0.6"/>
<rect x="75.1" y="251.5" width="0.6" height="0.6"/>
<rect x="76.5" y="252.8" width="0.6" height="0.6"/>
<rect x="81.2" y="241.9" width="0.6" height="0.6"/>
<rect x="82.9" y="253.6" width="0.6" height="0.6"/>
<rect x="94.2" y="237.3" width="0.6" height="0.6"/>
<rect x="83.4" y="245.7" width="0.6" height="0.6"/>
<rect x="101.0" y="253.1" width="0.6" height="0.6"/>
<rect x="74.7" y="255.1" width="0.6" height="0.6"/>
<rect x="90.1" y="257.4" width="0.6" height="0.6"/>
<rect x="91.7" y="247.0" width="0.6" height="0.6"/>
<rect x="73.1" y="252.1" width="0.6" height="0.6"/>
<rect x="82.6" y="247.3" width="0.6" height="0.6"/>
<rect x="69.0" y="254.7" width="0.6" height="0.6"/>
<rect x="87.6" y="258.7" width="0.6" height="0.6"/>
<rect x="86.5" y="248.9" width="0.6" height="0.6"/>
<rect x="75.7" y="247.8" width="0.6" height="0.6"/>
<rect x="75.8" y="248.7" width="0.6" height="0.6"/>
<rect x="76.7" y="257.4" width="0.6" height="0.6"/>
<rect x="81.8" y="253.1" width="0.6" height="0.6"/>
<rect x="83.1" y="247.9" width="0.6" height="0.6"/>
<rect x="67.2" y="247.3" width="0.6" height="0.6"/>
<rect x="79.5" y="257.7" width="0.6" height="0.6"/>
<rect x="73.8" y="255.1" width="0.6" height="0.6"/>
<rect x="88.2" y="249.7" width="0.6" height="0.6"/>
<rect x="82.4" y="256.3" width="0.6" height="0.6"/>
<rect x="85.0" y="266.5" width="0.6" height="0.6"/>
<rect x="64.0" y="243.6" width="0.6" height="0.6"/>
<rect x="98.9" y="253.1" width="0.6" height="0.6"/>
<rect x="67.4" y="234.3" width="0.6" height="0.6"/>
<rect x="71.9" y="239.5" width="0.6" height="0.6"/>
<rect x="67.7" y="245.8" width="0.6" height="0.6"/>
<rect x="80.9" y="242.0" width="0.6" height="0.6"/>
<rect x="81.9" y="246.5" width="0.6" height="0.6"/>
<rect x="89.6" y="240.7" width="0.6" height="0.6"/>
<rect x="82.3" y="251.0" width="0.6" height="0.6"/>
<rect x="89.4" y="241.7" width="0.6" height="0.6"/>
<rect x="82.8" y="241.0" width="0.6" height="0.6"/>
<rect x="88.8" y="253.4" width="0.6" height="0.6"/>
<rect x="92.1" y="248.1" width="0.6" height="0.6"/>
<rect x="96.5" y="246.5" width="0.6" height="0.6"/>
<rect x="69.6" y="244.7" width="0.6" height="0.6"/>
<rect x="82.3" y="257.5" width="0.6" height="0.6"/>
<rect x="78.7" y="245.9" width="0.6" height="0.6"/>
<rect x="87.7" y="241.0" width="0.6" height="0.6"/>
<rect x="90.3" y="253.4" width="0.6" height="0.6"/>
<rect x="74.7" y="249.4" width="0.6" height="0.6"/>
<rect x="77.5" y="243.7" width="0.6" height="0.6"/>
<rect x="85.2" y="247.7" width="0.6" height="0.6"/>
<rect x="90.1" y="250.3" width="0.6" height="0.6"/>
<rect x="70.0" y="251.4" width="0.6" height="0.6"/>
<rect x="88.6" y="252.2" width="0.6" height="0.6"/>
<rect x="71.6" y="245.6" width="0.6" height="0.6"/>
<rect x="72.8" y="248.1" width="0.6" height="0.6"/>
<rect x="77.0" y="256.1" width="0.6" height="0.6"/>
<rect x="85.8" y="267.5" width="0.6" height="0.6"/>
<rect x="87.1" y="239.7" width="0.6" height="0.6"/>
<rect x="81.2" y="262.4" width="0.6" height="0.6"/>
<rect x="80.0" y="250.8" width="0.6" height="0.6"/>
<rect x="90.2" y="259.7" width="0.6" height="0.6"/>
<rect x="92.0" y="249.3" width="0.6" height="0.6"/>
<rect x="73.8" y="246.2" width="0.6" height="0.6"/>
<rect x="87.6" y="239.0" width="0.6" height="0.6"/>
<rect x="84.0" y="260.8" width="0.6" height="0.6"/>
<rect x="73.5" y="255.1" width="0.6" height="0.6"/>
<rect x="76.6" y="244.7" width="0.6" height="0.6"/>
<rect x="86.3" y="254.4" width="0.6" height="0.6"/>
<rect x="82.2" y="253.1" width="0.6" height="0.6"/>
<rect x="88.4" y="262.1" width="0.6" height="0.6"/>
<rect x="75.6" y="243.3" width="0.6" height="0.6"/>
<rect x="96.6" y="255.7" width="0.6" height="0.6"/>
<rect x="77.6" y="254.3" width="0.6" height="0.6"/>
<rect x="95.9" y="247.5" width="0.6" height="0.6"/>
<rect x="85.9" y="256.2" width="0.6" height="0.6"/>
<rect x="78.1" y="242.5" width="0.6" height="0.6"/>
<rect x="89.5" y="250.0" width="0.6" height="0.6"/>
<rect x="84.6" y="244.7" width="0.6" height="0.6"/>
<rect x="88.0" y="256.7" width="0.6" height="0.6"/>
<rect x="83.5" y="250.4" width="0.6" height="0.6"/>
<rect x="75.8" y="245.8" width="0.6" height="0.6"/>
<rect x="72.9" y="250.5" width="0.6" height="0.6"/>
<rect x="67.1" y="251.0" width="0.6" height="0.6"/>
<rect x="58.7" y="254.5" width="0.6" height="0.6"/>
<rect x="69.9" y="266.8" width="0.6" height="0.6"/>
<rect x="55.6" y="257.1" width="0.6" height="0.6"/>
<rect x="73.9" y="249.7" width="0.6" height="0.6"/>
<rect x="63.6" y="262.9" width="0.6" height="0.6"/>
<rect x="67.2" y="249.3" width="0.6" height="0.6"/>
<rect x="59.6" y="251.9" width="0.6" height="0.6"/>
<rect x="65.8" y="257.6" width="0.6" height="0.6"/>
<rect x="71.0" y="249.4" width="0.6" height="0.6"/>
<rect x="68.9" y="259.2" width="0.6" height="0.6"/>
<rect x="64.3" y="261.9" width="0.6" height="0.6"/>
<rect x="65.6" y="259.7" width="0.6" height="0.6"/>
<rect x="62.5" y="249.4" width="0.6" height="0.6"/>
<rect x="63.0" y="269.9" width="0.6" height="0.6"/>
<rect x="68.5" y="258.3" width="0.6" height="0.6"/>
<rect x="61.6" y="257.5" width="0.6" height="0.6"/>
<rect x="59.2" y="258.7" width="0.6" height="0.6"/>
<rect x="65.8" y="251.8" width="0.6" height="0.6"/>
<rect x="68.9" y="246.2" width="0.6" height="0.6"/>
<rect x="58.6" y="261.5" width="0.6" height="0.6"/>
<rect x="59.7" y="245.1" width="0.6" height="0.6"/>
<rect x="73.0" y="260.9" width="0.6" height="0.6"/>
<rect x="68.8" y="256.1" width="0.6" height="0.6"/>
<rect x="59.5" y="259.5" width="0.6" height="0.6"/>
<rect x="65.9" y="250.6" width="0.6" height="0.6"/>
<rect x="67.0" y="259.5" width="0.6" height="0.6"/>
<rect x="66.0" y="262.5" width="0.6" height="0.6"/>
<rect x="69.1" y="247.3" width="0.6" height="0.6"/>
<rect x="68.9" y="253.0" width="0.6" height="0.6"/>
<rect x="75.1" y="233.5" width="0.6" height="0.6"/>
<rect x="64.3" y="260.6" width="0.6" height="0.6"/>
<rect x="72.3" y="248.3" width="0.6" height="0.6"/>
<rect x="66.2" y="259.5" width="0.6" height="0.6"/>
<rect x="62.8" y="261.4" width="0.6" height="0.6"/>
<rect x="62.1" y="250.3" width="0.6" height="0.6"/>
<rect x="73.1" y="250.0" width="0.6" height="0.6"/>
<rect x="64.1" y="273.2" width="0.6" height="0.6"/>
<rect x="73.6" y="253.3" width="0.6" height="0.6"/>
<rect x="68.2" y="250.5" width="0.6" height="0.6"/>
<rect x="88.8" y="281.7" width="0.6" height="0.6"/>
<rect x="99.7" y="289.1" width="0.6" height="0.6"/>
<rect x="90.5" y="267.6" width="0.6" height="0.6"/>
<rect x="102.5" y="279.8" width="0.6" height="0.6"/>
<rect x="99.7" y="291.2" width="0.6" height="0.6"/>
<rect x="102.5" y="280.6" width="0.6" height="0.6"/>
<rect x="89.4" y="280.2" width="0.6" height="0.6"/>
<rect x="97.4" y="287.2" width="0.6" height="0.6"/>
<rect x="88.6" y="288.8" width="0.6" height="0.6"/>
<rect x="89.9" y="284.8" width="0.6" height="0.6"/>
<rect x="93.6" y="288.8" width="0.6" height="0.6"/>
<rect x="110.0" y="280.0" width="0.6" height="0.6"/>
<rect x="86.8" y="276.0" width="0.6" height="0.6"/>
<rect x="95.1" y="286.6" width="0.6" height="0.6"/>
<rect x="98.5" y="277.5" width="0.6" height="0.6"/>
<rect x="87.7" y="284.4" width="0.6" height="0.6"/>
<rect x="103.6" y="292.2" width="0.6" height="0.6"/>
<rect x="101.2" y="289.5" width="0.6" height="0.6"/>
<rect x="101.3" y="281.0" width="0.6" height="0.6"/>
<rect x="102.0" y="291.1" width="0.6" height="0.6"/>
<rect x="100.1" y="281.8" width="0.6" height="0.6"/>
<rect x="92.8" y="280.7" width="0.6" height="0.6"/>
<rect x="103.4" y="274.4" width="0.6" height="0.6"/>
<rect x="92.6" y="286.9" width="0.6" height="0.6"/>
<rect x="87.3" y="286.5" width="0.6" height="0.6"/>
</g>
<g>
<path d="M60 271.5 L74.5 269.8 L80 270.5 L86 272.5 L90 276 L91 281 L90 287 L86 292 L80 294.5 L74.5 295.8 L71 297.8 L66 299.8 L62 299.6 L58 295.5 L55.3 289 L55 283 L57 277 Z" fill="#e2e2e2" stroke="#8a8a8a" stroke-width="0.5" filter="url(#soft)"/>
<g fill="none" stroke="#707070" stroke-width="0.5"><ellipse cx="82.5" cy="282.5" rx="7.6" ry="10"/><ellipse cx="81.8" cy="282.5" rx="5.8" ry="8"/><ellipse cx="81.2" cy="282.5" rx="4.2" ry="6.2"/><ellipse cx="80.8" cy="282.5" rx="2.8" ry="4.4"/><ellipse cx="80.4" cy="282.5" rx="1.5" ry="2.6"/></g>
<g filter="url(#soft)"><path d="M60.50 272.20 C63.32 271.13 72.05 269.10 74.50 270.40 C76.95 271.70 75.20 276.23 75.20 280.00 C75.20 283.77 75.28 290.07 74.50 293.00 C73.72 295.93 72.08 296.53 70.50 297.60 C68.92 298.67 66.50 299.23 65.00 299.40 C63.50 299.57 62.70 299.42 61.50 298.60 C60.30 297.78 58.75 296.18 57.80 294.50 C56.85 292.82 56.13 290.50 55.80 288.50 C55.47 286.50 55.50 284.45 55.80 282.50 C56.10 280.55 56.82 278.52 57.60 276.80 C58.38 275.08 57.68 273.27 60.50 272.20Z" fill="#d8d8d8" stroke="#6e6e6e" stroke-width="0.35"/><path d="M61.32 273.44 C63.82 272.50 71.57 270.69 73.74 271.85 C75.92 273.00 74.36 277.02 74.36 280.36 C74.36 283.70 74.44 289.29 73.74 291.89 C73.05 294.49 71.60 295.03 70.19 295.97 C68.79 296.92 66.65 297.42 65.32 297.57 C63.99 297.72 63.28 297.58 62.21 296.86 C61.15 296.14 59.77 294.72 58.93 293.22 C58.09 291.73 57.45 289.68 57.16 287.90 C56.86 286.13 56.89 284.31 57.16 282.58 C57.42 280.85 58.06 279.05 58.75 277.52 C59.45 276.00 58.83 274.39 61.32 273.44Z" fill="#cacaca" stroke="#6e6e6e" stroke-width="0.35"/><path d="M62.15 274.69 C64.33 273.86 71.09 272.29 72.99 273.29 C74.88 274.30 73.53 277.81 73.53 280.72 C73.53 283.64 73.59 288.51 72.99 290.79 C72.38 293.06 71.12 293.52 69.89 294.35 C68.66 295.17 66.79 295.61 65.63 295.74 C64.47 295.87 63.85 295.75 62.92 295.12 C61.99 294.49 60.80 293.25 60.06 291.95 C59.32 290.64 58.77 288.85 58.51 287.30 C58.25 285.75 58.28 284.17 58.51 282.66 C58.74 281.15 59.30 279.58 59.91 278.25 C60.51 276.92 59.97 275.51 62.15 274.69Z" fill="#bababa" stroke="#6e6e6e" stroke-width="0.35"/><path d="M62.97 275.93 C64.84 275.22 70.61 273.88 72.23 274.74 C73.85 275.60 72.69 278.60 72.69 281.08 C72.69 283.57 72.75 287.74 72.23 289.68 C71.71 291.62 70.63 292.01 69.58 292.72 C68.54 293.42 66.94 293.80 65.95 293.91 C64.96 294.02 64.43 293.92 63.64 293.38 C62.84 292.84 61.82 291.78 61.19 290.67 C60.56 289.56 60.09 288.03 59.87 286.70 C59.65 285.38 59.67 284.03 59.87 282.74 C60.07 281.45 60.54 280.10 61.06 278.97 C61.58 277.83 61.11 276.63 62.97 275.93Z" fill="#a8a8a8" stroke="#6e6e6e" stroke-width="0.35"/><path d="M63.80 277.17 C65.34 276.59 70.13 275.47 71.47 276.19 C72.81 276.90 71.86 279.38 71.86 281.45 C71.86 283.51 71.90 286.96 71.47 288.57 C71.04 290.18 70.15 290.51 69.28 291.09 C68.41 291.68 67.09 291.99 66.27 292.08 C65.44 292.17 65.01 292.09 64.35 291.64 C63.69 291.19 62.84 290.31 62.32 289.39 C61.80 288.47 61.41 287.20 61.22 286.10 C61.04 285.01 61.06 283.88 61.22 282.82 C61.39 281.75 61.78 280.63 62.21 279.69 C62.64 278.75 62.26 277.76 63.80 277.17Z" fill="#949494" stroke="#6e6e6e" stroke-width="0.35"/><path d="M64.62 278.41 C65.85 277.95 69.65 277.07 70.71 277.63 C71.78 278.20 71.02 280.17 71.02 281.81 C71.02 283.45 71.06 286.19 70.71 287.46 C70.37 288.74 69.66 289.00 68.97 289.46 C68.29 289.93 67.23 290.17 66.58 290.25 C65.93 290.32 65.58 290.25 65.06 289.90 C64.54 289.54 63.86 288.85 63.45 288.12 C63.04 287.38 62.72 286.38 62.58 285.51 C62.44 284.64 62.45 283.74 62.58 282.90 C62.71 282.05 63.02 281.16 63.36 280.42 C63.70 279.67 63.40 278.88 64.62 278.41Z" fill="#7c7c7c" stroke="#6e6e6e" stroke-width="0.35"/><path d="M65.45 279.66 C66.36 279.31 69.17 278.66 69.96 279.08 C70.75 279.50 70.18 280.96 70.18 282.17 C70.18 283.38 70.21 285.41 69.96 286.36 C69.71 287.30 69.18 287.49 68.67 287.84 C68.16 288.18 67.38 288.36 66.90 288.42 C66.42 288.47 66.16 288.42 65.77 288.16 C65.39 287.90 64.89 287.38 64.58 286.84 C64.27 286.30 64.04 285.55 63.94 284.91 C63.83 284.26 63.84 283.60 63.94 282.97 C64.03 282.35 64.26 281.69 64.52 281.14 C64.77 280.59 64.54 280.00 65.45 279.66Z" fill="#606060" stroke="#6e6e6e" stroke-width="0.35"/><path d="M66.27 280.90 C66.86 280.68 68.69 280.25 69.20 280.52 C69.71 280.80 69.35 281.74 69.35 282.53 C69.35 283.32 69.36 284.64 69.20 285.25 C69.04 285.86 68.70 285.99 68.36 286.21 C68.03 286.43 67.53 286.55 67.21 286.59 C66.90 286.62 66.73 286.59 66.48 286.42 C66.23 286.25 65.91 285.91 65.71 285.56 C65.51 285.21 65.36 284.73 65.29 284.31 C65.22 283.89 65.23 283.46 65.29 283.05 C65.35 282.65 65.50 282.22 65.67 281.86 C65.83 281.50 65.69 281.12 66.27 280.90Z" fill="#404040" stroke="#6e6e6e" stroke-width="0.35"/></g>
<ellipse cx="67.6" cy="283.4" rx="1.2" ry="0.6" fill="#ddd" transform="rotate(-50 67.6 283.4)"/>
<g fill="none" stroke="#707070" stroke-width="0.5">
<path d="M57.7 254 Q57.7 246.4 65 246.4 Q72.6 246.4 72.6 254 Q72.6 260 70 263 L68 268.7 M63 268.7 L61.5 263 Q57.7 260 57.7 254"/>
<ellipse cx="65.9" cy="254" rx="5.4" ry="6.2"/><ellipse cx="65.9" cy="253.6" rx="3.2" ry="3.6"/>
<ellipse cx="81.5" cy="245.8" rx="8.6" ry="4.8"/><ellipse cx="81.3" cy="245.6" rx="5.8" ry="3.3"/><ellipse cx="81.2" cy="245.5" rx="3.1" ry="1.8"/>
<ellipse cx="69.7" cy="245.3" rx="3" ry="2"/>
</g></g>
<rect x="41.3" y="231.4" width="84.0" height="84.4" fill="none" stroke="#231f20" stroke-width="1.1"/>
<line x1="74.5" y1="231.4" x2="74.5" y2="315.8" stroke="#333" stroke-width="0.9"/>
<line x1="41.3" y1="268.8" x2="125.3" y2="268.8" stroke="#333" stroke-width="0.9"/>
<line x1="38.5" y1="241.4" x2="41.3" y2="241.4" stroke="#231f20" stroke-width="1"/>
<line x1="38.5" y1="266.9" x2="41.3" y2="266.9" stroke="#231f20" stroke-width="1"/>
<line x1="38.5" y1="293.2" x2="41.3" y2="293.2" stroke="#231f20" stroke-width="1"/>
<line x1="38.5" y1="302.8" x2="41.3" y2="302.8" stroke="#231f20" stroke-width="1"/>
<line x1="38.5" y1="312.4" x2="41.3" y2="312.4" stroke="#231f20" stroke-width="1"/>
<line x1="39.699999999999996" y1="258.98" x2="41.3" y2="258.98" stroke="#231f20" stroke-width="0.6"/>
<line x1="39.699999999999996" y1="254.35" x2="41.3" y2="254.35" stroke="#231f20" stroke-width="0.6"/>
<line x1="39.699999999999996" y1="251.07" x2="41.3" y2="251.07" stroke="#231f20" stroke-width="0.6"/>
<line x1="39.699999999999996" y1="248.52" x2="41.3" y2="248.52" stroke="#231f20" stroke-width="0.6"/>
<line x1="39.699999999999996" y1="246.43" x2="41.3" y2="246.43" stroke="#231f20" stroke-width="0.6"/>
<line x1="39.699999999999996" y1="244.67" x2="41.3" y2="244.67" stroke="#231f20" stroke-width="0.6"/>
<line x1="39.699999999999996" y1="243.15" x2="41.3" y2="243.15" stroke="#231f20" stroke-width="0.6"/>
<line x1="39.699999999999996" y1="241.8" x2="41.3" y2="241.8" stroke="#231f20" stroke-width="0.6"/>
<line x1="39.699999999999996" y1="285.28" x2="41.3" y2="285.28" stroke="#231f20" stroke-width="0.6"/>
<line x1="39.699999999999996" y1="280.65" x2="41.3" y2="280.65" stroke="#231f20" stroke-width="0.6"/>
<line x1="39.699999999999996" y1="277.37" x2="41.3" y2="277.37" stroke="#231f20" stroke-width="0.6"/>
<line x1="39.699999999999996" y1="274.82" x2="41.3" y2="274.82" stroke="#231f20" stroke-width="0.6"/>
<line x1="39.699999999999996" y1="272.73" x2="41.3" y2="272.73" stroke="#231f20" stroke-width="0.6"/>
<line x1="39.699999999999996" y1="270.97" x2="41.3" y2="270.97" stroke="#231f20" stroke-width="0.6"/>
<line x1="39.699999999999996" y1="269.45" x2="41.3" y2="269.45" stroke="#231f20" stroke-width="0.6"/>
<line x1="39.699999999999996" y1="268.1" x2="41.3" y2="268.1" stroke="#231f20" stroke-width="0.6"/>
<line x1="39.699999999999996" y1="233.48" x2="41.3" y2="233.48" stroke="#231f20" stroke-width="0.6"/>
<line x1="39.5" y1="295.2" x2="41.3" y2="295.2" stroke="#231f20" stroke-width="0.8"/>
<line x1="39.5" y1="296.8" x2="41.3" y2="296.8" stroke="#231f20" stroke-width="0.8"/>
<line x1="39.5" y1="298.2" x2="41.3" y2="298.2" stroke="#231f20" stroke-width="0.8"/>
<line x1="39.5" y1="299.6" x2="41.3" y2="299.6" stroke="#231f20" stroke-width="0.8"/>
<line x1="39.5" y1="300.8" x2="41.3" y2="300.8" stroke="#231f20" stroke-width="0.8"/>
<line x1="39.5" y1="301.8" x2="41.3" y2="301.8" stroke="#231f20" stroke-width="0.8"/>
<line x1="39.5" y1="303.8" x2="41.3" y2="303.8" stroke="#231f20" stroke-width="0.8"/>
<line x1="39.5" y1="305.0" x2="41.3" y2="305.0" stroke="#231f20" stroke-width="0.8"/>
<line x1="39.5" y1="306.4" x2="41.3" y2="306.4" stroke="#231f20" stroke-width="0.8"/>
<line x1="39.5" y1="308" x2="41.3" y2="308" stroke="#231f20" stroke-width="0.8"/>
<line x1="39.5" y1="309.8" x2="41.3" y2="309.8" stroke="#231f20" stroke-width="0.8"/>
<line x1="53.8" y1="315.8" x2="53.8" y2="318.40000000000003" stroke="#231f20" stroke-width="1"/>
<line x1="90.3" y1="315.8" x2="90.3" y2="318.40000000000003" stroke="#231f20" stroke-width="1"/>
<line x1="115.3" y1="315.8" x2="115.3" y2="318.40000000000003" stroke="#231f20" stroke-width="1"/>
<line x1="42.8" y1="315.8" x2="42.8" y2="317.3" stroke="#231f20" stroke-width="0.6"/>
<line x1="45.6" y1="315.8" x2="45.6" y2="317.3" stroke="#231f20" stroke-width="0.6"/>
<line x1="48.4" y1="315.8" x2="48.4" y2="317.3" stroke="#231f20" stroke-width="0.6"/>
<line x1="51.2" y1="315.8" x2="51.2" y2="317.3" stroke="#231f20" stroke-width="0.6"/>
<line x1="54.0" y1="315.8" x2="54.0" y2="317.3" stroke="#231f20" stroke-width="0.6"/>
<line x1="56.8" y1="315.8" x2="56.8" y2="317.3" stroke="#231f20" stroke-width="0.6"/>
<line x1="59.6" y1="315.8" x2="59.6" y2="317.3" stroke="#231f20" stroke-width="0.6"/>
<line x1="62.4" y1="315.8" x2="62.4" y2="317.3" stroke="#231f20" stroke-width="0.6"/>
<line x1="65.2" y1="315.8" x2="65.2" y2="317.3" stroke="#231f20" stroke-width="0.6"/>
<line x1="68.0" y1="315.8" x2="68.0" y2="317.3" stroke="#231f20" stroke-width="0.6"/>
<line x1="70.8" y1="315.8" x2="70.8" y2="317.3" stroke="#231f20" stroke-width="0.6"/>
<line x1="73.6" y1="315.8" x2="73.6" y2="317.3" stroke="#231f20" stroke-width="0.6"/>
<line x1="76.4" y1="315.8" x2="76.4" y2="317.3" stroke="#231f20" stroke-width="0.6"/>
<line x1="79.2" y1="315.8" x2="79.2" y2="317.3" stroke="#231f20" stroke-width="0.6"/>
<line x1="82.0" y1="315.8" x2="82.0" y2="317.3" stroke="#231f20" stroke-width="0.6"/>
<line x1="84.8" y1="315.8" x2="84.8" y2="317.3" stroke="#231f20" stroke-width="0.6"/>
<line x1="87.6" y1="315.8" x2="87.6" y2="317.3" stroke="#231f20" stroke-width="0.6"/>
<line x1="90.4" y1="315.8" x2="90.4" y2="317.3" stroke="#231f20" stroke-width="0.6"/>
<line x1="93.2" y1="315.8" x2="93.2" y2="317.3" stroke="#231f20" stroke-width="0.6"/>
<line x1="96.0" y1="315.8" x2="96.0" y2="317.3" stroke="#231f20" stroke-width="0.6"/>
<line x1="98.8" y1="315.8" x2="98.8" y2="317.3" stroke="#231f20" stroke-width="0.6"/>
<line x1="101.6" y1="315.8" x2="101.6" y2="317.3" stroke="#231f20" stroke-width="0.6"/>
<line x1="104.4" y1="315.8" x2="104.4" y2="317.3" stroke="#231f20" stroke-width="0.6"/>
<line x1="107.2" y1="315.8" x2="107.2" y2="317.3" stroke="#231f20" stroke-width="0.6"/>
<line x1="110.0" y1="315.8" x2="110.0" y2="317.3" stroke="#231f20" stroke-width="0.6"/>
<line x1="112.8" y1="315.8" x2="112.8" y2="317.3" stroke="#231f20" stroke-width="0.6"/>
<line x1="115.6" y1="315.8" x2="115.6" y2="317.3" stroke="#231f20" stroke-width="0.6"/>
<line x1="118.4" y1="315.8" x2="118.4" y2="317.3" stroke="#231f20" stroke-width="0.6"/>
<line x1="121.2" y1="315.8" x2="121.2" y2="317.3" stroke="#231f20" stroke-width="0.6"/>
<line x1="124.0" y1="315.8" x2="124.0" y2="317.3" stroke="#231f20" stroke-width="0.6"/>
<text x="44.099999999999994" y="243.4" font-size="8.85" text-anchor="start" fill="#222" stroke="#222" textLength="13.2" lengthAdjust="spacingAndGlyphs">2.87</text>
<text x="102.4" y="243.4" font-size="8.85" text-anchor="start" fill="#222" stroke="#222" textLength="12.8" lengthAdjust="spacingAndGlyphs">1.93</text>
<text x="44.099999999999994" y="308.2" font-size="8.85" text-anchor="start" fill="#222" stroke="#222" textLength="13.2" lengthAdjust="spacingAndGlyphs">86.8</text>
<text x="102.4" y="308.2" font-size="8.85" text-anchor="start" fill="#222" stroke="#222" textLength="13.2" lengthAdjust="spacingAndGlyphs">8.37</text>
<line x1="44.8" y1="315.8" x2="44.8" y2="318.2" stroke="#231f20" stroke-width="0.9"/>
<line x1="47.3" y1="315.8" x2="47.3" y2="318.2" stroke="#231f20" stroke-width="0.9"/>
<line x1="49.8" y1="315.8" x2="49.8" y2="318.2" stroke="#231f20" stroke-width="0.9"/>
<line x1="51.6" y1="315.8" x2="51.6" y2="318.2" stroke="#231f20" stroke-width="0.9"/>
<line x1="52.9" y1="315.8" x2="52.9" y2="318.2" stroke="#231f20" stroke-width="0.9"/>
<line x1="53.9" y1="315.8" x2="53.9" y2="318.2" stroke="#231f20" stroke-width="0.9"/>
<text x="35.699999999999996" y="244.4" font-size="8.4" text-anchor="end" fill="#222" stroke="#222" textLength="10.6" lengthAdjust="spacingAndGlyphs">10<tspan font-size="5.8" dy="-3.6">4</tspan></text>
<text x="35.699999999999996" y="270.3" font-size="8.4" text-anchor="end" fill="#222" stroke="#222" textLength="10.6" lengthAdjust="spacingAndGlyphs">10<tspan font-size="5.8" dy="-3.6">3</tspan></text>
<text x="35.699999999999996" y="296.0" font-size="8.4" text-anchor="end" fill="#222" stroke="#222" textLength="10.6" lengthAdjust="spacingAndGlyphs">10<tspan font-size="5.8" dy="-3.6">2</tspan></text>
<text x="35.39999999999999" y="305.2" font-size="9.41" text-anchor="end" fill="#222" stroke="#222" textLength="3.8" lengthAdjust="spacingAndGlyphs">0</text>
<text x="35.699999999999996" y="315.0" font-size="8.4" text-anchor="end" fill="#222" stroke="#222" textLength="13.4" lengthAdjust="spacingAndGlyphs">-10<tspan font-size="5.8" dy="-3.6">2</tspan></text>
<g fill="#8a8a8a">
<rect x="188.6" y="291.2" width="0.6" height="0.6"/>
<rect x="166.7" y="285.2" width="0.6" height="0.6"/>
<rect x="168.5" y="259.9" width="0.6" height="0.6"/>
<rect x="186.4" y="291.4" width="0.6" height="0.6"/>
<rect x="164.9" y="295.8" width="0.6" height="0.6"/>
<rect x="186.5" y="307.8" width="0.6" height="0.6"/>
<rect x="182.8" y="300.9" width="0.6" height="0.6"/>
<rect x="175.2" y="282.9" width="0.6" height="0.6"/>
<rect x="197.2" y="293.3" width="0.6" height="0.6"/>
<rect x="194.8" y="283.2" width="0.6" height="0.6"/>
<rect x="177.8" y="293.3" width="0.6" height="0.6"/>
<rect x="171.1" y="292.4" width="0.6" height="0.6"/>
<rect x="164.6" y="265.5" width="0.6" height="0.6"/>
<rect x="173.9" y="291.2" width="0.6" height="0.6"/>
<rect x="198.5" y="283.8" width="0.6" height="0.6"/>
<rect x="179.9" y="283.1" width="0.6" height="0.6"/>
<rect x="181.2" y="297.6" width="0.6" height="0.6"/>
<rect x="184.1" y="289.3" width="0.6" height="0.6"/>
<rect x="182.1" y="282.9" width="0.6" height="0.6"/>
<rect x="185.8" y="304.0" width="0.6" height="0.6"/>
<rect x="167.6" y="305.7" width="0.6" height="0.6"/>
<rect x="155.9" y="268.4" width="0.6" height="0.6"/>
<rect x="184.5" y="280.6" width="0.6" height="0.6"/>
<rect x="200.4" y="291.0" width="0.6" height="0.6"/>
<rect x="162.9" y="285.6" width="0.6" height="0.6"/>
<rect x="182.3" y="296.3" width="0.6" height="0.6"/>
<rect x="172.3" y="269.9" width="0.6" height="0.6"/>
<rect x="165.1" y="294.6" width="0.6" height="0.6"/>
<rect x="190.2" y="267.9" width="0.6" height="0.6"/>
<rect x="181.9" y="278.6" width="0.6" height="0.6"/>
<rect x="179.8" y="292.8" width="0.6" height="0.6"/>
<rect x="175.8" y="284.4" width="0.6" height="0.6"/>
<rect x="159.1" y="285.2" width="0.6" height="0.6"/>
<rect x="193.4" y="279.3" width="0.6" height="0.6"/>
<rect x="182.3" y="290.1" width="0.6" height="0.6"/>
<rect x="202.3" y="276.9" width="0.6" height="0.6"/>
<rect x="186.8" y="282.7" width="0.6" height="0.6"/>
<rect x="178.0" y="285.4" width="0.6" height="0.6"/>
<rect x="161.5" y="291.7" width="0.6" height="0.6"/>
<rect x="171.4" y="287.3" width="0.6" height="0.6"/>
<rect x="186.9" y="283.4" width="0.6" height="0.6"/>
<rect x="163.4" y="274.9" width="0.6" height="0.6"/>
<rect x="184.8" y="297.7" width="0.6" height="0.6"/>
<rect x="196.5" y="273.3" width="0.6" height="0.6"/>
<rect x="180.1" y="286.5" width="0.6" height="0.6"/>
<rect x="171.5" y="283.4" width="0.6" height="0.6"/>
<rect x="168.8" y="286.7" width="0.6" height="0.6"/>
<rect x="173.9" y="282.7" width="0.6" height="0.6"/>
<rect x="192.0" y="275.3" width="0.6" height="0.6"/>
<rect x="179.1" y="278.8" width="0.6" height="0.6"/>
<rect x="174.7" y="284.4" width="0.6" height="0.6"/>
<rect x="178.2" y="287.3" width="0.6" height="0.6"/>
<rect x="170.7" y="291.2" width="0.6" height="0.6"/>
<rect x="166.9" y="273.7" width="0.6" height="0.6"/>
<rect x="169.6" y="297.2" width="0.6" height="0.6"/>
<rect x="190.3" y="279.8" width="0.6" height="0.6"/>
<rect x="197.2" y="288.4" width="0.6" height="0.6"/>
<rect x="163.3" y="289.3" width="0.6" height="0.6"/>
<rect x="168.2" y="273.6" width="0.6" height="0.6"/>
<rect x="156.1" y="286.7" width="0.6" height="0.6"/>
<rect x="182.3" y="274.8" width="0.6" height="0.6"/>
<rect x="184.3" y="289.2" width="0.6" height="0.6"/>
<rect x="183.7" y="291.6" width="0.6" height="0.6"/>
<rect x="170.6" y="288.8" width="0.6" height="0.6"/>
<rect x="183.1" y="279.3" width="0.6" height="0.6"/>
<rect x="175.0" y="272.7" width="0.6" height="0.6"/>
<rect x="179.9" y="274.0" width="0.6" height="0.6"/>
<rect x="182.4" y="286.0" width="0.6" height="0.6"/>
<rect x="176.4" y="291.0" width="0.6" height="0.6"/>
<rect x="175.2" y="301.6" width="0.6" height="0.6"/>
<rect x="182.1" y="273.8" width="0.6" height="0.6"/>
<rect x="172.7" y="288.5" width="0.6" height="0.6"/>
<rect x="195.1" y="279.4" width="0.6" height="0.6"/>
<rect x="193.1" y="286.8" width="0.6" height="0.6"/>
<rect x="190.9" y="279.2" width="0.6" height="0.6"/>
<rect x="170.3" y="281.4" width="0.6" height="0.6"/>
<rect x="178.5" y="275.5" width="0.6" height="0.6"/>
<rect x="166.0" y="292.2" width="0.6" height="0.6"/>
<rect x="188.4" y="284.5" width="0.6" height="0.6"/>
<rect x="173.4" y="295.7" width="0.6" height="0.6"/>
<rect x="160.9" y="292.2" width="0.6" height="0.6"/>
<rect x="180.4" y="291.6" width="0.6" height="0.6"/>
<rect x="181.8" y="294.9" width="0.6" height="0.6"/>
<rect x="184.0" y="285.0" width="0.6" height="0.6"/>
<rect x="186.4" y="275.6" width="0.6" height="0.6"/>
<rect x="180.3" y="288.8" width="0.6" height="0.6"/>
<rect x="162.4" y="290.4" width="0.6" height="0.6"/>
<rect x="182.7" y="293.9" width="0.6" height="0.6"/>
<rect x="178.5" y="297.0" width="0.6" height="0.6"/>
<rect x="187.7" y="291.3" width="0.6" height="0.6"/>
<rect x="180.6" y="285.4" width="0.6" height="0.6"/>
<rect x="167.7" y="294.1" width="0.6" height="0.6"/>
<rect x="173.8" y="283.5" width="0.6" height="0.6"/>
<rect x="181.6" y="296.3" width="0.6" height="0.6"/>
<rect x="174.1" y="275.0" width="0.6" height="0.6"/>
<rect x="181.9" y="287.2" width="0.6" height="0.6"/>
<rect x="159.3" y="278.8" width="0.6" height="0.6"/>
<rect x="178.9" y="267.5" width="0.6" height="0.6"/>
<rect x="189.7" y="272.7" width="0.6" height="0.6"/>
<rect x="186.1" y="274.6" width="0.6" height="0.6"/>
<rect x="173.9" y="278.3" width="0.6" height="0.6"/>
<rect x="174.6" y="266.3" width="0.6" height="0.6"/>
<rect x="170.9" y="293.4" width="0.6" height="0.6"/>
<rect x="182.6" y="305.2" width="0.6" height="0.6"/>
<rect x="159.1" y="299.0" width="0.6" height="0.6"/>
<rect x="179.2" y="272.0" width="0.6" height="0.6"/>
<rect x="163.8" y="279.8" width="0.6" height="0.6"/>
<rect x="179.0" y="280.1" width="0.6" height="0.6"/>
<rect x="193.0" y="284.1" width="0.6" height="0.6"/>
<rect x="171.3" y="275.9" width="0.6" height="0.6"/>
<rect x="166.6" y="283.8" width="0.6" height="0.6"/>
<rect x="176.2" y="276.7" width="0.6" height="0.6"/>
<rect x="181.2" y="277.6" width="0.6" height="0.6"/>
<rect x="172.8" y="295.3" width="0.6" height="0.6"/>
<rect x="188.7" y="280.9" width="0.6" height="0.6"/>
<rect x="195.2" y="280.7" width="0.6" height="0.6"/>
<rect x="189.8" y="286.8" width="0.6" height="0.6"/>
<rect x="173.4" y="284.6" width="0.6" height="0.6"/>
<rect x="174.3" y="287.1" width="0.6" height="0.6"/>
<rect x="177.1" y="283.4" width="0.6" height="0.6"/>
<rect x="168.5" y="289.3" width="0.6" height="0.6"/>
<rect x="187.1" y="274.6" width="0.6" height="0.6"/>
<rect x="177.9" y="293.7" width="0.6" height="0.6"/>
<rect x="186.5" y="276.9" width="0.6" height="0.6"/>
<rect x="202.9" y="277.1" width="0.6" height="0.6"/>
<rect x="185.2" y="288.6" width="0.6" height="0.6"/>
<rect x="204.1" y="278.7" width="0.6" height="0.6"/>
<rect x="191.0" y="290.0" width="0.6" height="0.6"/>
<rect x="169.3" y="285.3" width="0.6" height="0.6"/>
<rect x="169.9" y="287.3" width="0.6" height="0.6"/>
<rect x="179.9" y="265.7" width="0.6" height="0.6"/>
<rect x="184.4" y="288.1" width="0.6" height="0.6"/>
<rect x="188.3" y="285.6" width="0.6" height="0.6"/>
<rect x="170.0" y="292.0" width="0.6" height="0.6"/>
<rect x="187.9" y="263.9" width="0.6" height="0.6"/>
<rect x="188.7" y="290.9" width="0.6" height="0.6"/>
<rect x="173.6" y="275.4" width="0.6" height="0.6"/>
<rect x="174.1" y="295.6" width="0.6" height="0.6"/>
<rect x="180.3" y="292.3" width="0.6" height="0.6"/>
<rect x="173.7" y="271.5" width="0.6" height="0.6"/>
<rect x="169.9" y="306.0" width="0.6" height="0.6"/>
<rect x="186.8" y="291.6" width="0.6" height="0.6"/>
<rect x="183.4" y="284.6" width="0.6" height="0.6"/>
<rect x="176.1" y="281.3" width="0.6" height="0.6"/>
<rect x="181.7" y="283.2" width="0.6" height="0.6"/>
<rect x="178.3" y="289.1" width="0.6" height="0.6"/>
<rect x="183.8" y="288.8" width="0.6" height="0.6"/>
<rect x="180.1" y="289.1" width="0.6" height="0.6"/>
<rect x="189.3" y="297.1" width="0.6" height="0.6"/>
<rect x="192.1" y="278.4" width="0.6" height="0.6"/>
<rect x="181.8" y="286.1" width="0.6" height="0.6"/>
<rect x="197.1" y="300.8" width="0.6" height="0.6"/>
<rect x="182.8" y="304.7" width="0.6" height="0.6"/>
<rect x="191.8" y="273.7" width="0.6" height="0.6"/>
<rect x="185.4" y="288.0" width="0.6" height="0.6"/>
<rect x="174.5" y="299.2" width="0.6" height="0.6"/>
<rect x="184.0" y="271.4" width="0.6" height="0.6"/>
<rect x="169.6" y="283.0" width="0.6" height="0.6"/>
<rect x="189.5" y="289.2" width="0.6" height="0.6"/>
<rect x="187.9" y="282.4" width="0.6" height="0.6"/>
<rect x="191.0" y="282.6" width="0.6" height="0.6"/>
<rect x="185.6" y="282.4" width="0.6" height="0.6"/>
<rect x="174.7" y="288.7" width="0.6" height="0.6"/>
<rect x="166.9" y="285.7" width="0.6" height="0.6"/>
<rect x="182.9" y="273.2" width="0.6" height="0.6"/>
<rect x="177.3" y="283.2" width="0.6" height="0.6"/>
<rect x="168.5" y="267.0" width="0.6" height="0.6"/>
<rect x="189.1" y="280.8" width="0.6" height="0.6"/>
<rect x="205.8" y="308.7" width="0.6" height="0.6"/>
<rect x="176.0" y="289.8" width="0.6" height="0.6"/>
<rect x="192.3" y="288.3" width="0.6" height="0.6"/>
<rect x="182.3" y="291.9" width="0.6" height="0.6"/>
<rect x="228.2" y="275.3" width="0.6" height="0.6"/>
<rect x="180.4" y="281.0" width="0.6" height="0.6"/>
<rect x="193.5" y="287.2" width="0.6" height="0.6"/>
<rect x="190.3" y="283.4" width="0.6" height="0.6"/>
<rect x="208.8" y="287.1" width="0.6" height="0.6"/>
<rect x="205.5" y="283.2" width="0.6" height="0.6"/>
<rect x="190.6" y="282.0" width="0.6" height="0.6"/>
<rect x="191.0" y="272.6" width="0.6" height="0.6"/>
<rect x="197.2" y="283.1" width="0.6" height="0.6"/>
<rect x="192.3" y="291.3" width="0.6" height="0.6"/>
<rect x="218.7" y="277.5" width="0.6" height="0.6"/>
<rect x="201.7" y="275.3" width="0.6" height="0.6"/>
<rect x="205.9" y="283.3" width="0.6" height="0.6"/>
<rect x="180.5" y="275.5" width="0.6" height="0.6"/>
<rect x="202.5" y="278.9" width="0.6" height="0.6"/>
<rect x="194.4" y="303.7" width="0.6" height="0.6"/>
<rect x="186.9" y="288.3" width="0.6" height="0.6"/>
<rect x="164.2" y="269.1" width="0.6" height="0.6"/>
<rect x="199.1" y="284.8" width="0.6" height="0.6"/>
<rect x="211.4" y="279.9" width="0.6" height="0.6"/>
<rect x="171.9" y="292.2" width="0.6" height="0.6"/>
<rect x="177.2" y="282.4" width="0.6" height="0.6"/>
<rect x="212.5" y="277.2" width="0.6" height="0.6"/>
<rect x="196.3" y="274.3" width="0.6" height="0.6"/>
<rect x="208.2" y="292.5" width="0.6" height="0.6"/>
<rect x="178.9" y="281.6" width="0.6" height="0.6"/>
<rect x="189.7" y="289.8" width="0.6" height="0.6"/>
<rect x="205.7" y="285.7" width="0.6" height="0.6"/>
<rect x="203.8" y="287.7" width="0.6" height="0.6"/>
<rect x="198.5" y="282.8" width="0.6" height="0.6"/>
<rect x="188.0" y="288.1" width="0.6" height="0.6"/>
<rect x="187.7" y="288.0" width="0.6" height="0.6"/>
<rect x="188.1" y="283.1" width="0.6" height="0.6"/>
<rect x="205.0" y="292.5" width="0.6" height="0.6"/>
<rect x="195.8" y="283.1" width="0.6" height="0.6"/>
<rect x="196.1" y="289.0" width="0.6" height="0.6"/>
<rect x="187.6" y="304.3" width="0.6" height="0.6"/>
<rect x="195.1" y="284.8" width="0.6" height="0.6"/>
<rect x="202.6" y="287.6" width="0.6" height="0.6"/>
<rect x="195.7" y="281.4" width="0.6" height="0.6"/>
<rect x="182.2" y="278.0" width="0.6" height="0.6"/>
<rect x="194.8" y="279.2" width="0.6" height="0.6"/>
<rect x="220.8" y="267.2" width="0.6" height="0.6"/>
<rect x="216.7" y="287.1" width="0.6" height="0.6"/>
<rect x="191.6" y="285.0" width="0.6" height="0.6"/>
<rect x="193.3" y="280.5" width="0.6" height="0.6"/>
<rect x="177.3" y="280.6" width="0.6" height="0.6"/>
<rect x="183.1" y="285.8" width="0.6" height="0.6"/>
<rect x="189.7" y="277.9" width="0.6" height="0.6"/>
<rect x="193.1" y="279.8" width="0.6" height="0.6"/>
<rect x="198.9" y="281.3" width="0.6" height="0.6"/>
<rect x="182.4" y="286.1" width="0.6" height="0.6"/>
<rect x="181.2" y="269.3" width="0.6" height="0.6"/>
<rect x="181.8" y="288.0" width="0.6" height="0.6"/>
<rect x="183.0" y="275.6" width="0.6" height="0.6"/>
<rect x="215.4" y="281.4" width="0.6" height="0.6"/>
<rect x="198.4" y="277.7" width="0.6" height="0.6"/>
<rect x="208.6" y="294.5" width="0.6" height="0.6"/>
<rect x="189.0" y="274.2" width="0.6" height="0.6"/>
<rect x="174.9" y="285.5" width="0.6" height="0.6"/>
<rect x="184.3" y="270.9" width="0.6" height="0.6"/>
<rect x="199.0" y="282.4" width="0.6" height="0.6"/>
<rect x="199.4" y="273.4" width="0.6" height="0.6"/>
<rect x="182.6" y="284.1" width="0.6" height="0.6"/>
<rect x="210.2" y="287.3" width="0.6" height="0.6"/>
<rect x="191.7" y="290.1" width="0.6" height="0.6"/>
<rect x="203.8" y="274.1" width="0.6" height="0.6"/>
<rect x="216.1" y="292.7" width="0.6" height="0.6"/>
<rect x="194.8" y="287.0" width="0.6" height="0.6"/>
<rect x="181.4" y="293.9" width="0.6" height="0.6"/>
<rect x="218.7" y="285.5" width="0.6" height="0.6"/>
<rect x="198.5" y="282.5" width="0.6" height="0.6"/>
<rect x="195.6" y="275.8" width="0.6" height="0.6"/>
<rect x="196.2" y="291.9" width="0.6" height="0.6"/>
<rect x="192.1" y="292.2" width="0.6" height="0.6"/>
<rect x="180.9" y="278.9" width="0.6" height="0.6"/>
<rect x="191.2" y="280.9" width="0.6" height="0.6"/>
<rect x="205.9" y="240.9" width="0.6" height="0.6"/>
<rect x="203.9" y="242.9" width="0.6" height="0.6"/>
<rect x="177.2" y="252.1" width="0.6" height="0.6"/>
<rect x="203.8" y="253.5" width="0.6" height="0.6"/>
<rect x="196.3" y="257.9" width="0.6" height="0.6"/>
<rect x="199.2" y="256.4" width="0.6" height="0.6"/>
<rect x="184.1" y="264.9" width="0.6" height="0.6"/>
<rect x="192.4" y="241.0" width="0.6" height="0.6"/>
<rect x="189.9" y="257.8" width="0.6" height="0.6"/>
<rect x="196.7" y="249.2" width="0.6" height="0.6"/>
<rect x="208.5" y="259.2" width="0.6" height="0.6"/>
<rect x="200.5" y="243.4" width="0.6" height="0.6"/>
<rect x="203.4" y="246.9" width="0.6" height="0.6"/>
<rect x="198.4" y="248.3" width="0.6" height="0.6"/>
<rect x="180.0" y="246.8" width="0.6" height="0.6"/>
<rect x="193.4" y="236.9" width="0.6" height="0.6"/>
<rect x="185.4" y="263.4" width="0.6" height="0.6"/>
<rect x="194.7" y="265.8" width="0.6" height="0.6"/>
<rect x="201.2" y="246.7" width="0.6" height="0.6"/>
<rect x="189.8" y="263.1" width="0.6" height="0.6"/>
<rect x="187.9" y="254.8" width="0.6" height="0.6"/>
<rect x="191.8" y="243.1" width="0.6" height="0.6"/>
<rect x="191.9" y="246.1" width="0.6" height="0.6"/>
<rect x="210.6" y="244.7" width="0.6" height="0.6"/>
<rect x="190.5" y="233.8" width="0.6" height="0.6"/>
<rect x="184.7" y="258.7" width="0.6" height="0.6"/>
<rect x="197.8" y="237.8" width="0.6" height="0.6"/>
<rect x="191.3" y="261.0" width="0.6" height="0.6"/>
<rect x="193.5" y="238.8" width="0.6" height="0.6"/>
<rect x="197.8" y="237.8" width="0.6" height="0.6"/>
<rect x="193.1" y="251.3" width="0.6" height="0.6"/>
<rect x="195.5" y="243.0" width="0.6" height="0.6"/>
<rect x="212.6" y="263.2" width="0.6" height="0.6"/>
<rect x="201.8" y="261.3" width="0.6" height="0.6"/>
<rect x="198.5" y="251.8" width="0.6" height="0.6"/>
<rect x="189.7" y="245.8" width="0.6" height="0.6"/>
<rect x="200.4" y="247.2" width="0.6" height="0.6"/>
<rect x="185.4" y="244.4" width="0.6" height="0.6"/>
<rect x="191.1" y="233.0" width="0.6" height="0.6"/>
<rect x="184.4" y="253.6" width="0.6" height="0.6"/>
<rect x="174.2" y="250.2" width="0.6" height="0.6"/>
<rect x="206.8" y="244.4" width="0.6" height="0.6"/>
<rect x="201.5" y="251.6" width="0.6" height="0.6"/>
<rect x="190.7" y="237.1" width="0.6" height="0.6"/>
<rect x="190.4" y="251.4" width="0.6" height="0.6"/>
<rect x="195.3" y="248.8" width="0.6" height="0.6"/>
<rect x="206.4" y="254.4" width="0.6" height="0.6"/>
<rect x="193.9" y="254.3" width="0.6" height="0.6"/>
<rect x="188.4" y="232.5" width="0.6" height="0.6"/>
<rect x="189.9" y="256.6" width="0.6" height="0.6"/>
<rect x="199.2" y="252.4" width="0.6" height="0.6"/>
<rect x="200.0" y="245.9" width="0.6" height="0.6"/>
<rect x="209.2" y="246.4" width="0.6" height="0.6"/>
<rect x="193.8" y="253.0" width="0.6" height="0.6"/>
<rect x="185.8" y="259.2" width="0.6" height="0.6"/>
<rect x="209.1" y="252.4" width="0.6" height="0.6"/>
<rect x="190.3" y="263.5" width="0.6" height="0.6"/>
<rect x="189.9" y="250.0" width="0.6" height="0.6"/>
<rect x="196.4" y="260.1" width="0.6" height="0.6"/>
<rect x="183.5" y="261.2" width="0.6" height="0.6"/>
<rect x="204.8" y="251.6" width="0.6" height="0.6"/>
<rect x="183.4" y="261.5" width="0.6" height="0.6"/>
<rect x="173.4" y="242.9" width="0.6" height="0.6"/>
<rect x="211.1" y="256.1" width="0.6" height="0.6"/>
<rect x="192.3" y="245.1" width="0.6" height="0.6"/>
<rect x="183.5" y="256.0" width="0.6" height="0.6"/>
<rect x="186.5" y="249.0" width="0.6" height="0.6"/>
<rect x="202.8" y="245.8" width="0.6" height="0.6"/>
<rect x="194.7" y="260.7" width="0.6" height="0.6"/>
<rect x="181.4" y="250.6" width="0.6" height="0.6"/>
<rect x="209.9" y="248.1" width="0.6" height="0.6"/>
<rect x="191.9" y="252.4" width="0.6" height="0.6"/>
<rect x="180.9" y="248.7" width="0.6" height="0.6"/>
<rect x="199.8" y="247.3" width="0.6" height="0.6"/>
<rect x="211.2" y="235.6" width="0.6" height="0.6"/>
<rect x="199.4" y="252.0" width="0.6" height="0.6"/>
<rect x="199.6" y="240.4" width="0.6" height="0.6"/>
<rect x="211.1" y="251.6" width="0.6" height="0.6"/>
<rect x="199.0" y="250.1" width="0.6" height="0.6"/>
<rect x="192.1" y="248.4" width="0.6" height="0.6"/>
<rect x="192.7" y="250.2" width="0.6" height="0.6"/>
<rect x="209.3" y="255.8" width="0.6" height="0.6"/>
<rect x="189.4" y="248.1" width="0.6" height="0.6"/>
<rect x="196.7" y="246.8" width="0.6" height="0.6"/>
<rect x="201.6" y="253.0" width="0.6" height="0.6"/>
<rect x="182.2" y="252.1" width="0.6" height="0.6"/>
<rect x="185.2" y="248.7" width="0.6" height="0.6"/>
<rect x="191.5" y="245.0" width="0.6" height="0.6"/>
<rect x="201.0" y="247.4" width="0.6" height="0.6"/>
<rect x="210.5" y="251.6" width="0.6" height="0.6"/>
<rect x="203.8" y="246.8" width="0.6" height="0.6"/>
<rect x="213.6" y="244.1" width="0.6" height="0.6"/>
<rect x="188.1" y="236.9" width="0.6" height="0.6"/>
<rect x="209.9" y="258.1" width="0.6" height="0.6"/>
<rect x="192.3" y="235.4" width="0.6" height="0.6"/>
<rect x="188.7" y="249.8" width="0.6" height="0.6"/>
<rect x="203.0" y="257.5" width="0.6" height="0.6"/>
<rect x="202.4" y="250.5" width="0.6" height="0.6"/>
<rect x="207.3" y="242.2" width="0.6" height="0.6"/>
<rect x="197.0" y="259.0" width="0.6" height="0.6"/>
<rect x="179.9" y="247.1" width="0.6" height="0.6"/>
<rect x="199.2" y="241.4" width="0.6" height="0.6"/>
<rect x="184.8" y="260.4" width="0.6" height="0.6"/>
<rect x="189.9" y="246.6" width="0.6" height="0.6"/>
<rect x="206.1" y="248.0" width="0.6" height="0.6"/>
<rect x="205.5" y="232.7" width="0.6" height="0.6"/>
<rect x="180.1" y="269.2" width="0.6" height="0.6"/>
<rect x="168.1" y="233.5" width="0.6" height="0.6"/>
<rect x="179.5" y="265.6" width="0.6" height="0.6"/>
<rect x="189.1" y="243.7" width="0.6" height="0.6"/>
<rect x="166.0" y="233.0" width="0.6" height="0.6"/>
<rect x="188.1" y="269.3" width="0.6" height="0.6"/>
<rect x="179.1" y="257.3" width="0.6" height="0.6"/>
<rect x="170.9" y="256.6" width="0.6" height="0.6"/>
<rect x="172.7" y="254.1" width="0.6" height="0.6"/>
<rect x="169.1" y="249.5" width="0.6" height="0.6"/>
<rect x="179.5" y="258.0" width="0.6" height="0.6"/>
<rect x="166.2" y="272.7" width="0.6" height="0.6"/>
<rect x="187.3" y="255.4" width="0.6" height="0.6"/>
<rect x="183.7" y="245.0" width="0.6" height="0.6"/>
<rect x="181.7" y="268.9" width="0.6" height="0.6"/>
<rect x="166.3" y="248.9" width="0.6" height="0.6"/>
<rect x="172.0" y="256.4" width="0.6" height="0.6"/>
<rect x="178.7" y="243.5" width="0.6" height="0.6"/>
<rect x="175.9" y="232.5" width="0.6" height="0.6"/>
<rect x="183.5" y="247.6" width="0.6" height="0.6"/>
<rect x="180.4" y="249.7" width="0.6" height="0.6"/>
<rect x="179.1" y="263.9" width="0.6" height="0.6"/>
<rect x="173.5" y="245.9" width="0.6" height="0.6"/>
<rect x="175.0" y="254.0" width="0.6" height="0.6"/>
<rect x="183.1" y="245.3" width="0.6" height="0.6"/>
<rect x="177.3" y="264.2" width="0.6" height="0.6"/>
<rect x="175.8" y="254.7" width="0.6" height="0.6"/>
<rect x="179.2" y="258.0" width="0.6" height="0.6"/>
<rect x="182.4" y="257.4" width="0.6" height="0.6"/>
<rect x="162.6" y="255.2" width="0.6" height="0.6"/>
<rect x="189.1" y="244.7" width="0.6" height="0.6"/>
<rect x="180.1" y="251.7" width="0.6" height="0.6"/>
<rect x="176.6" y="264.9" width="0.6" height="0.6"/>
<rect x="181.2" y="251.1" width="0.6" height="0.6"/>
<rect x="170.6" y="266.9" width="0.6" height="0.6"/>
<rect x="170.7" y="253.0" width="0.6" height="0.6"/>
<rect x="179.5" y="243.0" width="0.6" height="0.6"/>
<rect x="173.6" y="254.4" width="0.6" height="0.6"/>
<rect x="179.1" y="251.9" width="0.6" height="0.6"/>
<rect x="177.1" y="253.1" width="0.6" height="0.6"/>
<rect x="167.2" y="252.4" width="0.6" height="0.6"/>
<rect x="184.5" y="254.5" width="0.6" height="0.6"/>
<rect x="181.5" y="260.1" width="0.6" height="0.6"/>
<rect x="188.7" y="241.9" width="0.6" height="0.6"/>
<rect x="180.2" y="245.7" width="0.6" height="0.6"/>
<rect x="187.4" y="244.4" width="0.6" height="0.6"/>
<rect x="171.2" y="246.0" width="0.6" height="0.6"/>
<rect x="182.6" y="261.9" width="0.6" height="0.6"/>
<rect x="194.6" y="249.4" width="0.6" height="0.6"/>
<rect x="169.4" y="251.6" width="0.6" height="0.6"/>
<rect x="205.9" y="282.1" width="0.6" height="0.6"/>
<rect x="211.7" y="285.7" width="0.6" height="0.6"/>
<rect x="207.2" y="269.8" width="0.6" height="0.6"/>
<rect x="212.1" y="287.6" width="0.6" height="0.6"/>
<rect x="198.6" y="283.1" width="0.6" height="0.6"/>
<rect x="212.1" y="283.1" width="0.6" height="0.6"/>
<rect x="203.2" y="283.8" width="0.6" height="0.6"/>
<rect x="202.5" y="285.7" width="0.6" height="0.6"/>
<rect x="200.2" y="294.3" width="0.6" height="0.6"/>
<rect x="192.0" y="268.0" width="0.6" height="0.6"/>
<rect x="220.2" y="301.4" width="0.6" height="0.6"/>
<rect x="208.8" y="294.9" width="0.6" height="0.6"/>
<rect x="209.4" y="274.5" width="0.6" height="0.6"/>
<rect x="214.6" y="282.8" width="0.6" height="0.6"/>
<rect x="211.8" y="287.1" width="0.6" height="0.6"/>
<rect x="200.6" y="285.3" width="0.6" height="0.6"/>
<rect x="201.0" y="298.4" width="0.6" height="0.6"/>
<rect x="210.3" y="286.8" width="0.6" height="0.6"/>
<rect x="214.6" y="291.2" width="0.6" height="0.6"/>
<rect x="208.0" y="278.1" width="0.6" height="0.6"/>
<rect x="199.2" y="279.3" width="0.6" height="0.6"/>
<rect x="203.1" y="283.7" width="0.6" height="0.6"/>
<rect x="199.1" y="287.7" width="0.6" height="0.6"/>
<rect x="215.1" y="274.4" width="0.6" height="0.6"/>
<rect x="202.4" y="287.2" width="0.6" height="0.6"/>
<rect x="212.9" y="283.0" width="0.6" height="0.6"/>
<rect x="210.2" y="277.5" width="0.6" height="0.6"/>
<rect x="215.9" y="280.6" width="0.6" height="0.6"/>
<rect x="206.3" y="284.5" width="0.6" height="0.6"/>
<rect x="205.0" y="285.0" width="0.6" height="0.6"/>
</g>
<g>
<path d="M170 272.2 L187.9 271.5 L194 272.5 L200 276 L204.4 283 L201 290 L195 294.2 L187.9 295.2 L186 302 L178 304.4 L172 302.5 L167 297 L165.6 289 L166.5 280 Z" fill="#e2e2e2" stroke="#8a8a8a" stroke-width="0.5" filter="url(#soft)"/>
<g fill="none" stroke="#707070" stroke-width="0.5"><path d="M187.9 274 Q198 275 202 283 Q198 292 187.9 292.5"/><path d="M187.9 276.5 Q196 277.5 199 283 Q196 289 187.9 290"/><path d="M187.9 279 Q193 279.5 195.5 283 Q193 287 187.9 287.5"/></g>
<g filter="url(#soft)"><path d="M170.50 273.20 C173.90 271.88 184.65 270.80 187.60 272.60 C190.55 274.40 188.38 280.43 188.20 284.00 C188.02 287.57 187.28 291.08 186.50 294.00 C185.72 296.92 185.00 299.90 183.50 301.50 C182.00 303.10 179.42 303.55 177.50 303.60 C175.58 303.65 173.65 302.98 172.00 301.80 C170.35 300.62 168.53 298.63 167.60 296.50 C166.67 294.37 166.47 291.67 166.40 289.00 C166.33 286.33 166.52 283.13 167.20 280.50 C167.88 277.87 167.10 274.52 170.50 273.20Z" fill="#d8d8d8" stroke="#6e6e6e" stroke-width="0.35"/><path d="M171.46 274.28 C174.48 273.12 184.01 272.16 186.63 273.75 C189.24 275.35 187.32 280.70 187.16 283.86 C187.00 287.03 186.35 290.15 185.65 292.73 C184.96 295.32 184.32 297.97 182.99 299.39 C181.66 300.81 179.37 301.21 177.67 301.25 C175.97 301.29 174.25 300.70 172.79 299.65 C171.33 298.60 169.72 296.84 168.89 294.95 C168.06 293.06 167.88 290.66 167.82 288.30 C167.76 285.93 167.93 283.10 168.53 280.76 C169.14 278.42 168.44 275.45 171.46 274.28Z" fill="#cacaca" stroke="#6e6e6e" stroke-width="0.35"/><path d="M172.42 275.37 C175.05 274.35 183.37 273.51 185.66 274.91 C187.94 276.30 186.26 280.97 186.12 283.73 C185.98 286.49 185.41 289.21 184.81 291.47 C184.20 293.73 183.64 296.04 182.48 297.27 C181.32 298.51 179.32 298.86 177.84 298.90 C176.36 298.94 174.86 298.42 173.58 297.51 C172.30 296.59 170.90 295.06 170.18 293.40 C169.45 291.75 169.30 289.66 169.25 287.60 C169.20 285.53 169.34 283.06 169.87 281.02 C170.40 278.98 169.79 276.39 172.42 275.37Z" fill="#bababa" stroke="#6e6e6e" stroke-width="0.35"/><path d="M173.38 276.45 C175.63 275.58 182.73 274.87 184.68 276.06 C186.63 277.25 185.20 281.24 185.08 283.59 C184.96 285.95 184.48 288.28 183.96 290.20 C183.44 292.13 182.97 294.10 181.97 295.16 C180.98 296.22 179.28 296.52 178.01 296.55 C176.74 296.58 175.46 296.14 174.37 295.36 C173.28 294.58 172.08 293.27 171.46 291.86 C170.85 290.45 170.72 288.66 170.67 286.90 C170.63 285.14 170.75 283.02 171.20 281.28 C171.65 279.54 171.13 277.32 173.38 276.45Z" fill="#a8a8a8" stroke="#6e6e6e" stroke-width="0.35"/><path d="M174.34 277.54 C176.21 276.82 182.10 276.22 183.71 277.21 C185.33 278.20 184.14 281.50 184.04 283.46 C183.94 285.41 183.54 287.34 183.11 288.94 C182.68 290.54 182.29 292.17 181.47 293.05 C180.64 293.92 179.23 294.17 178.18 294.20 C177.13 294.23 176.07 293.86 175.16 293.21 C174.26 292.56 173.26 291.48 172.75 290.31 C172.24 289.14 172.13 287.66 172.10 286.20 C172.06 284.74 172.16 282.98 172.53 281.54 C172.91 280.10 172.48 278.26 174.34 277.54Z" fill="#949494" stroke="#6e6e6e" stroke-width="0.35"/><path d="M175.30 278.62 C176.78 278.05 181.46 277.58 182.74 278.36 C184.02 279.15 183.08 281.77 183.00 283.32 C182.92 284.87 182.60 286.40 182.26 287.67 C181.92 288.94 181.61 290.24 180.96 290.93 C180.31 291.63 179.18 291.83 178.35 291.85 C177.51 291.87 176.67 291.58 175.96 291.06 C175.24 290.55 174.45 289.69 174.04 288.76 C173.63 287.83 173.55 286.66 173.52 285.50 C173.49 284.34 173.57 282.95 173.87 281.80 C174.16 280.65 173.82 279.20 175.30 278.62Z" fill="#7c7c7c" stroke="#6e6e6e" stroke-width="0.35"/><path d="M176.26 279.71 C177.36 279.28 180.82 278.94 181.77 279.52 C182.72 280.10 182.02 282.04 181.96 283.19 C181.90 284.33 181.67 285.47 181.41 286.41 C181.16 287.35 180.93 288.31 180.45 288.82 C179.97 289.34 179.13 289.48 178.52 289.50 C177.90 289.51 177.28 289.30 176.75 288.92 C176.21 288.54 175.63 287.90 175.33 287.21 C175.03 286.52 174.96 285.66 174.94 284.80 C174.92 283.94 174.98 282.91 175.20 282.06 C175.42 281.21 175.17 280.13 176.26 279.71Z" fill="#606060" stroke="#6e6e6e" stroke-width="0.35"/><path d="M177.22 280.79 C177.93 280.52 180.18 280.29 180.80 280.67 C181.41 281.04 180.96 282.31 180.92 283.05 C180.88 283.80 180.73 284.53 180.57 285.14 C180.40 285.75 180.25 286.37 179.94 286.71 C179.63 287.04 179.09 287.14 178.69 287.15 C178.29 287.16 177.88 287.02 177.54 286.77 C177.19 286.52 176.81 286.11 176.62 285.66 C176.42 285.22 176.38 284.65 176.37 284.10 C176.35 283.54 176.39 282.87 176.53 282.32 C176.68 281.77 176.51 281.07 177.22 280.79Z" fill="#404040" stroke="#6e6e6e" stroke-width="0.35"/></g>
<ellipse cx="178.9" cy="282.6" rx="1.3" ry="0.6" fill="#ddd" transform="rotate(-50 178.9 282.6)"/>
<path d="M188 240 Q196 237.5 204 240 Q207.5 246 204 254 Q199 262.5 193.5 263 Q188.8 262 188 256 Z" fill="#d4d4d4" stroke="#8a8a8a" stroke-width="0.5" filter="url(#soft)"/>
<g fill="none" stroke="#707070" stroke-width="0.5">
<path d="M189.5 243 Q196 240.5 202.5 243 Q204.5 248 201.5 254 Q197.5 260.5 194 260.5 Q190 259.5 189.5 253 Z"/>
<path d="M191 244.5 Q196 242.8 201 244.5 Q202.5 248.5 200 253 Q197 257.5 194.5 257.5 Q191.5 256.5 191 251.5 Z"/>
<ellipse cx="196.1" cy="247" rx="4.5" ry="3"/><ellipse cx="196.1" cy="246.4" rx="2.8" ry="1.8"/>
<ellipse cx="177.7" cy="253.4" rx="7.2" ry="8.2"/><ellipse cx="177.7" cy="253.4" rx="4.6" ry="5"/><ellipse cx="177.7" cy="253.4" rx="2.4" ry="2.5"/>
<ellipse cx="184" cy="262" rx="2.6" ry="4"/>
</g></g>
<rect x="153.4" y="231.4" width="84.0" height="84.4" fill="none" stroke="#231f20" stroke-width="1.1"/>
<line x1="187.9" y1="231.4" x2="187.9" y2="315.8" stroke="#333" stroke-width="0.9"/>
<line x1="153.4" y1="270.2" x2="237.4" y2="270.2" stroke="#333" stroke-width="0.9"/>
<line x1="150.6" y1="241.4" x2="153.4" y2="241.4" stroke="#231f20" stroke-width="1"/>
<line x1="150.6" y1="266.9" x2="153.4" y2="266.9" stroke="#231f20" stroke-width="1"/>
<line x1="150.6" y1="293.2" x2="153.4" y2="293.2" stroke="#231f20" stroke-width="1"/>
<line x1="150.6" y1="302.8" x2="153.4" y2="302.8" stroke="#231f20" stroke-width="1"/>
<line x1="150.6" y1="312.4" x2="153.4" y2="312.4" stroke="#231f20" stroke-width="1"/>
<line x1="151.8" y1="258.98" x2="153.4" y2="258.98" stroke="#231f20" stroke-width="0.6"/>
<line x1="151.8" y1="254.35" x2="153.4" y2="254.35" stroke="#231f20" stroke-width="0.6"/>
<line x1="151.8" y1="251.07" x2="153.4" y2="251.07" stroke="#231f20" stroke-width="0.6"/>
<line x1="151.8" y1="248.52" x2="153.4" y2="248.52" stroke="#231f20" stroke-width="0.6"/>
<line x1="151.8" y1="246.43" x2="153.4" y2="246.43" stroke="#231f20" stroke-width="0.6"/>
<line x1="151.8" y1="244.67" x2="153.4" y2="244.67" stroke="#231f20" stroke-width="0.6"/>
<line x1="151.8" y1="243.15" x2="153.4" y2="243.15" stroke="#231f20" stroke-width="0.6"/>
<line x1="151.8" y1="241.8" x2="153.4" y2="241.8" stroke="#231f20" stroke-width="0.6"/>
<line x1="151.8" y1="285.28" x2="153.4" y2="285.28" stroke="#231f20" stroke-width="0.6"/>
<line x1="151.8" y1="280.65" x2="153.4" y2="280.65" stroke="#231f20" stroke-width="0.6"/>
<line x1="151.8" y1="277.37" x2="153.4" y2="277.37" stroke="#231f20" stroke-width="0.6"/>
<line x1="151.8" y1="274.82" x2="153.4" y2="274.82" stroke="#231f20" stroke-width="0.6"/>
<line x1="151.8" y1="272.73" x2="153.4" y2="272.73" stroke="#231f20" stroke-width="0.6"/>
<line x1="151.8" y1="270.97" x2="153.4" y2="270.97" stroke="#231f20" stroke-width="0.6"/>
<line x1="151.8" y1="269.45" x2="153.4" y2="269.45" stroke="#231f20" stroke-width="0.6"/>
<line x1="151.8" y1="268.1" x2="153.4" y2="268.1" stroke="#231f20" stroke-width="0.6"/>
<line x1="151.8" y1="233.48" x2="153.4" y2="233.48" stroke="#231f20" stroke-width="0.6"/>
<line x1="151.6" y1="295.2" x2="153.4" y2="295.2" stroke="#231f20" stroke-width="0.8"/>
<line x1="151.6" y1="296.8" x2="153.4" y2="296.8" stroke="#231f20" stroke-width="0.8"/>
<line x1="151.6" y1="298.2" x2="153.4" y2="298.2" stroke="#231f20" stroke-width="0.8"/>
<line x1="151.6" y1="299.6" x2="153.4" y2="299.6" stroke="#231f20" stroke-width="0.8"/>
<line x1="151.6" y1="300.8" x2="153.4" y2="300.8" stroke="#231f20" stroke-width="0.8"/>
<line x1="151.6" y1="301.8" x2="153.4" y2="301.8" stroke="#231f20" stroke-width="0.8"/>
<line x1="151.6" y1="303.8" x2="153.4" y2="303.8" stroke="#231f20" stroke-width="0.8"/>
<line x1="151.6" y1="305.0" x2="153.4" y2="305.0" stroke="#231f20" stroke-width="0.8"/>
<line x1="151.6" y1="306.4" x2="153.4" y2="306.4" stroke="#231f20" stroke-width="0.8"/>
<line x1="151.6" y1="308" x2="153.4" y2="308" stroke="#231f20" stroke-width="0.8"/>
<line x1="151.6" y1="309.8" x2="153.4" y2="309.8" stroke="#231f20" stroke-width="0.8"/>
<line x1="165.9" y1="315.8" x2="165.9" y2="318.40000000000003" stroke="#231f20" stroke-width="1"/>
<line x1="202.4" y1="315.8" x2="202.4" y2="318.40000000000003" stroke="#231f20" stroke-width="1"/>
<line x1="227.4" y1="315.8" x2="227.4" y2="318.40000000000003" stroke="#231f20" stroke-width="1"/>
<line x1="154.9" y1="315.8" x2="154.9" y2="317.3" stroke="#231f20" stroke-width="0.6"/>
<line x1="157.7" y1="315.8" x2="157.7" y2="317.3" stroke="#231f20" stroke-width="0.6"/>
<line x1="160.5" y1="315.8" x2="160.5" y2="317.3" stroke="#231f20" stroke-width="0.6"/>
<line x1="163.3" y1="315.8" x2="163.3" y2="317.3" stroke="#231f20" stroke-width="0.6"/>
<line x1="166.1" y1="315.8" x2="166.1" y2="317.3" stroke="#231f20" stroke-width="0.6"/>
<line x1="168.9" y1="315.8" x2="168.9" y2="317.3" stroke="#231f20" stroke-width="0.6"/>
<line x1="171.7" y1="315.8" x2="171.7" y2="317.3" stroke="#231f20" stroke-width="0.6"/>
<line x1="174.5" y1="315.8" x2="174.5" y2="317.3" stroke="#231f20" stroke-width="0.6"/>
<line x1="177.3" y1="315.8" x2="177.3" y2="317.3" stroke="#231f20" stroke-width="0.6"/>
<line x1="180.1" y1="315.8" x2="180.1" y2="317.3" stroke="#231f20" stroke-width="0.6"/>
<line x1="182.9" y1="315.8" x2="182.9" y2="317.3" stroke="#231f20" stroke-width="0.6"/>
<line x1="185.7" y1="315.8" x2="185.7" y2="317.3" stroke="#231f20" stroke-width="0.6"/>
<line x1="188.5" y1="315.8" x2="188.5" y2="317.3" stroke="#231f20" stroke-width="0.6"/>
<line x1="191.3" y1="315.8" x2="191.3" y2="317.3" stroke="#231f20" stroke-width="0.6"/>
<line x1="194.1" y1="315.8" x2="194.1" y2="317.3" stroke="#231f20" stroke-width="0.6"/>
<line x1="196.9" y1="315.8" x2="196.9" y2="317.3" stroke="#231f20" stroke-width="0.6"/>
<line x1="199.7" y1="315.8" x2="199.7" y2="317.3" stroke="#231f20" stroke-width="0.6"/>
<line x1="202.5" y1="315.8" x2="202.5" y2="317.3" stroke="#231f20" stroke-width="0.6"/>
<line x1="205.3" y1="315.8" x2="205.3" y2="317.3" stroke="#231f20" stroke-width="0.6"/>
<line x1="208.1" y1="315.8" x2="208.1" y2="317.3" stroke="#231f20" stroke-width="0.6"/>
<line x1="210.9" y1="315.8" x2="210.9" y2="317.3" stroke="#231f20" stroke-width="0.6"/>
<line x1="213.7" y1="315.8" x2="213.7" y2="317.3" stroke="#231f20" stroke-width="0.6"/>
<line x1="216.5" y1="315.8" x2="216.5" y2="317.3" stroke="#231f20" stroke-width="0.6"/>
<line x1="219.3" y1="315.8" x2="219.3" y2="317.3" stroke="#231f20" stroke-width="0.6"/>
<line x1="222.1" y1="315.8" x2="222.1" y2="317.3" stroke="#231f20" stroke-width="0.6"/>
<line x1="224.9" y1="315.8" x2="224.9" y2="317.3" stroke="#231f20" stroke-width="0.6"/>
<line x1="227.7" y1="315.8" x2="227.7" y2="317.3" stroke="#231f20" stroke-width="0.6"/>
<line x1="230.5" y1="315.8" x2="230.5" y2="317.3" stroke="#231f20" stroke-width="0.6"/>
<line x1="233.3" y1="315.8" x2="233.3" y2="317.3" stroke="#231f20" stroke-width="0.6"/>
<line x1="236.1" y1="315.8" x2="236.1" y2="317.3" stroke="#231f20" stroke-width="0.6"/>
<text x="156.20000000000002" y="243.4" font-size="8.85" text-anchor="start" fill="#222" stroke="#222" textLength="13.2" lengthAdjust="spacingAndGlyphs">2.92</text>
<text x="214.5" y="243.4" font-size="8.85" text-anchor="start" fill="#222" stroke="#222" textLength="12.8" lengthAdjust="spacingAndGlyphs">5.25</text>
<text x="156.20000000000002" y="308.2" font-size="8.85" text-anchor="start" fill="#222" stroke="#222" textLength="13.2" lengthAdjust="spacingAndGlyphs">85.3</text>
<text x="214.5" y="308.2" font-size="8.85" text-anchor="start" fill="#222" stroke="#222" textLength="13.2" lengthAdjust="spacingAndGlyphs">6.57</text>
<line x1="156.9" y1="315.8" x2="156.9" y2="318.2" stroke="#231f20" stroke-width="0.9"/>
<line x1="159.4" y1="315.8" x2="159.4" y2="318.2" stroke="#231f20" stroke-width="0.9"/>
<line x1="161.9" y1="315.8" x2="161.9" y2="318.2" stroke="#231f20" stroke-width="0.9"/>
<line x1="163.7" y1="315.8" x2="163.7" y2="318.2" stroke="#231f20" stroke-width="0.9"/>
<line x1="165.0" y1="315.8" x2="165.0" y2="318.2" stroke="#231f20" stroke-width="0.9"/>
<line x1="166.0" y1="315.8" x2="166.0" y2="318.2" stroke="#231f20" stroke-width="0.9"/>
<text x="147.8" y="244.4" font-size="8.4" text-anchor="end" fill="#222" stroke="#222" textLength="10.6" lengthAdjust="spacingAndGlyphs">10<tspan font-size="5.8" dy="-3.6">4</tspan></text>
<text x="147.8" y="270.3" font-size="8.4" text-anchor="end" fill="#222" stroke="#222" textLength="10.6" lengthAdjust="spacingAndGlyphs">10<tspan font-size="5.8" dy="-3.6">3</tspan></text>
<text x="147.8" y="296.0" font-size="8.4" text-anchor="end" fill="#222" stroke="#222" textLength="10.6" lengthAdjust="spacingAndGlyphs">10<tspan font-size="5.8" dy="-3.6">2</tspan></text>
<text x="147.50000000000003" y="305.2" font-size="9.41" text-anchor="end" fill="#222" stroke="#222" textLength="3.8" lengthAdjust="spacingAndGlyphs">0</text>
<text x="147.8" y="315.0" font-size="8.4" text-anchor="end" fill="#222" stroke="#222" textLength="13.4" lengthAdjust="spacingAndGlyphs">-10<tspan font-size="5.8" dy="-3.6">2</tspan></text>
<text x="52.4" y="328.5" font-size="9.63" text-anchor="start" fill="#222" stroke="#222" textLength="4.2" lengthAdjust="spacingAndGlyphs">0</text>
<text x="86.6" y="328.9" font-size="8.6" fill="#222" stroke="#222" textLength="10.6" lengthAdjust="spacingAndGlyphs">10<tspan font-size="6.6" dy="-3.4">3</tspan></text>
<text x="111.6" y="328.9" font-size="8.6" fill="#222" stroke="#222" textLength="10.6" lengthAdjust="spacingAndGlyphs">10<tspan font-size="6.6" dy="-3.4">4</tspan></text>
<text x="165.0" y="328.5" font-size="9.63" text-anchor="start" fill="#222" stroke="#222" textLength="4.2" lengthAdjust="spacingAndGlyphs">0</text>
<text x="199.4" y="328.9" font-size="8.6" fill="#222" stroke="#222" textLength="10.6" lengthAdjust="spacingAndGlyphs">10<tspan font-size="6.6" dy="-3.4">3</tspan></text>
<text x="224.8" y="328.9" font-size="8.6" fill="#222" stroke="#222" textLength="10.6" lengthAdjust="spacingAndGlyphs">10<tspan font-size="6.6" dy="-3.4">4</tspan></text>
<text x="17.3" y="284.4" font-size="9.75" text-anchor="start" fill="#222" stroke="#222" textLength="21.8" lengthAdjust="spacingAndGlyphs" transform="rotate(-90 17.3 284.4)">ViViD</text>
<line x1="61.3" y1="339.2" x2="172.1" y2="339.2" stroke="#111" stroke-width="1.0"/>
<polygon points="176.60,339.20 170.80,341.60 172.10,339.20 170.80,336.80" fill="#111"/>
<text x="179.6" y="342.9" font-size="11.02" text-anchor="start" fill="#222" stroke="#222" textLength="20.6" lengthAdjust="spacingAndGlyphs">CFSE</text>
<text x="254.3" y="219.8" font-size="11" text-anchor="start" fill="#222" stroke="#222" textLength="7.0" lengthAdjust="spacingAndGlyphs">C</text>
<line x1="282.6" y1="237" x2="282.6" y2="315.5" stroke="#231f20" stroke-width="1.1"/>
<line x1="282.6" y1="315.5" x2="397.6" y2="315.5" stroke="#231f20" stroke-width="1.1"/>
<line x1="279.6" y1="315.5" x2="282.6" y2="315.5" stroke="#231f20" stroke-width="1"/>
<text x="277.40000000000003" y="319.0" font-size="8.51" text-anchor="end" fill="#222" stroke="#222" textLength="4.2" lengthAdjust="spacingAndGlyphs">0</text>
<line x1="279.6" y1="296.65" x2="282.6" y2="296.65" stroke="#231f20" stroke-width="1"/>
<text x="277.40000000000003" y="300.15" font-size="8.51" text-anchor="end" fill="#222" stroke="#222" textLength="8.6" lengthAdjust="spacingAndGlyphs">20</text>
<line x1="279.6" y1="277.8" x2="282.6" y2="277.8" stroke="#231f20" stroke-width="1"/>
<text x="277.40000000000003" y="281.3" font-size="8.51" text-anchor="end" fill="#222" stroke="#222" textLength="8.6" lengthAdjust="spacingAndGlyphs">40</text>
<line x1="279.6" y1="258.95" x2="282.6" y2="258.95" stroke="#231f20" stroke-width="1"/>
<text x="277.40000000000003" y="262.45" font-size="8.51" text-anchor="end" fill="#222" stroke="#222" textLength="8.6" lengthAdjust="spacingAndGlyphs">60</text>
<line x1="279.6" y1="240.1" x2="282.6" y2="240.1" stroke="#231f20" stroke-width="1"/>
<text x="277.40000000000003" y="243.6" font-size="8.51" text-anchor="end" fill="#222" stroke="#222" textLength="8.6" lengthAdjust="spacingAndGlyphs">80</text>
<text x="263.4" y="302.6" font-size="10.18" text-anchor="start" fill="#222" stroke="#222" textLength="52.5" lengthAdjust="spacingAndGlyphs" transform="rotate(-90 263.4 302.6)">% dead PMo</text>
<line x1="297.6" y1="315.5" x2="297.6" y2="318.3" stroke="#231f20" stroke-width="1"/>
<line x1="325.6" y1="315.5" x2="325.6" y2="318.3" stroke="#231f20" stroke-width="1"/>
<line x1="354.2" y1="315.5" x2="354.2" y2="318.3" stroke="#231f20" stroke-width="1"/>
<line x1="382.6" y1="315.5" x2="382.6" y2="318.3" stroke="#231f20" stroke-width="1"/>
<rect x="288.6" y="311.8" width="19" height="3.7" fill="none" stroke="#8598ba" stroke-width="1.1"/>
<rect x="316.4" y="311.2" width="19" height="4.3" fill="none" stroke="#c8505e" stroke-width="1.1"/>
<rect x="344.6" y="293.4" width="19" height="22.1" fill="none" stroke="#8598ba" stroke-width="1.1"/>
<rect x="373.4" y="261.4" width="18.8" height="54.1" fill="none" stroke="#c8505e" stroke-width="1.1"/>
<line x1="354.2" y1="290.5" x2="354.2" y2="296.5" stroke="#889" stroke-width="0.8"/>
<line x1="351.5" y1="290.5" x2="357" y2="290.5" stroke="#889" stroke-width="0.8"/>
<g fill="#3b5b8c">
<circle cx="291.60" cy="310.60" r="2.3" fill="#3b5b8c"/>
<circle cx="295.50" cy="313.60" r="2.3" fill="#3b5b8c"/>
<circle cx="299.50" cy="314.00" r="2.3" fill="#3b5b8c"/>
<circle cx="303.50" cy="311.00" r="2.3" fill="#3b5b8c"/>
<circle cx="297.00" cy="313.40" r="2.3" fill="#3b5b8c"/>
<circle cx="301.50" cy="313.80" r="2.3" fill="#3b5b8c"/>
<circle cx="353.80" cy="287.50" r="2.4" fill="#3b5b8c"/>
<circle cx="346.30" cy="292.60" r="2.4" fill="#3b5b8c"/>
<circle cx="361.30" cy="292.40" r="2.4" fill="#3b5b8c"/>
<circle cx="351.30" cy="298.80" r="2.4" fill="#3b5b8c"/>
<circle cx="357.00" cy="297.00" r="2.4" fill="#3b5b8c"/>
</g>
<rect x="316.5" y="308.2" width="4" height="4" fill="#a3203a"/>
<rect x="320.5" y="310" width="4" height="4" fill="#a3203a"/>
<rect x="324" y="310.8" width="4" height="4" fill="#a3203a"/>
<rect x="327.5" y="310" width="4" height="4" fill="#a3203a"/>
<rect x="331" y="308.5" width="4" height="4" fill="#a3203a"/>
<rect x="322" y="309" width="4" height="4" fill="#a3203a"/>
<rect x="377" y="253.6" width="4.2" height="4.2" fill="#a3203a"/>
<rect x="383.6" y="254.89999999999998" width="4.2" height="4.2" fill="#a3203a"/>
<rect x="374" y="258.2" width="4.2" height="4.2" fill="#a3203a"/>
<rect x="380.2" y="264.9" width="4.2" height="4.2" fill="#a3203a"/>
<rect x="386.5" y="264.9" width="4.2" height="4.2" fill="#a3203a"/>
<line x1="382.6" y1="256" x2="382.6" y2="266.5" stroke="#d09aa0" stroke-width="0.8"/>
<line x1="380" y1="261" x2="385.6" y2="261" stroke="#fff" stroke-width="0.8"/>
<path d="M297.6 278.8 L297.6 275.3 L354.3 275.3 L354.3 278.8" fill="none" stroke="#333" stroke-width="1"/>
<path d="M354.0 248.6 L354.0 245.7 L382.6 245.7 L382.6 248.6" fill="none" stroke="#333" stroke-width="1"/>
<circle cx="323.30" cy="272.60" r="0.95" fill="#333"/>
<circle cx="326.30" cy="272.60" r="0.95" fill="#333"/>
<circle cx="329.30" cy="272.60" r="0.95" fill="#333"/>
<circle cx="364.80" cy="242.20" r="0.95" fill="#333"/>
<circle cx="367.80" cy="242.20" r="0.95" fill="#333"/>
<circle cx="370.80" cy="242.20" r="0.95" fill="#333"/>
<circle cx="292.10" cy="240.80" r="2.4" fill="#3b5b8c"/>
<rect x="290" y="250.4" width="4.3" height="4.3" fill="#a3203a"/>
<text x="297.6" y="244.0" font-size="9.18" text-anchor="start" fill="#222" stroke="#222" textLength="26.4" lengthAdjust="spacingAndGlyphs">Medium</text>
<text x="297.6" y="255.4" font-size="9.18" text-anchor="start" fill="#222" stroke="#222" textLength="22.6" lengthAdjust="spacingAndGlyphs">SnPPIX</text>
<line x1="292" y1="324.9" x2="331.3" y2="324.9" stroke="#555" stroke-width="1.5"/>
<line x1="348.8" y1="324.9" x2="388.0" y2="324.9" stroke="#555" stroke-width="1.5"/>
<text x="293.8" y="335.2" font-size="8.6" fill="#222" stroke="#222" textLength="35.6" lengthAdjust="spacingAndGlyphs">CFSE<tspan font-size="5.6" dy="-3.4">-</tspan><tspan dy="3.4"> PMo</tspan></text>
<text x="349.6" y="335.2" font-size="8.6" fill="#222" stroke="#222" textLength="37.4" lengthAdjust="spacingAndGlyphs">CFSE<tspan font-size="5.6" dy="-3.4">+</tspan><tspan dy="3.4"> PMo</tspan></text>
<text x="9.2" y="370.2" font-size="11" text-anchor="start" fill="#222" stroke="#222" textLength="7.0" lengthAdjust="spacingAndGlyphs">D</text>
<line x1="75" y1="385.5" x2="251.3" y2="385.5" stroke="#333" stroke-width="1.1"/>
<text x="124.6" y="380.9" font-size="8.96" text-anchor="start" fill="#222" stroke="#222" textLength="76.6" lengthAdjust="spacingAndGlyphs">Monocyte and HMVEC</text>
<path d="M65.1 393.9 L65.1 400.2 Q65.1 404.6 88.25 404.6 Q111.39999999999999 404.6 111.39999999999999 400.2 L111.39999999999999 393.9 Z" fill="#c99a96" stroke="#8a8080" stroke-width="0.6"/><rect x="68.5" y="401.2" width="0.8" height="0.8" fill="#8a5a50" opacity="0.6"/><rect x="98.2" y="398.6" width="0.8" height="0.8" fill="#8a5a50" opacity="0.6"/><rect x="105.6" y="398.2" width="0.8" height="0.8" fill="#8a5a50" opacity="0.6"/><rect x="77.3" y="399.6" width="0.8" height="0.8" fill="#8a5a50" opacity="0.6"/><rect x="109.5" y="403.2" width="0.8" height="0.8" fill="#8a5a50" opacity="0.6"/><rect x="91.4" y="401.3" width="0.8" height="0.8" fill="#8a5a50" opacity="0.6"/><rect x="95.8" y="402.3" width="0.8" height="0.8" fill="#8a5a50" opacity="0.6"/><rect x="101.2" y="402.4" width="0.8" height="0.8" fill="#8a5a50" opacity="0.6"/><rect x="98.7" y="398.1" width="0.8" height="0.8" fill="#8a5a50" opacity="0.6"/><rect x="89.6" y="400.0" width="0.8" height="0.8" fill="#8a5a50" opacity="0.6"/><rect x="75.1" y="402.9" width="0.8" height="0.8" fill="#8a5a50" opacity="0.6"/><rect x="83.4" y="398.9" width="0.8" height="0.8" fill="#8a5a50" opacity="0.6"/><rect x="92.0" y="398.2" width="0.8" height="0.8" fill="#8a5a50" opacity="0.6"/><rect x="89.2" y="401.7" width="0.8" height="0.8" fill="#8a5a50" opacity="0.6"/><rect x="107.6" y="401.5" width="0.8" height="0.8" fill="#8a5a50" opacity="0.6"/><rect x="68.8" y="403.0" width="0.8" height="0.8" fill="#8a5a50" opacity="0.6"/><rect x="75.7" y="398.4" width="0.8" height="0.8" fill="#8a5a50" opacity="0.6"/><rect x="95.1" y="399.3" width="0.8" height="0.8" fill="#8a5a50" opacity="0.6"/><rect x="73.8" y="398.3" width="0.8" height="0.8" fill="#8a5a50" opacity="0.6"/><rect x="79.1" y="399.7" width="0.8" height="0.8" fill="#8a5a50" opacity="0.6"/><rect x="97.2" y="403.2" width="0.8" height="0.8" fill="#8a5a50" opacity="0.6"/><rect x="101.0" y="402.2" width="0.8" height="0.8" fill="#8a5a50" opacity="0.6"/><rect x="71.4" y="399.7" width="0.8" height="0.8" fill="#8a5a50" opacity="0.6"/><rect x="89.4" y="398.1" width="0.8" height="0.8" fill="#8a5a50" opacity="0.6"/><rect x="71.5" y="401.2" width="0.8" height="0.8" fill="#8a5a50" opacity="0.6"/><rect x="94.8" y="403.2" width="0.8" height="0.8" fill="#8a5a50" opacity="0.6"/><rect x="92.5" y="401.3" width="0.8" height="0.8" fill="#8a5a50" opacity="0.6"/><rect x="68.0" y="398.7" width="0.8" height="0.8" fill="#8a5a50" opacity="0.6"/><rect x="102.6" y="402.3" width="0.8" height="0.8" fill="#8a5a50" opacity="0.6"/><rect x="100.0" y="399.5" width="0.8" height="0.8" fill="#8a5a50" opacity="0.6"/><rect x="101.0" y="400.5" width="0.8" height="0.8" fill="#8a5a50" opacity="0.6"/><rect x="71.8" y="398.2" width="0.8" height="0.8" fill="#8a5a50" opacity="0.6"/><rect x="109.5" y="403.4" width="0.8" height="0.8" fill="#8a5a50" opacity="0.6"/><rect x="97.3" y="401.1" width="0.8" height="0.8" fill="#8a5a50" opacity="0.6"/><rect x="70.2" y="398.7" width="0.8" height="0.8" fill="#8a5a50" opacity="0.6"/><rect x="97.2" y="399.8" width="0.8" height="0.8" fill="#8a5a50" opacity="0.6"/><rect x="101.0" y="403.3" width="0.8" height="0.8" fill="#8a5a50" opacity="0.6"/><rect x="72.6" y="398.1" width="0.8" height="0.8" fill="#8a5a50" opacity="0.6"/><rect x="76.7" y="403.3" width="0.8" height="0.8" fill="#8a5a50" opacity="0.6"/><rect x="100.7" y="402.3" width="0.8" height="0.8" fill="#8a5a50" opacity="0.6"/><ellipse cx="88.25" cy="393.9" rx="23.15" ry="4.3" fill="#f4e6e4" stroke="#8c8c8c" stroke-width="0.7"/><ellipse cx="88.25" cy="394.6" rx="21.55" ry="3.2" fill="#efc2ba"/><ellipse cx="70.6" cy="397.8" rx="3.7" ry="2.6" fill="#b487d2" stroke="#9a70b8" stroke-width="0.3"/><ellipse cx="70.6" cy="396.6" rx="2.3" ry="1.0" fill="#ebe0f3" opacity="0.9"/><ellipse cx="77.6" cy="396.5" rx="3.7" ry="2.6" fill="#b487d2" stroke="#9a70b8" stroke-width="0.3"/><ellipse cx="77.6" cy="395.3" rx="2.3" ry="1.0" fill="#ebe0f3" opacity="0.9"/><ellipse cx="84.4" cy="396.0" rx="3.7" ry="2.6" fill="#b487d2" stroke="#9a70b8" stroke-width="0.3"/><ellipse cx="84.4" cy="394.8" rx="2.3" ry="1.0" fill="#ebe0f3" opacity="0.9"/><ellipse cx="105.6" cy="397.0" rx="3.7" ry="2.6" fill="#b487d2" stroke="#9a70b8" stroke-width="0.3"/><ellipse cx="105.6" cy="395.8" rx="2.3" ry="1.0" fill="#ebe0f3" opacity="0.9"/><ellipse cx="79.6" cy="401.4" rx="3.7" ry="2.6" fill="#b487d2" stroke="#9a70b8" stroke-width="0.3"/><ellipse cx="79.6" cy="400.2" rx="2.3" ry="1.0" fill="#ebe0f3" opacity="0.9"/><ellipse cx="86.9" cy="401.4" rx="3.7" ry="2.6" fill="#b487d2" stroke="#9a70b8" stroke-width="0.3"/><ellipse cx="86.9" cy="400.2" rx="2.3" ry="1.0" fill="#ebe0f3" opacity="0.9"/><ellipse cx="96.6" cy="401.8" rx="3.7" ry="2.6" fill="#b487d2" stroke="#9a70b8" stroke-width="0.3"/><ellipse cx="96.6" cy="400.6" rx="2.3" ry="1.0" fill="#ebe0f3" opacity="0.9"/><ellipse cx="101.1" cy="400.4" rx="3.7" ry="2.6" fill="#b487d2" stroke="#9a70b8" stroke-width="0.3"/><ellipse cx="101.1" cy="399.2" rx="2.3" ry="1.0" fill="#ebe0f3" opacity="0.9"/><ellipse cx="72.6" cy="401.2" rx="3.7" ry="2.6" fill="#b487d2" stroke="#9a70b8" stroke-width="0.3"/><ellipse cx="72.6" cy="400.0" rx="2.3" ry="1.0" fill="#ebe0f3" opacity="0.9"/><ellipse cx="93.9" cy="391.3" rx="2.65" ry="1.85" fill="#c22020" stroke="#8e1414" stroke-width="0.5"/><ellipse cx="93.9" cy="391.3" rx="1.1" ry="0.6" fill="#e04a40" opacity="0.8"/><ellipse cx="90.3" cy="394.5" rx="2.65" ry="1.85" fill="#c22020" stroke="#8e1414" stroke-width="0.5"/><ellipse cx="90.3" cy="394.5" rx="1.1" ry="0.6" fill="#e04a40" opacity="0.8"/><ellipse cx="97.5" cy="394.8" rx="2.65" ry="1.85" fill="#c22020" stroke="#8e1414" stroke-width="0.5"/><ellipse cx="97.5" cy="394.8" rx="1.1" ry="0.6" fill="#e04a40" opacity="0.8"/><ellipse cx="104.7" cy="394.5" rx="2.65" ry="1.85" fill="#c22020" stroke="#8e1414" stroke-width="0.5"/><ellipse cx="104.7" cy="394.5" rx="1.1" ry="0.6" fill="#e04a40" opacity="0.8"/><ellipse cx="87.1" cy="397.5" rx="2.65" ry="1.85" fill="#c22020" stroke="#8e1414" stroke-width="0.5"/><ellipse cx="87.1" cy="397.5" rx="1.1" ry="0.6" fill="#e04a40" opacity="0.8"/><ellipse cx="93.3" cy="397.5" rx="2.65" ry="1.85" fill="#c22020" stroke="#8e1414" stroke-width="0.5"/><ellipse cx="93.3" cy="397.5" rx="1.1" ry="0.6" fill="#e04a40" opacity="0.8"/><ellipse cx="100.5" cy="397.5" rx="2.65" ry="1.85" fill="#c22020" stroke="#8e1414" stroke-width="0.5"/><ellipse cx="100.5" cy="397.5" rx="1.1" ry="0.6" fill="#e04a40" opacity="0.8"/><ellipse cx="96.5" cy="400.5" rx="2.65" ry="1.85" fill="#c22020" stroke="#8e1414" stroke-width="0.5"/><ellipse cx="96.5" cy="400.5" rx="1.1" ry="0.6" fill="#e04a40" opacity="0.8"/>
<path d="M115.0 393.9 L115.0 400.2 Q115.0 404.6 138.15 404.6 Q161.3 404.6 161.3 400.2 L161.3 393.9 Z" fill="#c99a96" stroke="#8a8080" stroke-width="0.6"/><rect x="122.5" y="401.0" width="0.8" height="0.8" fill="#8a5a50" opacity="0.6"/><rect x="126.9" y="399.4" width="0.8" height="0.8" fill="#8a5a50" opacity="0.6"/><rect x="117.1" y="400.7" width="0.8" height="0.8" fill="#8a5a50" opacity="0.6"/><rect x="156.5" y="399.4" width="0.8" height="0.8" fill="#8a5a50" opacity="0.6"/><rect x="151.5" y="398.1" width="0.8" height="0.8" fill="#8a5a50" opacity="0.6"/><rect x="143.6" y="399.6" width="0.8" height="0.8" fill="#8a5a50" opacity="0.6"/><rect x="132.7" y="400.1" width="0.8" height="0.8" fill="#8a5a50" opacity="0.6"/><rect x="144.7" y="400.3" width="0.8" height="0.8" fill="#8a5a50" opacity="0.6"/><rect x="155.7" y="398.7" width="0.8" height="0.8" fill="#8a5a50" opacity="0.6"/><rect x="138.5" y="398.7" width="0.8" height="0.8" fill="#8a5a50" opacity="0.6"/><rect x="128.5" y="398.9" width="0.8" height="0.8" fill="#8a5a50" opacity="0.6"/><rect x="155.6" y="400.1" width="0.8" height="0.8" fill="#8a5a50" opacity="0.6"/><rect x="139.7" y="401.8" width="0.8" height="0.8" fill="#8a5a50" opacity="0.6"/><rect x="133.2" y="402.3" width="0.8" height="0.8" fill="#8a5a50" opacity="0.6"/><rect x="145.3" y="401.4" width="0.8" height="0.8" fill="#8a5a50" opacity="0.6"/><rect x="152.5" y="401.2" width="0.8" height="0.8" fill="#8a5a50" opacity="0.6"/><rect x="148.1" y="401.4" width="0.8" height="0.8" fill="#8a5a50" opacity="0.6"/><rect x="130.4" y="402.8" width="0.8" height="0.8" fill="#8a5a50" opacity="0.6"/><rect x="136.4" y="402.6" width="0.8" height="0.8" fill="#8a5a50" opacity="0.6"/><rect x="138.7" y="401.2" width="0.8" height="0.8" fill="#8a5a50" opacity="0.6"/><rect x="141.9" y="403.5" width="0.8" height="0.8" fill="#8a5a50" opacity="0.6"/><rect x="118.6" y="400.8" width="0.8" height="0.8" fill="#8a5a50" opacity="0.6"/><rect x="118.5" y="402.5" width="0.8" height="0.8" fill="#8a5a50" opacity="0.6"/><rect x="150.3" y="399.5" width="0.8" height="0.8" fill="#8a5a50" opacity="0.6"/><rect x="136.5" y="400.6" width="0.8" height="0.8" fill="#8a5a50" opacity="0.6"/><rect x="125.7" y="399.7" width="0.8" height="0.8" fill="#8a5a50" opacity="0.6"/><rect x="155.0" y="403.0" width="0.8" height="0.8" fill="#8a5a50" opacity="0.6"/><rect x="150.2" y="398.8" width="0.8" height="0.8" fill="#8a5a50" opacity="0.6"/><rect x="142.4" y="400.5" width="0.8" height="0.8" fill="#8a5a50" opacity="0.6"/><rect x="136.3" y="399.2" width="0.8" height="0.8" fill="#8a5a50" opacity="0.6"/><rect x="152.4" y="403.2" width="0.8" height="0.8" fill="#8a5a50" opacity="0.6"/><rect x="120.4" y="398.5" width="0.8" height="0.8" fill="#8a5a50" opacity="0.6"/><rect x="119.0" y="400.0" width="0.8" height="0.8" fill="#8a5a50" opacity="0.6"/><rect x="155.2" y="403.3" width="0.8" height="0.8" fill="#8a5a50" opacity="0.6"/><rect x="123.1" y="399.7" width="0.8" height="0.8" fill="#8a5a50" opacity="0.6"/><rect x="130.6" y="401.1" width="0.8" height="0.8" fill="#8a5a50" opacity="0.6"/><rect x="142.8" y="402.4" width="0.8" height="0.8" fill="#8a5a50" opacity="0.6"/><rect x="141.4" y="401.5" width="0.8" height="0.8" fill="#8a5a50" opacity="0.6"/><rect x="151.8" y="401.6" width="0.8" height="0.8" fill="#8a5a50" opacity="0.6"/><rect x="139.5" y="403.4" width="0.8" height="0.8" fill="#8a5a50" opacity="0.6"/><ellipse cx="138.15" cy="393.9" rx="23.150000000000006" ry="4.3" fill="#f4e6e4" stroke="#8c8c8c" stroke-width="0.7"/><ellipse cx="138.15" cy="394.6" rx="21.55" ry="3.2" fill="#efc2ba"/><ellipse cx="120.5" cy="397.8" rx="3.7" ry="2.6" fill="#b487d2" stroke="#9a70b8" stroke-width="0.3"/><ellipse cx="120.5" cy="396.6" rx="2.3" ry="1.0" fill="#ebe0f3" opacity="0.9"/><ellipse cx="127.5" cy="396.5" rx="3.7" ry="2.6" fill="#b487d2" stroke="#9a70b8" stroke-width="0.3"/><ellipse cx="127.5" cy="395.3" rx="2.3" ry="1.0" fill="#ebe0f3" opacity="0.9"/><ellipse cx="134.3" cy="396.0" rx="3.7" ry="2.6" fill="#b487d2" stroke="#9a70b8" stroke-width="0.3"/><ellipse cx="134.3" cy="394.8" rx="2.3" ry="1.0" fill="#ebe0f3" opacity="0.9"/><ellipse cx="155.5" cy="397.0" rx="3.7" ry="2.6" fill="#b487d2" stroke="#9a70b8" stroke-width="0.3"/><ellipse cx="155.5" cy="395.8" rx="2.3" ry="1.0" fill="#ebe0f3" opacity="0.9"/><ellipse cx="129.5" cy="401.4" rx="3.7" ry="2.6" fill="#b487d2" stroke="#9a70b8" stroke-width="0.3"/><ellipse cx="129.5" cy="400.2" rx="2.3" ry="1.0" fill="#ebe0f3" opacity="0.9"/><ellipse cx="136.8" cy="401.4" rx="3.7" ry="2.6" fill="#b487d2" stroke="#9a70b8" stroke-width="0.3"/><ellipse cx="136.8" cy="400.2" rx="2.3" ry="1.0" fill="#ebe0f3" opacity="0.9"/><ellipse cx="146.5" cy="401.8" rx="3.7" ry="2.6" fill="#b487d2" stroke="#9a70b8" stroke-width="0.3"/><ellipse cx="146.5" cy="400.6" rx="2.3" ry="1.0" fill="#ebe0f3" opacity="0.9"/><ellipse cx="151.0" cy="400.4" rx="3.7" ry="2.6" fill="#b487d2" stroke="#9a70b8" stroke-width="0.3"/><ellipse cx="151.0" cy="399.2" rx="2.3" ry="1.0" fill="#ebe0f3" opacity="0.9"/><ellipse cx="122.5" cy="401.2" rx="3.7" ry="2.6" fill="#b487d2" stroke="#9a70b8" stroke-width="0.3"/><ellipse cx="122.5" cy="400.0" rx="2.3" ry="1.0" fill="#ebe0f3" opacity="0.9"/><ellipse cx="143.8" cy="391.3" rx="2.65" ry="1.85" fill="#c22020" stroke="#8e1414" stroke-width="0.5"/><ellipse cx="143.8" cy="391.3" rx="1.1" ry="0.6" fill="#e04a40" opacity="0.8"/><ellipse cx="140.2" cy="394.5" rx="2.65" ry="1.85" fill="#c22020" stroke="#8e1414" stroke-width="0.5"/><ellipse cx="140.2" cy="394.5" rx="1.1" ry="0.6" fill="#e04a40" opacity="0.8"/><ellipse cx="147.4" cy="394.8" rx="2.65" ry="1.85" fill="#c22020" stroke="#8e1414" stroke-width="0.5"/><ellipse cx="147.4" cy="394.8" rx="1.1" ry="0.6" fill="#e04a40" opacity="0.8"/><ellipse cx="154.6" cy="394.5" rx="2.65" ry="1.85" fill="#c22020" stroke="#8e1414" stroke-width="0.5"/><ellipse cx="154.6" cy="394.5" rx="1.1" ry="0.6" fill="#e04a40" opacity="0.8"/><ellipse cx="137.0" cy="397.5" rx="2.65" ry="1.85" fill="#c22020" stroke="#8e1414" stroke-width="0.5"/><ellipse cx="137.0" cy="397.5" rx="1.1" ry="0.6" fill="#e04a40" opacity="0.8"/><ellipse cx="143.2" cy="397.5" rx="2.65" ry="1.85" fill="#c22020" stroke="#8e1414" stroke-width="0.5"/><ellipse cx="143.2" cy="397.5" rx="1.1" ry="0.6" fill="#e04a40" opacity="0.8"/><ellipse cx="150.4" cy="397.5" rx="2.65" ry="1.85" fill="#c22020" stroke="#8e1414" stroke-width="0.5"/><ellipse cx="150.4" cy="397.5" rx="1.1" ry="0.6" fill="#e04a40" opacity="0.8"/><ellipse cx="146.4" cy="400.5" rx="2.65" ry="1.85" fill="#c22020" stroke="#8e1414" stroke-width="0.5"/><ellipse cx="146.4" cy="400.5" rx="1.1" ry="0.6" fill="#e04a40" opacity="0.8"/>
<path d="M164.5 393.9 L164.5 400.2 Q164.5 404.6 187.65 404.6 Q210.8 404.6 210.8 400.2 L210.8 393.9 Z" fill="#c99a96" stroke="#8a8080" stroke-width="0.6"/><rect x="196.1" y="400.9" width="0.8" height="0.8" fill="#8a5a50" opacity="0.6"/><rect x="200.3" y="400.4" width="0.8" height="0.8" fill="#8a5a50" opacity="0.6"/><rect x="189.0" y="399.6" width="0.8" height="0.8" fill="#8a5a50" opacity="0.6"/><rect x="200.1" y="399.9" width="0.8" height="0.8" fill="#8a5a50" opacity="0.6"/><rect x="170.5" y="403.0" width="0.8" height="0.8" fill="#8a5a50" opacity="0.6"/><rect x="180.0" y="401.8" width="0.8" height="0.8" fill="#8a5a50" opacity="0.6"/><rect x="170.4" y="403.5" width="0.8" height="0.8" fill="#8a5a50" opacity="0.6"/><rect x="170.7" y="399.8" width="0.8" height="0.8" fill="#8a5a50" opacity="0.6"/><rect x="205.5" y="400.5" width="0.8" height="0.8" fill="#8a5a50" opacity="0.6"/><rect x="179.3" y="402.3" width="0.8" height="0.8" fill="#8a5a50" opacity="0.6"/><rect x="185.6" y="398.3" width="0.8" height="0.8" fill="#8a5a50" opacity="0.6"/><rect x="173.8" y="401.0" width="0.8" height="0.8" fill="#8a5a50" opacity="0.6"/><rect x="201.1" y="400.2" width="0.8" height="0.8" fill="#8a5a50" opacity="0.6"/><rect x="185.1" y="398.4" width="0.8" height="0.8" fill="#8a5a50" opacity="0.6"/><rect x="174.6" y="399.1" width="0.8" height="0.8" fill="#8a5a50" opacity="0.6"/><rect x="183.4" y="399.9" width="0.8" height="0.8" fill="#8a5a50" opacity="0.6"/><rect x="169.7" y="398.6" width="0.8" height="0.8" fill="#8a5a50" opacity="0.6"/><rect x="192.8" y="401.2" width="0.8" height="0.8" fill="#8a5a50" opacity="0.6"/><rect x="174.9" y="403.3" width="0.8" height="0.8" fill="#8a5a50" opacity="0.6"/><rect x="182.6" y="399.5" width="0.8" height="0.8" fill="#8a5a50" opacity="0.6"/><rect x="207.8" y="402.1" width="0.8" height="0.8" fill="#8a5a50" opacity="0.6"/><rect x="205.1" y="403.4" width="0.8" height="0.8" fill="#8a5a50" opacity="0.6"/><rect x="190.4" y="402.6" width="0.8" height="0.8" fill="#8a5a50" opacity="0.6"/><rect x="171.7" y="403.5" width="0.8" height="0.8" fill="#8a5a50" opacity="0.6"/><rect x="181.2" y="401.2" width="0.8" height="0.8" fill="#8a5a50" opacity="0.6"/><rect x="177.0" y="401.0" width="0.8" height="0.8" fill="#8a5a50" opacity="0.6"/><rect x="206.5" y="399.6" width="0.8" height="0.8" fill="#8a5a50" opacity="0.6"/><rect x="184.2" y="402.6" width="0.8" height="0.8" fill="#8a5a50" opacity="0.6"/><rect x="186.9" y="398.1" width="0.8" height="0.8" fill="#8a5a50" opacity="0.6"/><rect x="183.4" y="398.5" width="0.8" height="0.8" fill="#8a5a50" opacity="0.6"/><rect x="196.1" y="399.0" width="0.8" height="0.8" fill="#8a5a50" opacity="0.6"/><rect x="172.9" y="400.8" width="0.8" height="0.8" fill="#8a5a50" opacity="0.6"/><rect x="177.3" y="401.2" width="0.8" height="0.8" fill="#8a5a50" opacity="0.6"/><rect x="194.0" y="402.0" width="0.8" height="0.8" fill="#8a5a50" opacity="0.6"/><rect x="206.4" y="398.5" width="0.8" height="0.8" fill="#8a5a50" opacity="0.6"/><rect x="173.0" y="400.2" width="0.8" height="0.8" fill="#8a5a50" opacity="0.6"/><rect x="195.4" y="402.8" width="0.8" height="0.8" fill="#8a5a50" opacity="0.6"/><rect x="171.0" y="398.7" width="0.8" height="0.8" fill="#8a5a50" opacity="0.6"/><rect x="171.2" y="399.1" width="0.8" height="0.8" fill="#8a5a50" opacity="0.6"/><rect x="187.7" y="400.6" width="0.8" height="0.8" fill="#8a5a50" opacity="0.6"/><ellipse cx="187.65" cy="393.9" rx="23.150000000000006" ry="4.3" fill="#f4e6e4" stroke="#8c8c8c" stroke-width="0.7"/><ellipse cx="187.65" cy="394.6" rx="21.55" ry="3.2" fill="#efc2ba"/><ellipse cx="170.0" cy="397.8" rx="3.7" ry="2.6" fill="#b487d2" stroke="#9a70b8" stroke-width="0.3"/><ellipse cx="170.0" cy="396.6" rx="2.3" ry="1.0" fill="#ebe0f3" opacity="0.9"/><ellipse cx="177.0" cy="396.5" rx="3.7" ry="2.6" fill="#b487d2" stroke="#9a70b8" stroke-width="0.3"/><ellipse cx="177.0" cy="395.3" rx="2.3" ry="1.0" fill="#ebe0f3" opacity="0.9"/><ellipse cx="183.8" cy="396.0" rx="3.7" ry="2.6" fill="#b487d2" stroke="#9a70b8" stroke-width="0.3"/><ellipse cx="183.8" cy="394.8" rx="2.3" ry="1.0" fill="#ebe0f3" opacity="0.9"/><ellipse cx="205.0" cy="397.0" rx="3.7" ry="2.6" fill="#b487d2" stroke="#9a70b8" stroke-width="0.3"/><ellipse cx="205.0" cy="395.8" rx="2.3" ry="1.0" fill="#ebe0f3" opacity="0.9"/><ellipse cx="179.0" cy="401.4" rx="3.7" ry="2.6" fill="#b487d2" stroke="#9a70b8" stroke-width="0.3"/><ellipse cx="179.0" cy="400.2" rx="2.3" ry="1.0" fill="#ebe0f3" opacity="0.9"/><ellipse cx="186.3" cy="401.4" rx="3.7" ry="2.6" fill="#b487d2" stroke="#9a70b8" stroke-width="0.3"/><ellipse cx="186.3" cy="400.2" rx="2.3" ry="1.0" fill="#ebe0f3" opacity="0.9"/><ellipse cx="196.0" cy="401.8" rx="3.7" ry="2.6" fill="#b487d2" stroke="#9a70b8" stroke-width="0.3"/><ellipse cx="196.0" cy="400.6" rx="2.3" ry="1.0" fill="#ebe0f3" opacity="0.9"/><ellipse cx="200.5" cy="400.4" rx="3.7" ry="2.6" fill="#b487d2" stroke="#9a70b8" stroke-width="0.3"/><ellipse cx="200.5" cy="399.2" rx="2.3" ry="1.0" fill="#ebe0f3" opacity="0.9"/><ellipse cx="172.0" cy="401.2" rx="3.7" ry="2.6" fill="#b487d2" stroke="#9a70b8" stroke-width="0.3"/><ellipse cx="172.0" cy="400.0" rx="2.3" ry="1.0" fill="#ebe0f3" opacity="0.9"/><ellipse cx="193.3" cy="391.3" rx="2.65" ry="1.85" fill="#c22020" stroke="#8e1414" stroke-width="0.5"/><ellipse cx="193.3" cy="391.3" rx="1.1" ry="0.6" fill="#e04a40" opacity="0.8"/><ellipse cx="189.7" cy="394.5" rx="2.65" ry="1.85" fill="#c22020" stroke="#8e1414" stroke-width="0.5"/><ellipse cx="189.7" cy="394.5" rx="1.1" ry="0.6" fill="#e04a40" opacity="0.8"/><ellipse cx="196.9" cy="394.8" rx="2.65" ry="1.85" fill="#c22020" stroke="#8e1414" stroke-width="0.5"/><ellipse cx="196.9" cy="394.8" rx="1.1" ry="0.6" fill="#e04a40" opacity="0.8"/><ellipse cx="204.1" cy="394.5" rx="2.65" ry="1.85" fill="#c22020" stroke="#8e1414" stroke-width="0.5"/><ellipse cx="204.1" cy="394.5" rx="1.1" ry="0.6" fill="#e04a40" opacity="0.8"/><ellipse cx="186.5" cy="397.5" rx="2.65" ry="1.85" fill="#c22020" stroke="#8e1414" stroke-width="0.5"/><ellipse cx="186.5" cy="397.5" rx="1.1" ry="0.6" fill="#e04a40" opacity="0.8"/><ellipse cx="192.7" cy="397.5" rx="2.65" ry="1.85" fill="#c22020" stroke="#8e1414" stroke-width="0.5"/><ellipse cx="192.7" cy="397.5" rx="1.1" ry="0.6" fill="#e04a40" opacity="0.8"/><ellipse cx="199.9" cy="397.5" rx="2.65" ry="1.85" fill="#c22020" stroke="#8e1414" stroke-width="0.5"/><ellipse cx="199.9" cy="397.5" rx="1.1" ry="0.6" fill="#e04a40" opacity="0.8"/><ellipse cx="195.9" cy="400.5" rx="2.65" ry="1.85" fill="#c22020" stroke="#8e1414" stroke-width="0.5"/><ellipse cx="195.9" cy="400.5" rx="1.1" ry="0.6" fill="#e04a40" opacity="0.8"/>
<path d="M213.6 393.9 L213.6 400.2 Q213.6 404.6 236.75 404.6 Q259.9 404.6 259.9 400.2 L259.9 393.9 Z" fill="#c99a96" stroke="#8a8080" stroke-width="0.6"/><rect x="222.4" y="398.1" width="0.8" height="0.8" fill="#8a5a50" opacity="0.6"/><rect x="235.0" y="403.0" width="0.8" height="0.8" fill="#8a5a50" opacity="0.6"/><rect x="242.6" y="401.2" width="0.8" height="0.8" fill="#8a5a50" opacity="0.6"/><rect x="220.1" y="399.5" width="0.8" height="0.8" fill="#8a5a50" opacity="0.6"/><rect x="225.7" y="400.6" width="0.8" height="0.8" fill="#8a5a50" opacity="0.6"/><rect x="238.5" y="400.3" width="0.8" height="0.8" fill="#8a5a50" opacity="0.6"/><rect x="247.3" y="398.2" width="0.8" height="0.8" fill="#8a5a50" opacity="0.6"/><rect x="232.3" y="398.8" width="0.8" height="0.8" fill="#8a5a50" opacity="0.6"/><rect x="235.3" y="400.6" width="0.8" height="0.8" fill="#8a5a50" opacity="0.6"/><rect x="236.7" y="401.6" width="0.8" height="0.8" fill="#8a5a50" opacity="0.6"/><rect x="242.9" y="403.2" width="0.8" height="0.8" fill="#8a5a50" opacity="0.6"/><rect x="244.9" y="402.1" width="0.8" height="0.8" fill="#8a5a50" opacity="0.6"/><rect x="224.0" y="398.4" width="0.8" height="0.8" fill="#8a5a50" opacity="0.6"/><rect x="254.5" y="398.5" width="0.8" height="0.8" fill="#8a5a50" opacity="0.6"/><rect x="231.7" y="403.1" width="0.8" height="0.8" fill="#8a5a50" opacity="0.6"/><rect x="243.8" y="399.0" width="0.8" height="0.8" fill="#8a5a50" opacity="0.6"/><rect x="221.9" y="401.7" width="0.8" height="0.8" fill="#8a5a50" opacity="0.6"/><rect x="234.4" y="403.0" width="0.8" height="0.8" fill="#8a5a50" opacity="0.6"/><rect x="237.7" y="401.7" width="0.8" height="0.8" fill="#8a5a50" opacity="0.6"/><rect x="225.7" y="403.3" width="0.8" height="0.8" fill="#8a5a50" opacity="0.6"/><rect x="222.8" y="400.7" width="0.8" height="0.8" fill="#8a5a50" opacity="0.6"/><rect x="234.3" y="402.9" width="0.8" height="0.8" fill="#8a5a50" opacity="0.6"/><rect x="256.5" y="401.3" width="0.8" height="0.8" fill="#8a5a50" opacity="0.6"/><rect x="235.6" y="402.4" width="0.8" height="0.8" fill="#8a5a50" opacity="0.6"/><rect x="240.7" y="403.6" width="0.8" height="0.8" fill="#8a5a50" opacity="0.6"/><rect x="252.8" y="399.8" width="0.8" height="0.8" fill="#8a5a50" opacity="0.6"/><rect x="219.0" y="399.7" width="0.8" height="0.8" fill="#8a5a50" opacity="0.6"/><rect x="236.6" y="398.5" width="0.8" height="0.8" fill="#8a5a50" opacity="0.6"/><rect x="245.5" y="400.8" width="0.8" height="0.8" fill="#8a5a50" opacity="0.6"/><rect x="251.6" y="401.5" width="0.8" height="0.8" fill="#8a5a50" opacity="0.6"/><rect x="228.7" y="402.3" width="0.8" height="0.8" fill="#8a5a50" opacity="0.6"/><rect x="239.9" y="402.1" width="0.8" height="0.8" fill="#8a5a50" opacity="0.6"/><rect x="256.0" y="402.3" width="0.8" height="0.8" fill="#8a5a50" opacity="0.6"/><rect x="255.0" y="403.6" width="0.8" height="0.8" fill="#8a5a50" opacity="0.6"/><rect x="237.6" y="398.2" width="0.8" height="0.8" fill="#8a5a50" opacity="0.6"/><rect x="229.1" y="399.6" width="0.8" height="0.8" fill="#8a5a50" opacity="0.6"/><rect x="232.7" y="401.3" width="0.8" height="0.8" fill="#8a5a50" opacity="0.6"/><rect x="238.9" y="399.9" width="0.8" height="0.8" fill="#8a5a50" opacity="0.6"/><rect x="237.2" y="400.2" width="0.8" height="0.8" fill="#8a5a50" opacity="0.6"/><rect x="235.7" y="400.7" width="0.8" height="0.8" fill="#8a5a50" opacity="0.6"/><ellipse cx="236.75" cy="393.9" rx="23.14999999999999" ry="4.3" fill="#f4e6e4" stroke="#8c8c8c" stroke-width="0.7"/><ellipse cx="236.75" cy="394.6" rx="21.55" ry="3.2" fill="#efc2ba"/><ellipse cx="219.1" cy="397.8" rx="3.7" ry="2.6" fill="#b487d2" stroke="#9a70b8" stroke-width="0.3"/><ellipse cx="219.1" cy="396.6" rx="2.3" ry="1.0" fill="#ebe0f3" opacity="0.9"/><ellipse cx="226.1" cy="396.5" rx="3.7" ry="2.6" fill="#b487d2" stroke="#9a70b8" stroke-width="0.3"/><ellipse cx="226.1" cy="395.3" rx="2.3" ry="1.0" fill="#ebe0f3" opacity="0.9"/><ellipse cx="232.9" cy="396.0" rx="3.7" ry="2.6" fill="#b487d2" stroke="#9a70b8" stroke-width="0.3"/><ellipse cx="232.9" cy="394.8" rx="2.3" ry="1.0" fill="#ebe0f3" opacity="0.9"/><ellipse cx="254.1" cy="397.0" rx="3.7" ry="2.6" fill="#b487d2" stroke="#9a70b8" stroke-width="0.3"/><ellipse cx="254.1" cy="395.8" rx="2.3" ry="1.0" fill="#ebe0f3" opacity="0.9"/><ellipse cx="228.1" cy="401.4" rx="3.7" ry="2.6" fill="#b487d2" stroke="#9a70b8" stroke-width="0.3"/><ellipse cx="228.1" cy="400.2" rx="2.3" ry="1.0" fill="#ebe0f3" opacity="0.9"/><ellipse cx="235.4" cy="401.4" rx="3.7" ry="2.6" fill="#b487d2" stroke="#9a70b8" stroke-width="0.3"/><ellipse cx="235.4" cy="400.2" rx="2.3" ry="1.0" fill="#ebe0f3" opacity="0.9"/><ellipse cx="245.1" cy="401.8" rx="3.7" ry="2.6" fill="#b487d2" stroke="#9a70b8" stroke-width="0.3"/><ellipse cx="245.1" cy="400.6" rx="2.3" ry="1.0" fill="#ebe0f3" opacity="0.9"/><ellipse cx="249.6" cy="400.4" rx="3.7" ry="2.6" fill="#b487d2" stroke="#9a70b8" stroke-width="0.3"/><ellipse cx="249.6" cy="399.2" rx="2.3" ry="1.0" fill="#ebe0f3" opacity="0.9"/><ellipse cx="221.1" cy="401.2" rx="3.7" ry="2.6" fill="#b487d2" stroke="#9a70b8" stroke-width="0.3"/><ellipse cx="221.1" cy="400.0" rx="2.3" ry="1.0" fill="#ebe0f3" opacity="0.9"/><ellipse cx="242.4" cy="391.3" rx="2.65" ry="1.85" fill="#c22020" stroke="#8e1414" stroke-width="0.5"/><ellipse cx="242.4" cy="391.3" rx="1.1" ry="0.6" fill="#e04a40" opacity="0.8"/><ellipse cx="238.8" cy="394.5" rx="2.65" ry="1.85" fill="#c22020" stroke="#8e1414" stroke-width="0.5"/><ellipse cx="238.8" cy="394.5" rx="1.1" ry="0.6" fill="#e04a40" opacity="0.8"/><ellipse cx="246.0" cy="394.8" rx="2.65" ry="1.85" fill="#c22020" stroke="#8e1414" stroke-width="0.5"/><ellipse cx="246.0" cy="394.8" rx="1.1" ry="0.6" fill="#e04a40" opacity="0.8"/><ellipse cx="253.2" cy="394.5" rx="2.65" ry="1.85" fill="#c22020" stroke="#8e1414" stroke-width="0.5"/><ellipse cx="253.2" cy="394.5" rx="1.1" ry="0.6" fill="#e04a40" opacity="0.8"/><ellipse cx="235.6" cy="397.5" rx="2.65" ry="1.85" fill="#c22020" stroke="#8e1414" stroke-width="0.5"/><ellipse cx="235.6" cy="397.5" rx="1.1" ry="0.6" fill="#e04a40" opacity="0.8"/><ellipse cx="241.8" cy="397.5" rx="2.65" ry="1.85" fill="#c22020" stroke="#8e1414" stroke-width="0.5"/><ellipse cx="241.8" cy="397.5" rx="1.1" ry="0.6" fill="#e04a40" opacity="0.8"/><ellipse cx="249.0" cy="397.5" rx="2.65" ry="1.85" fill="#c22020" stroke="#8e1414" stroke-width="0.5"/><ellipse cx="249.0" cy="397.5" rx="1.1" ry="0.6" fill="#e04a40" opacity="0.8"/><ellipse cx="245.0" cy="400.5" rx="2.65" ry="1.85" fill="#c22020" stroke="#8e1414" stroke-width="0.5"/><ellipse cx="245.0" cy="400.5" rx="1.1" ry="0.6" fill="#e04a40" opacity="0.8"/>
<text x="23.8" y="417.1" font-size="8.96" text-anchor="start" fill="#222" stroke="#222" textLength="38.2" lengthAdjust="spacingAndGlyphs">Sickle RBCs</text>
<text x="20.6" y="429.1" font-size="8.96" text-anchor="start" fill="#222" stroke="#222" textLength="43.9" lengthAdjust="spacingAndGlyphs">Normal RBCs</text>
<text x="88.75" y="417.1" font-size="8.96" text-anchor="middle" fill="#222" stroke="#222" textLength="18.5" lengthAdjust="spacingAndGlyphs">100%</text>
<text x="88.75" y="429.1" font-size="8.96" text-anchor="middle" fill="#222" stroke="#222" textLength="11.3" lengthAdjust="spacingAndGlyphs">0%</text>
<text x="137.8" y="417.1" font-size="8.96" text-anchor="middle" fill="#222" stroke="#222" textLength="14.4" lengthAdjust="spacingAndGlyphs">50%</text>
<text x="137.8" y="429.1" font-size="8.96" text-anchor="middle" fill="#222" stroke="#222" textLength="14.4" lengthAdjust="spacingAndGlyphs">50%</text>
<text x="186.8" y="417.1" font-size="8.96" text-anchor="middle" fill="#222" stroke="#222" textLength="14.4" lengthAdjust="spacingAndGlyphs">25%</text>
<text x="186.8" y="429.1" font-size="8.96" text-anchor="middle" fill="#222" stroke="#222" textLength="14.4" lengthAdjust="spacingAndGlyphs">75%</text>
<text x="237.3" y="417.1" font-size="8.96" text-anchor="middle" fill="#222" stroke="#222" textLength="20.6" lengthAdjust="spacingAndGlyphs">12.5%</text>
<text x="237.3" y="429.1" font-size="8.96" text-anchor="middle" fill="#222" stroke="#222" textLength="20.6" lengthAdjust="spacingAndGlyphs">87.5%</text>
<line x1="264.5" y1="397.5" x2="308.7" y2="397.5" stroke="#111" stroke-width="1.0"/>
<polygon points="313.20,397.50 307.40,399.90 308.70,397.50 307.40,395.10" fill="#111"/>
<text x="273.3" y="407.7" font-size="8.96" text-anchor="start" fill="#222" stroke="#222" textLength="29.7" lengthAdjust="spacingAndGlyphs">Cultured</text>
<text x="272.1" y="417.4" font-size="8.96" text-anchor="start" fill="#222" stroke="#222" textLength="32.9" lengthAdjust="spacingAndGlyphs">overnight</text>
<rect x="315.6" y="380.6" width="66.2" height="33.1" fill="none" stroke="#333" stroke-width="1.1"/>
<text x="335.1" y="395.9" font-size="8.96" text-anchor="start" fill="#222" stroke="#222" textLength="27.9" lengthAdjust="spacingAndGlyphs">Analysis</text>
<text x="330.6" y="405.4" font-size="8.96" text-anchor="start" fill="#222" stroke="#222" textLength="36.9" lengthAdjust="spacingAndGlyphs">using FCM</text>
<text x="9.2" y="455.4" font-size="11" text-anchor="start" fill="#222" stroke="#222" textLength="5.6" lengthAdjust="spacingAndGlyphs">E</text>
<line x1="41.3" y1="460.6" x2="41.3" y2="538.3" stroke="#231f20" stroke-width="1.1"/>
<line x1="41.3" y1="538.3" x2="137.2" y2="538.3" stroke="#231f20" stroke-width="1.1"/>
<line x1="38.5" y1="463.3" x2="41.3" y2="463.3" stroke="#231f20" stroke-width="1"/>
<text x="35.6" y="465.5" font-size="8.74" text-anchor="end" fill="#222" stroke="#222" textLength="8.0" lengthAdjust="spacingAndGlyphs">15</text>
<line x1="38.5" y1="488.3" x2="41.3" y2="488.3" stroke="#231f20" stroke-width="1"/>
<text x="35.6" y="490.5" font-size="8.74" text-anchor="end" fill="#222" stroke="#222" textLength="8.0" lengthAdjust="spacingAndGlyphs">10</text>
<line x1="38.5" y1="513.3" x2="41.3" y2="513.3" stroke="#231f20" stroke-width="1"/>
<text x="35.6" y="515.5" font-size="8.74" text-anchor="end" fill="#222" stroke="#222" textLength="4.0" lengthAdjust="spacingAndGlyphs">5</text>
<line x1="38.5" y1="538.3" x2="41.3" y2="538.3" stroke="#231f20" stroke-width="1"/>
<text x="35.6" y="540.5" font-size="8.74" text-anchor="end" fill="#222" stroke="#222" textLength="4.0" lengthAdjust="spacingAndGlyphs">0</text>
<rect x="45.5" y="485.6" width="16.1" height="52.69999999999993" fill="none" stroke="#8598ba" stroke-width="1.35"/>
<line x1="53.55" y1="538.3" x2="53.55" y2="541.2" stroke="#231f20" stroke-width="1"/>
<rect x="68.9" y="497.6" width="16.39999999999999" height="40.69999999999993" fill="none" stroke="#c8505e" stroke-width="1.35"/>
<line x1="77.1" y1="538.3" x2="77.1" y2="541.2" stroke="#231f20" stroke-width="1"/>
<rect x="92.6" y="503.2" width="16.10000000000001" height="35.099999999999966" fill="none" stroke="#7ab05c" stroke-width="1.35"/>
<line x1="100.65" y1="538.3" x2="100.65" y2="541.2" stroke="#231f20" stroke-width="1"/>
<rect x="116.3" y="524.6" width="16.39999999999999" height="13.699999999999932" fill="none" stroke="#d05aa4" stroke-width="1.35"/>
<line x1="124.5" y1="538.3" x2="124.5" y2="541.2" stroke="#231f20" stroke-width="1"/>
<circle cx="53.10" cy="471.30" r="2.3" fill="#3b5b8c"/>
<circle cx="49.80" cy="477.90" r="2.3" fill="#3b5b8c"/>
<circle cx="56.90" cy="482.30" r="2.3" fill="#3b5b8c"/>
<circle cx="48.60" cy="486.20" r="2.3" fill="#3b5b8c"/>
<circle cx="52.20" cy="487.00" r="2.3" fill="#3b5b8c"/>
<circle cx="55.60" cy="486.40" r="2.3" fill="#3b5b8c"/>
<circle cx="58.40" cy="487.20" r="2.3" fill="#3b5b8c"/>
<circle cx="50.20" cy="490.00" r="2.3" fill="#3b5b8c"/>
<circle cx="54.00" cy="491.00" r="2.3" fill="#3b5b8c"/>
<circle cx="57.00" cy="490.20" r="2.3" fill="#3b5b8c"/>
<circle cx="52.60" cy="492.20" r="2.3" fill="#3b5b8c"/>
<line x1="53.5" y1="484" x2="53.5" y2="490" stroke="#dde" stroke-width="0.8"/>
<rect x="68.2" y="489.4" width="4.2" height="4.2" fill="#a3203a"/>
<rect x="81.9" y="490.79999999999995" width="4.2" height="4.2" fill="#a3203a"/>
<rect x="71.5" y="494.9" width="4.2" height="4.2" fill="#a3203a"/>
<rect x="75.10000000000001" y="495.29999999999995" width="4.2" height="4.2" fill="#a3203a"/>
<rect x="78.5" y="494.9" width="4.2" height="4.2" fill="#a3203a"/>
<rect x="72.9" y="498.29999999999995" width="4.2" height="4.2" fill="#a3203a"/>
<rect x="76.9" y="498.29999999999995" width="4.2" height="4.2" fill="#a3203a"/>
<rect x="73.5" y="501.29999999999995" width="4.2" height="4.2" fill="#a3203a"/>
<rect x="77.5" y="501.29999999999995" width="4.2" height="4.2" fill="#a3203a"/>
<polygon points="94.45,499.28 99.75,499.28 97.10,494.51" fill="#6aaa4a"/>
<polygon points="104.85,500.49 110.15,500.49 107.50,495.72" fill="#6aaa4a"/>
<polygon points="95.95,507.78 101.25,507.78 98.60,503.01" fill="#6aaa4a"/>
<polygon points="99.55,507.38 104.85,507.38 102.20,502.62" fill="#6aaa4a"/>
<polygon points="102.55,508.38 107.85,508.38 105.20,503.62" fill="#6aaa4a"/>
<polygon points="96.55,511.19 101.85,511.19 99.20,506.42" fill="#6aaa4a"/>
<polygon points="100.55,511.19 105.85,511.19 103.20,506.42" fill="#6aaa4a"/>
<polygon points="116.75,516.41 122.05,516.41 119.40,521.18" fill="#c82c8a"/>
<polygon points="126.15,513.91 131.45,513.91 128.80,518.68" fill="#c82c8a"/>
<polygon points="121.75,518.91 127.05,518.91 124.40,523.68" fill="#c82c8a"/>
<polygon points="124.85,528.22 130.15,528.22 127.50,532.99" fill="#c82c8a"/>
<polygon points="117.95,531.62 123.25,531.62 120.60,536.38" fill="#c82c8a"/>
<line x1="124.4" y1="521" x2="124.4" y2="528" stroke="#c82c8a" stroke-width="0.8"/>
<line x1="121.5" y1="528" x2="127.3" y2="528" stroke="#c82c8a" stroke-width="0.8"/>
<circle cx="75.30" cy="484.60" r="0.95" fill="#333"/>
<circle cx="78.30" cy="484.60" r="0.95" fill="#333"/>
<circle cx="96.80" cy="489.80" r="0.95" fill="#333"/>
<circle cx="99.80" cy="489.80" r="0.95" fill="#333"/>
<circle cx="102.80" cy="489.80" r="0.95" fill="#333"/>
<circle cx="120.60" cy="504.80" r="0.95" fill="#333"/>
<circle cx="123.60" cy="504.80" r="0.95" fill="#333"/>
<circle cx="126.60" cy="504.80" r="0.95" fill="#333"/>
<text x="20.9" y="527.4" font-size="11.0" text-anchor="start" fill="#222" stroke="#222" textLength="56.2" lengthAdjust="spacingAndGlyphs" transform="rotate(-90 20.9 527.4)">% CFSE<tspan font-size="7.2" dy="-4">+</tspan><tspan dy="4"> PMo</tspan></text>
<text x="57.1" y="548.8" font-size="8.74" text-anchor="end" fill="#222" stroke="#222" textLength="19.0" lengthAdjust="spacingAndGlyphs" transform="rotate(-45 57.1 548.8)">100%</text>
<text x="80.5" y="548.8" font-size="8.74" text-anchor="end" fill="#222" stroke="#222" textLength="14.6" lengthAdjust="spacingAndGlyphs" transform="rotate(-45 80.5 548.8)">50%</text>
<text x="104.1" y="548.8" font-size="8.74" text-anchor="end" fill="#222" stroke="#222" textLength="14.6" lengthAdjust="spacingAndGlyphs" transform="rotate(-45 104.1 548.8)">25%</text>
<text x="128.5" y="548.8" font-size="8.74" text-anchor="end" fill="#222" stroke="#222" textLength="22.6" lengthAdjust="spacingAndGlyphs" transform="rotate(-45 128.5 548.8)">12.5%</text>
<text x="35.6" y="579.8" font-size="9.75" text-anchor="start" fill="#222" stroke="#222" textLength="110.7" lengthAdjust="spacingAndGlyphs">Sickle RBCs vs Normal RBCs</text>
<text x="148.8" y="455.4" font-size="11" text-anchor="start" fill="#222" stroke="#222" textLength="5.2" lengthAdjust="spacingAndGlyphs">F</text>
<line x1="199.2" y1="460.6" x2="199.2" y2="538.3" stroke="#231f20" stroke-width="1.1"/>
<line x1="199.2" y1="538.3" x2="295.1" y2="538.3" stroke="#231f20" stroke-width="1.1"/>
<line x1="196.39999999999998" y1="463.3" x2="199.2" y2="463.3" stroke="#231f20" stroke-width="1"/>
<text x="193.6" y="465.5" font-size="8.74" text-anchor="end" fill="#222" stroke="#222" textLength="17.0" lengthAdjust="spacingAndGlyphs">1500</text>
<line x1="196.39999999999998" y1="488.3" x2="199.2" y2="488.3" stroke="#231f20" stroke-width="1"/>
<text x="193.6" y="490.5" font-size="8.74" text-anchor="end" fill="#222" stroke="#222" textLength="17.0" lengthAdjust="spacingAndGlyphs">1000</text>
<line x1="196.39999999999998" y1="513.3" x2="199.2" y2="513.3" stroke="#231f20" stroke-width="1"/>
<text x="193.6" y="515.5" font-size="8.74" text-anchor="end" fill="#222" stroke="#222" textLength="12.8" lengthAdjust="spacingAndGlyphs">500</text>
<line x1="196.39999999999998" y1="538.3" x2="199.2" y2="538.3" stroke="#231f20" stroke-width="1"/>
<text x="193.6" y="540.5" font-size="8.74" text-anchor="end" fill="#222" stroke="#222" textLength="4.2" lengthAdjust="spacingAndGlyphs">0</text>
<rect x="203.0" y="486.6" width="16.80000000000001" height="51.69999999999993" fill="none" stroke="#8598ba" stroke-width="1.35"/>
<line x1="211.4" y1="538.3" x2="211.4" y2="541.2" stroke="#231f20" stroke-width="1"/>
<rect x="226.6" y="498.5" width="16.200000000000017" height="39.799999999999955" fill="none" stroke="#c8505e" stroke-width="1.35"/>
<line x1="234.7" y1="538.3" x2="234.7" y2="541.2" stroke="#231f20" stroke-width="1"/>
<rect x="250.3" y="508.3" width="16.30000000000001" height="29.999999999999943" fill="none" stroke="#7ab05c" stroke-width="1.35"/>
<line x1="258.45000000000005" y1="538.3" x2="258.45000000000005" y2="541.2" stroke="#231f20" stroke-width="1"/>
<rect x="273.9" y="527.3" width="16.700000000000045" height="11.0" fill="none" stroke="#d05aa4" stroke-width="1.35"/>
<line x1="282.25" y1="538.3" x2="282.25" y2="541.2" stroke="#231f20" stroke-width="1"/>
<circle cx="206.50" cy="473.50" r="2.3" fill="#3b5b8c"/>
<circle cx="210.90" cy="479.80" r="2.3" fill="#3b5b8c"/>
<circle cx="215.60" cy="478.50" r="2.3" fill="#3b5b8c"/>
<circle cx="207.10" cy="483.50" r="2.3" fill="#3b5b8c"/>
<circle cx="217.80" cy="487.80" r="2.3" fill="#3b5b8c"/>
<circle cx="207.50" cy="493.50" r="2.3" fill="#3b5b8c"/>
<circle cx="214.00" cy="492.80" r="2.3" fill="#3b5b8c"/>
<circle cx="209.00" cy="496.50" r="2.3" fill="#3b5b8c"/>
<circle cx="213.10" cy="496.00" r="2.3" fill="#3b5b8c"/>
<line x1="210.9" y1="484.4" x2="210.9" y2="489.4" stroke="#8598ba" stroke-width="0.8"/>
<line x1="208" y1="484.4" x2="214" y2="484.4" stroke="#8598ba" stroke-width="0.8"/>
<rect x="232.3" y="487.5" width="4.2" height="4.2" fill="#a3203a"/>
<rect x="228.5" y="494.2" width="4.2" height="4.2" fill="#a3203a"/>
<rect x="236.9" y="493.79999999999995" width="4.2" height="4.2" fill="#a3203a"/>
<rect x="231.70000000000002" y="495.79999999999995" width="4.2" height="4.2" fill="#a3203a"/>
<rect x="229.20000000000002" y="503.9" width="4.2" height="4.2" fill="#a3203a"/>
<rect x="235.70000000000002" y="501.7" width="4.2" height="4.2" fill="#a3203a"/>
<polygon points="252.15,505.49 257.45,505.49 254.80,500.72" fill="#6aaa4a"/>
<polygon points="258.95,505.49 264.25,505.49 261.60,500.72" fill="#6aaa4a"/>
<polygon points="254.25,508.69 259.55,508.69 256.90,503.92" fill="#6aaa4a"/>
<polygon points="256.95,508.38 262.25,508.38 259.60,503.62" fill="#6aaa4a"/>
<polygon points="252.15,518.38 257.45,518.38 254.80,513.62" fill="#6aaa4a"/>
<polygon points="258.85,518.38 264.15,518.38 261.50,513.62" fill="#6aaa4a"/>
<line x1="258.5" y1="507" x2="258.5" y2="510" stroke="#6aaa4a" stroke-width="0.8"/>
<line x1="255.5" y1="510" x2="261.5" y2="510" stroke="#6aaa4a" stroke-width="0.8"/>
<polygon points="274.45,520.12 279.75,520.12 277.10,524.88" fill="#c82c8a"/>
<polygon points="279.45,520.72 284.75,520.72 282.10,525.49" fill="#c82c8a"/>
<polygon points="283.85,517.91 289.15,517.91 286.50,522.68" fill="#c82c8a"/>
<polygon points="282.75,529.91 288.05,529.91 285.40,534.68" fill="#c82c8a"/>
<polygon points="276.15,533.01 281.45,533.01 278.80,537.78" fill="#c82c8a"/>
<line x1="282.1" y1="524" x2="282.1" y2="531" stroke="#c82c8a" stroke-width="0.8"/>
<line x1="279" y1="530" x2="285" y2="530" stroke="#c82c8a" stroke-width="0.8"/>
<circle cx="234.80" cy="481.90" r="0.95" fill="#333"/>
<circle cx="254.40" cy="494.40" r="0.95" fill="#333"/>
<circle cx="257.40" cy="494.40" r="0.95" fill="#333"/>
<circle cx="260.40" cy="494.40" r="0.95" fill="#333"/>
<circle cx="278.60" cy="509.60" r="0.95" fill="#333"/>
<circle cx="281.60" cy="509.60" r="0.95" fill="#333"/>
<circle cx="284.60" cy="509.60" r="0.95" fill="#333"/>
<text x="158.4" y="512.4" font-size="11.0" text-anchor="start" fill="#222" stroke="#222" textLength="27.4" lengthAdjust="spacingAndGlyphs" transform="rotate(-90 158.4 512.4)"># dead</text>
<text x="169.0" y="531.8" font-size="11.0" text-anchor="start" fill="#222" stroke="#222" textLength="66.0" lengthAdjust="spacingAndGlyphs" transform="rotate(-90 169.0 531.8)">CFSE<tspan font-size="7.2" dy="-4">+</tspan><tspan dy="4"> PMo/well</tspan></text>
<text x="214.9" y="548.8" font-size="8.74" text-anchor="end" fill="#222" stroke="#222" textLength="19.0" lengthAdjust="spacingAndGlyphs" transform="rotate(-45 214.9 548.8)">100%</text>
<text x="238.5" y="548.8" font-size="8.74" text-anchor="end" fill="#222" stroke="#222" textLength="14.6" lengthAdjust="spacingAndGlyphs" transform="rotate(-45 238.5 548.8)">50%</text>
<text x="262.1" y="548.8" font-size="8.74" text-anchor="end" fill="#222" stroke="#222" textLength="14.6" lengthAdjust="spacingAndGlyphs" transform="rotate(-45 262.1 548.8)">25%</text>
<text x="285.9" y="548.8" font-size="8.74" text-anchor="end" fill="#222" stroke="#222" textLength="22.6" lengthAdjust="spacingAndGlyphs" transform="rotate(-45 285.9 548.8)">12.5%</text>
<text x="190.7" y="572.5" font-size="9.75" text-anchor="start" fill="#222" stroke="#222" textLength="112.2" lengthAdjust="spacingAndGlyphs">Sickle RBCs vs Normal RBCs</text>
<text x="303.8" y="455.9" font-size="11" text-anchor="start" fill="#222" stroke="#222" textLength="8.6" lengthAdjust="spacingAndGlyphs">G</text>
<line x1="337.2" y1="460.6" x2="337.2" y2="538.3" stroke="#231f20" stroke-width="1.1"/>
<line x1="337.2" y1="538.3" x2="404.6" y2="538.3" stroke="#231f20" stroke-width="1.1"/>
<line x1="334.4" y1="463.3" x2="337.2" y2="463.3" stroke="#231f20" stroke-width="1"/>
<text x="331.0" y="465.5" font-size="8.74" text-anchor="end" fill="#222" stroke="#222" textLength="7.8" lengthAdjust="spacingAndGlyphs">10</text>
<line x1="334.4" y1="478.3" x2="337.2" y2="478.3" stroke="#231f20" stroke-width="1"/>
<text x="331.0" y="480.5" font-size="8.74" text-anchor="end" fill="#222" stroke="#222" textLength="4.0" lengthAdjust="spacingAndGlyphs">8</text>
<line x1="334.4" y1="493.3" x2="337.2" y2="493.3" stroke="#231f20" stroke-width="1"/>
<text x="331.0" y="495.5" font-size="8.74" text-anchor="end" fill="#222" stroke="#222" textLength="4.0" lengthAdjust="spacingAndGlyphs">6</text>
<line x1="334.4" y1="508.3" x2="337.2" y2="508.3" stroke="#231f20" stroke-width="1"/>
<text x="331.0" y="510.5" font-size="8.74" text-anchor="end" fill="#222" stroke="#222" textLength="4.0" lengthAdjust="spacingAndGlyphs">4</text>
<line x1="334.4" y1="523.3" x2="337.2" y2="523.3" stroke="#231f20" stroke-width="1"/>
<text x="331.0" y="525.5" font-size="8.74" text-anchor="end" fill="#222" stroke="#222" textLength="4.0" lengthAdjust="spacingAndGlyphs">2</text>
<line x1="334.4" y1="538.3" x2="337.2" y2="538.3" stroke="#231f20" stroke-width="1"/>
<text x="331.0" y="540.5" font-size="8.74" text-anchor="end" fill="#222" stroke="#222" textLength="4.0" lengthAdjust="spacingAndGlyphs">0</text>
<line x1="353.8" y1="538.3" x2="353.8" y2="541.2" stroke="#231f20" stroke-width="1"/>
<line x1="387.5" y1="538.3" x2="387.5" y2="541.2" stroke="#231f20" stroke-width="1"/>
<rect x="385.2" y="488.7" width="4.7" height="13.2" fill="#a3203a"/>
<rect x="385.2" y="503.9" width="4.7" height="16.7" fill="#a3203a"/>
<line x1="353.8" y1="475.6" x2="387.5" y2="490" stroke="#3b5b8c" stroke-width="0.85"/>
<line x1="353.8" y1="487.5" x2="387.5" y2="506" stroke="#3b5b8c" stroke-width="0.85"/>
<line x1="353.8" y1="491.9" x2="387.5" y2="511" stroke="#3b5b8c" stroke-width="0.85"/>
<line x1="353.8" y1="494" x2="387.5" y2="494.6" stroke="#3b5b8c" stroke-width="0.85"/>
<line x1="353.8" y1="496.9" x2="387.5" y2="499.4" stroke="#3b5b8c" stroke-width="0.85"/>
<line x1="353.8" y1="496.9" x2="387.5" y2="513" stroke="#3b5b8c" stroke-width="0.85"/>
<line x1="353.8" y1="500.4" x2="387.5" y2="516" stroke="#3b5b8c" stroke-width="0.85"/>
<line x1="353.8" y1="506" x2="387.5" y2="504.75" stroke="#3b5b8c" stroke-width="0.85"/>
<line x1="353.8" y1="508.1" x2="387.5" y2="508" stroke="#3b5b8c" stroke-width="0.85"/>
<line x1="353.8" y1="514.4" x2="387.5" y2="518.1" stroke="#3b5b8c" stroke-width="0.85"/>
<circle cx="353.80" cy="475.60" r="2.4" fill="#3b5b8c"/>
<circle cx="353.80" cy="487.50" r="2.4" fill="#3b5b8c"/>
<circle cx="353.80" cy="491.90" r="2.4" fill="#3b5b8c"/>
<circle cx="353.80" cy="494.00" r="2.4" fill="#3b5b8c"/>
<circle cx="353.80" cy="496.90" r="2.4" fill="#3b5b8c"/>
<circle cx="353.80" cy="496.90" r="2.4" fill="#3b5b8c"/>
<circle cx="353.80" cy="500.40" r="2.4" fill="#3b5b8c"/>
<circle cx="353.80" cy="506.00" r="2.4" fill="#3b5b8c"/>
<circle cx="353.80" cy="508.10" r="2.4" fill="#3b5b8c"/>
<circle cx="353.80" cy="514.40" r="2.4" fill="#3b5b8c"/>
<circle cx="368.50" cy="470.30" r="0.95" fill="#333"/>
<circle cx="371.50" cy="470.30" r="0.95" fill="#333"/>
<text x="316.1" y="526.6" font-size="11.0" text-anchor="start" fill="#222" stroke="#222" textLength="54.4" lengthAdjust="spacingAndGlyphs" transform="rotate(-90 316.1 526.6)">% GPA<tspan font-size="7.2" dy="-4">+</tspan><tspan dy="4"> PMo</tspan></text>
<text x="342.6" y="551.7" font-size="8.18" text-anchor="start" fill="#222" stroke="#222" textLength="22.4" lengthAdjust="spacingAndGlyphs">Before</text>
<text x="379.6" y="551.7" font-size="8.18" text-anchor="start" fill="#222" stroke="#222" textLength="16.6" lengthAdjust="spacingAndGlyphs">After</text>
<text x="347.6" y="565.5" font-size="10.81" text-anchor="start" fill="#222" stroke="#222" textLength="46.9" lengthAdjust="spacingAndGlyphs">Transfusion</text>
<text x="415.1" y="455.4" font-size="11" text-anchor="start" fill="#222" stroke="#222" textLength="7.4" lengthAdjust="spacingAndGlyphs">H</text>
<line x1="443.8" y1="460.6" x2="443.8" y2="538.3" stroke="#231f20" stroke-width="1.1"/>
<line x1="443.8" y1="538.3" x2="512.0" y2="538.3" stroke="#231f20" stroke-width="1.1"/>
<line x1="441.0" y1="463.3" x2="443.8" y2="463.3" stroke="#231f20" stroke-width="1"/>
<text x="437.6" y="465.5" font-size="8.74" text-anchor="end" fill="#222" stroke="#222" textLength="7.8" lengthAdjust="spacingAndGlyphs">15</text>
<line x1="441.0" y1="488.3" x2="443.8" y2="488.3" stroke="#231f20" stroke-width="1"/>
<text x="437.6" y="490.5" font-size="8.74" text-anchor="end" fill="#222" stroke="#222" textLength="7.8" lengthAdjust="spacingAndGlyphs">10</text>
<line x1="441.0" y1="513.3" x2="443.8" y2="513.3" stroke="#231f20" stroke-width="1"/>
<text x="437.6" y="515.5" font-size="8.74" text-anchor="end" fill="#222" stroke="#222" textLength="4.0" lengthAdjust="spacingAndGlyphs">5</text>
<line x1="441.0" y1="538.3" x2="443.8" y2="538.3" stroke="#231f20" stroke-width="1"/>
<text x="437.6" y="540.5" font-size="8.74" text-anchor="end" fill="#222" stroke="#222" textLength="4.0" lengthAdjust="spacingAndGlyphs">0</text>
<line x1="461.0" y1="538.3" x2="461.0" y2="541.2" stroke="#231f20" stroke-width="1"/>
<line x1="494.9" y1="538.3" x2="494.9" y2="541.2" stroke="#231f20" stroke-width="1"/>
<rect x="492.5" y="484.3" width="4.5" height="4.4" fill="#a3203a"/>
<rect x="492.5" y="497.1" width="4.5" height="33.6" fill="#a3203a"/>
<rect x="492.5" y="501.6" width="4.5" height="0.8" fill="#e4a8b2"/>
<rect x="492.5" y="515.4" width="4.5" height="0.8" fill="#e4a8b2"/>
<rect x="492.5" y="521.0" width="4.5" height="0.8" fill="#e4a8b2"/>
<line x1="461.0" y1="509" x2="494.7" y2="486.5" stroke="#3b5b8c" stroke-width="0.85"/>
<line x1="461.0" y1="501.9" x2="494.7" y2="507.3" stroke="#3b5b8c" stroke-width="0.85"/>
<line x1="461.0" y1="509" x2="494.7" y2="499.5" stroke="#3b5b8c" stroke-width="0.85"/>
<line x1="461.0" y1="510.6" x2="494.7" y2="505" stroke="#3b5b8c" stroke-width="0.85"/>
<line x1="461.0" y1="509.5" x2="494.7" y2="506" stroke="#3b5b8c" stroke-width="0.85"/>
<line x1="461.0" y1="516.9" x2="494.7" y2="513.1" stroke="#3b5b8c" stroke-width="0.85"/>
<line x1="461.0" y1="518.8" x2="494.7" y2="518.4" stroke="#3b5b8c" stroke-width="0.85"/>
<line x1="461.0" y1="524.4" x2="494.7" y2="523.8" stroke="#3b5b8c" stroke-width="0.85"/>
<line x1="461.0" y1="526.3" x2="494.7" y2="524" stroke="#3b5b8c" stroke-width="0.85"/>
<line x1="461.0" y1="528.8" x2="494.7" y2="529.4" stroke="#3b5b8c" stroke-width="0.85"/>
<line x1="461.0" y1="532.8" x2="494.7" y2="529" stroke="#3b5b8c" stroke-width="0.85"/>
<circle cx="461.00" cy="509.00" r="2.4" fill="#3b5b8c"/>
<circle cx="461.00" cy="501.90" r="2.4" fill="#3b5b8c"/>
<circle cx="461.00" cy="509.00" r="2.4" fill="#3b5b8c"/>
<circle cx="461.00" cy="510.60" r="2.4" fill="#3b5b8c"/>
<circle cx="461.00" cy="509.50" r="2.4" fill="#3b5b8c"/>
<circle cx="461.00" cy="516.90" r="2.4" fill="#3b5b8c"/>
<circle cx="461.00" cy="518.80" r="2.4" fill="#3b5b8c"/>
<circle cx="461.00" cy="524.40" r="2.4" fill="#3b5b8c"/>
<circle cx="461.00" cy="526.30" r="2.4" fill="#3b5b8c"/>
<circle cx="461.00" cy="528.80" r="2.4" fill="#3b5b8c"/>
<circle cx="461.00" cy="532.80" r="2.4" fill="#3b5b8c"/>
<circle cx="478.00" cy="477.80" r="0.95" fill="#333"/>
<text x="423.5" y="513.9" font-size="11.0" text-anchor="start" fill="#222" stroke="#222" textLength="29.0" lengthAdjust="spacingAndGlyphs" transform="rotate(-90 423.5 513.9)">% PMo</text>
<text x="450.1" y="551.7" font-size="8.18" text-anchor="start" fill="#222" stroke="#222" textLength="22.0" lengthAdjust="spacingAndGlyphs">Before</text>
<text x="487.1" y="551.7" font-size="8.18" text-anchor="start" fill="#222" stroke="#222" textLength="16.2" lengthAdjust="spacingAndGlyphs">After</text>
<text x="455.1" y="565.5" font-size="10.81" text-anchor="start" fill="#222" stroke="#222" textLength="46.9" lengthAdjust="spacingAndGlyphs">Transfusion</text>
<rect x="0" y="0" width="520" height="1" fill="#000"/>
<rect x="0" y="1" width="520" height="1" fill="#ececec"/>
<rect x="0" y="0" width="1" height="590" fill="#454545"/>
<rect x="1" y="1" width="1" height="588" fill="#8c8c8c"/>
<rect x="519" y="0" width="1" height="590" fill="#4a4a4a"/>
<rect x="518" y="1" width="1" height="588" fill="#9c9c9c"/>
<rect x="0" y="589" width="520" height="1" fill="#404040"/>
<rect x="1" y="588" width="518" height="1" fill="#8c8c8c"/>
</svg>
</body></html>
